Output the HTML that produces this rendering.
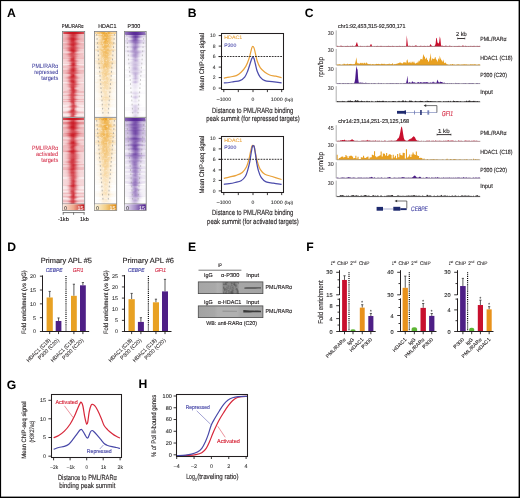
<!DOCTYPE html><html><head><meta charset="utf-8"><title>Figure</title><style>html,body{margin:0;padding:0;background:#fff;width:520px;height:498px;overflow:hidden;}svg{display:block;font-family:"Liberation Sans",sans-serif;will-change:transform;text-rendering:geometricPrecision;}</style></head><body><svg width="520" height="498" viewBox="0 0 520 498" font-family="&quot;Liberation Sans&quot;, sans-serif" fill="#231f20"><defs><style>.cr stop{stop-color:#c9141f}.co stop{stop-color:#eb9d1a}.cp stop{stop-color:#5a2a98}</style><linearGradient id="r00" class="cr"><stop offset="0" stop-opacity="0.00"/><stop offset="0.0833" stop-opacity="0.00"/><stop offset="0.167" stop-opacity="0.00"/><stop offset="0.25" stop-opacity="0.01"/><stop offset="0.333" stop-opacity="0.16"/><stop offset="0.417" stop-opacity="0.74"/><stop offset="0.5" stop-opacity="0.95"/><stop offset="0.583" stop-opacity="0.35"/><stop offset="0.667" stop-opacity="0.04"/><stop offset="0.75" stop-opacity="0.00"/><stop offset="0.833" stop-opacity="0.00"/><stop offset="0.917" stop-opacity="0.00"/><stop offset="1" stop-opacity="0.00"/></linearGradient><linearGradient id="r01" class="cr"><stop offset="0" stop-opacity="0.10"/><stop offset="0.0833" stop-opacity="0.10"/><stop offset="0.167" stop-opacity="0.10"/><stop offset="0.25" stop-opacity="0.11"/><stop offset="0.333" stop-opacity="0.25"/><stop offset="0.417" stop-opacity="0.76"/><stop offset="0.5" stop-opacity="0.95"/><stop offset="0.583" stop-opacity="0.41"/><stop offset="0.667" stop-opacity="0.13"/><stop offset="0.75" stop-opacity="0.10"/><stop offset="0.833" stop-opacity="0.10"/><stop offset="0.917" stop-opacity="0.10"/><stop offset="1" stop-opacity="0.10"/></linearGradient><linearGradient id="r02" class="cr"><stop offset="0" stop-opacity="0.20"/><stop offset="0.0833" stop-opacity="0.20"/><stop offset="0.167" stop-opacity="0.20"/><stop offset="0.25" stop-opacity="0.21"/><stop offset="0.333" stop-opacity="0.33"/><stop offset="0.417" stop-opacity="0.79"/><stop offset="0.5" stop-opacity="0.96"/><stop offset="0.583" stop-opacity="0.48"/><stop offset="0.667" stop-opacity="0.23"/><stop offset="0.75" stop-opacity="0.20"/><stop offset="0.833" stop-opacity="0.20"/><stop offset="0.917" stop-opacity="0.20"/><stop offset="1" stop-opacity="0.20"/></linearGradient><linearGradient id="r03" class="cr"><stop offset="0" stop-opacity="0.32"/><stop offset="0.0833" stop-opacity="0.32"/><stop offset="0.167" stop-opacity="0.32"/><stop offset="0.25" stop-opacity="0.33"/><stop offset="0.333" stop-opacity="0.43"/><stop offset="0.417" stop-opacity="0.82"/><stop offset="0.5" stop-opacity="0.96"/><stop offset="0.583" stop-opacity="0.56"/><stop offset="0.667" stop-opacity="0.34"/><stop offset="0.75" stop-opacity="0.32"/><stop offset="0.833" stop-opacity="0.32"/><stop offset="0.917" stop-opacity="0.32"/><stop offset="1" stop-opacity="0.32"/></linearGradient><linearGradient id="r04" class="cr"><stop offset="0" stop-opacity="0.46"/><stop offset="0.0833" stop-opacity="0.46"/><stop offset="0.167" stop-opacity="0.46"/><stop offset="0.25" stop-opacity="0.47"/><stop offset="0.333" stop-opacity="0.55"/><stop offset="0.417" stop-opacity="0.86"/><stop offset="0.5" stop-opacity="0.97"/><stop offset="0.583" stop-opacity="0.65"/><stop offset="0.667" stop-opacity="0.48"/><stop offset="0.75" stop-opacity="0.46"/><stop offset="0.833" stop-opacity="0.46"/><stop offset="0.917" stop-opacity="0.46"/><stop offset="1" stop-opacity="0.46"/></linearGradient><linearGradient id="r05" class="cr"><stop offset="0" stop-opacity="0.62"/><stop offset="0.0833" stop-opacity="0.62"/><stop offset="0.167" stop-opacity="0.62"/><stop offset="0.25" stop-opacity="0.62"/><stop offset="0.333" stop-opacity="0.68"/><stop offset="0.417" stop-opacity="0.90"/><stop offset="0.5" stop-opacity="0.98"/><stop offset="0.583" stop-opacity="0.75"/><stop offset="0.667" stop-opacity="0.63"/><stop offset="0.75" stop-opacity="0.62"/><stop offset="0.833" stop-opacity="0.62"/><stop offset="0.917" stop-opacity="0.62"/><stop offset="1" stop-opacity="0.62"/></linearGradient><linearGradient id="r10" class="cr"><stop offset="0" stop-opacity="0.00"/><stop offset="0.0833" stop-opacity="0.00"/><stop offset="0.167" stop-opacity="0.01"/><stop offset="0.25" stop-opacity="0.07"/><stop offset="0.333" stop-opacity="0.35"/><stop offset="0.417" stop-opacity="0.84"/><stop offset="0.5" stop-opacity="0.97"/><stop offset="0.583" stop-opacity="0.54"/><stop offset="0.667" stop-opacity="0.15"/><stop offset="0.75" stop-opacity="0.02"/><stop offset="0.833" stop-opacity="0.00"/><stop offset="0.917" stop-opacity="0.00"/><stop offset="1" stop-opacity="0.00"/></linearGradient><linearGradient id="r11" class="cr"><stop offset="0" stop-opacity="0.10"/><stop offset="0.0833" stop-opacity="0.10"/><stop offset="0.167" stop-opacity="0.11"/><stop offset="0.25" stop-opacity="0.16"/><stop offset="0.333" stop-opacity="0.41"/><stop offset="0.417" stop-opacity="0.85"/><stop offset="0.5" stop-opacity="0.97"/><stop offset="0.583" stop-opacity="0.59"/><stop offset="0.667" stop-opacity="0.23"/><stop offset="0.75" stop-opacity="0.12"/><stop offset="0.833" stop-opacity="0.10"/><stop offset="0.917" stop-opacity="0.10"/><stop offset="1" stop-opacity="0.10"/></linearGradient><linearGradient id="r12" class="cr"><stop offset="0" stop-opacity="0.20"/><stop offset="0.0833" stop-opacity="0.20"/><stop offset="0.167" stop-opacity="0.21"/><stop offset="0.25" stop-opacity="0.26"/><stop offset="0.333" stop-opacity="0.48"/><stop offset="0.417" stop-opacity="0.87"/><stop offset="0.5" stop-opacity="0.97"/><stop offset="0.583" stop-opacity="0.63"/><stop offset="0.667" stop-opacity="0.32"/><stop offset="0.75" stop-opacity="0.22"/><stop offset="0.833" stop-opacity="0.20"/><stop offset="0.917" stop-opacity="0.20"/><stop offset="1" stop-opacity="0.20"/></linearGradient><linearGradient id="r13" class="cr"><stop offset="0" stop-opacity="0.32"/><stop offset="0.0833" stop-opacity="0.32"/><stop offset="0.167" stop-opacity="0.32"/><stop offset="0.25" stop-opacity="0.37"/><stop offset="0.333" stop-opacity="0.56"/><stop offset="0.417" stop-opacity="0.89"/><stop offset="0.5" stop-opacity="0.98"/><stop offset="0.583" stop-opacity="0.69"/><stop offset="0.667" stop-opacity="0.42"/><stop offset="0.75" stop-opacity="0.33"/><stop offset="0.833" stop-opacity="0.32"/><stop offset="0.917" stop-opacity="0.32"/><stop offset="1" stop-opacity="0.32"/></linearGradient><linearGradient id="r14" class="cr"><stop offset="0" stop-opacity="0.46"/><stop offset="0.0833" stop-opacity="0.46"/><stop offset="0.167" stop-opacity="0.46"/><stop offset="0.25" stop-opacity="0.50"/><stop offset="0.333" stop-opacity="0.65"/><stop offset="0.417" stop-opacity="0.91"/><stop offset="0.5" stop-opacity="0.98"/><stop offset="0.583" stop-opacity="0.75"/><stop offset="0.667" stop-opacity="0.54"/><stop offset="0.75" stop-opacity="0.47"/><stop offset="0.833" stop-opacity="0.46"/><stop offset="0.917" stop-opacity="0.46"/><stop offset="1" stop-opacity="0.46"/></linearGradient><linearGradient id="r15" class="cr"><stop offset="0" stop-opacity="0.62"/><stop offset="0.0833" stop-opacity="0.62"/><stop offset="0.167" stop-opacity="0.62"/><stop offset="0.25" stop-opacity="0.65"/><stop offset="0.333" stop-opacity="0.75"/><stop offset="0.417" stop-opacity="0.94"/><stop offset="0.5" stop-opacity="0.99"/><stop offset="0.583" stop-opacity="0.83"/><stop offset="0.667" stop-opacity="0.68"/><stop offset="0.75" stop-opacity="0.63"/><stop offset="0.833" stop-opacity="0.62"/><stop offset="0.917" stop-opacity="0.62"/><stop offset="1" stop-opacity="0.62"/></linearGradient><linearGradient id="r20" class="cr"><stop offset="0" stop-opacity="0.00"/><stop offset="0.0833" stop-opacity="0.01"/><stop offset="0.167" stop-opacity="0.05"/><stop offset="0.25" stop-opacity="0.20"/><stop offset="0.333" stop-opacity="0.53"/><stop offset="0.417" stop-opacity="0.90"/><stop offset="0.5" stop-opacity="0.98"/><stop offset="0.583" stop-opacity="0.69"/><stop offset="0.667" stop-opacity="0.31"/><stop offset="0.75" stop-opacity="0.09"/><stop offset="0.833" stop-opacity="0.02"/><stop offset="0.917" stop-opacity="0.00"/><stop offset="1" stop-opacity="0.00"/></linearGradient><linearGradient id="r21" class="cr"><stop offset="0" stop-opacity="0.10"/><stop offset="0.0833" stop-opacity="0.11"/><stop offset="0.167" stop-opacity="0.14"/><stop offset="0.25" stop-opacity="0.28"/><stop offset="0.333" stop-opacity="0.58"/><stop offset="0.417" stop-opacity="0.91"/><stop offset="0.5" stop-opacity="0.98"/><stop offset="0.583" stop-opacity="0.72"/><stop offset="0.667" stop-opacity="0.38"/><stop offset="0.75" stop-opacity="0.18"/><stop offset="0.833" stop-opacity="0.12"/><stop offset="0.917" stop-opacity="0.10"/><stop offset="1" stop-opacity="0.10"/></linearGradient><linearGradient id="r22" class="cr"><stop offset="0" stop-opacity="0.20"/><stop offset="0.0833" stop-opacity="0.21"/><stop offset="0.167" stop-opacity="0.24"/><stop offset="0.25" stop-opacity="0.36"/><stop offset="0.333" stop-opacity="0.62"/><stop offset="0.417" stop-opacity="0.92"/><stop offset="0.5" stop-opacity="0.98"/><stop offset="0.583" stop-opacity="0.75"/><stop offset="0.667" stop-opacity="0.45"/><stop offset="0.75" stop-opacity="0.27"/><stop offset="0.833" stop-opacity="0.21"/><stop offset="0.917" stop-opacity="0.20"/><stop offset="1" stop-opacity="0.20"/></linearGradient><linearGradient id="r23" class="cr"><stop offset="0" stop-opacity="0.32"/><stop offset="0.0833" stop-opacity="0.33"/><stop offset="0.167" stop-opacity="0.35"/><stop offset="0.25" stop-opacity="0.46"/><stop offset="0.333" stop-opacity="0.68"/><stop offset="0.417" stop-opacity="0.93"/><stop offset="0.5" stop-opacity="0.99"/><stop offset="0.583" stop-opacity="0.79"/><stop offset="0.667" stop-opacity="0.53"/><stop offset="0.75" stop-opacity="0.38"/><stop offset="0.833" stop-opacity="0.33"/><stop offset="0.917" stop-opacity="0.32"/><stop offset="1" stop-opacity="0.32"/></linearGradient><linearGradient id="r24" class="cr"><stop offset="0" stop-opacity="0.46"/><stop offset="0.0833" stop-opacity="0.46"/><stop offset="0.167" stop-opacity="0.49"/><stop offset="0.25" stop-opacity="0.57"/><stop offset="0.333" stop-opacity="0.75"/><stop offset="0.417" stop-opacity="0.94"/><stop offset="0.5" stop-opacity="0.99"/><stop offset="0.583" stop-opacity="0.83"/><stop offset="0.667" stop-opacity="0.63"/><stop offset="0.75" stop-opacity="0.51"/><stop offset="0.833" stop-opacity="0.47"/><stop offset="0.917" stop-opacity="0.46"/><stop offset="1" stop-opacity="0.46"/></linearGradient><linearGradient id="r25" class="cr"><stop offset="0" stop-opacity="0.62"/><stop offset="0.0833" stop-opacity="0.62"/><stop offset="0.167" stop-opacity="0.64"/><stop offset="0.25" stop-opacity="0.70"/><stop offset="0.333" stop-opacity="0.82"/><stop offset="0.417" stop-opacity="0.96"/><stop offset="0.5" stop-opacity="0.99"/><stop offset="0.583" stop-opacity="0.88"/><stop offset="0.667" stop-opacity="0.74"/><stop offset="0.75" stop-opacity="0.65"/><stop offset="0.833" stop-opacity="0.63"/><stop offset="0.917" stop-opacity="0.62"/><stop offset="1" stop-opacity="0.62"/></linearGradient><linearGradient id="r30" class="cr"><stop offset="0" stop-opacity="0.01"/><stop offset="0.0833" stop-opacity="0.05"/><stop offset="0.167" stop-opacity="0.15"/><stop offset="0.25" stop-opacity="0.36"/><stop offset="0.333" stop-opacity="0.67"/><stop offset="0.417" stop-opacity="0.93"/><stop offset="0.5" stop-opacity="0.99"/><stop offset="0.583" stop-opacity="0.79"/><stop offset="0.667" stop-opacity="0.48"/><stop offset="0.75" stop-opacity="0.22"/><stop offset="0.833" stop-opacity="0.08"/><stop offset="0.917" stop-opacity="0.02"/><stop offset="1" stop-opacity="0.00"/></linearGradient><linearGradient id="r31" class="cr"><stop offset="0" stop-opacity="0.11"/><stop offset="0.0833" stop-opacity="0.14"/><stop offset="0.167" stop-opacity="0.23"/><stop offset="0.25" stop-opacity="0.43"/><stop offset="0.333" stop-opacity="0.70"/><stop offset="0.417" stop-opacity="0.94"/><stop offset="0.5" stop-opacity="0.99"/><stop offset="0.583" stop-opacity="0.81"/><stop offset="0.667" stop-opacity="0.53"/><stop offset="0.75" stop-opacity="0.30"/><stop offset="0.833" stop-opacity="0.17"/><stop offset="0.917" stop-opacity="0.12"/><stop offset="1" stop-opacity="0.10"/></linearGradient><linearGradient id="r32" class="cr"><stop offset="0" stop-opacity="0.21"/><stop offset="0.0833" stop-opacity="0.24"/><stop offset="0.167" stop-opacity="0.32"/><stop offset="0.25" stop-opacity="0.49"/><stop offset="0.333" stop-opacity="0.74"/><stop offset="0.417" stop-opacity="0.95"/><stop offset="0.5" stop-opacity="0.99"/><stop offset="0.583" stop-opacity="0.83"/><stop offset="0.667" stop-opacity="0.58"/><stop offset="0.75" stop-opacity="0.38"/><stop offset="0.833" stop-opacity="0.26"/><stop offset="0.917" stop-opacity="0.22"/><stop offset="1" stop-opacity="0.20"/></linearGradient><linearGradient id="r33" class="cr"><stop offset="0" stop-opacity="0.33"/><stop offset="0.0833" stop-opacity="0.35"/><stop offset="0.167" stop-opacity="0.42"/><stop offset="0.25" stop-opacity="0.57"/><stop offset="0.333" stop-opacity="0.78"/><stop offset="0.417" stop-opacity="0.96"/><stop offset="0.5" stop-opacity="0.99"/><stop offset="0.583" stop-opacity="0.86"/><stop offset="0.667" stop-opacity="0.65"/><stop offset="0.75" stop-opacity="0.47"/><stop offset="0.833" stop-opacity="0.37"/><stop offset="0.917" stop-opacity="0.33"/><stop offset="1" stop-opacity="0.32"/></linearGradient><linearGradient id="r34" class="cr"><stop offset="0" stop-opacity="0.47"/><stop offset="0.0833" stop-opacity="0.49"/><stop offset="0.167" stop-opacity="0.54"/><stop offset="0.25" stop-opacity="0.66"/><stop offset="0.333" stop-opacity="0.82"/><stop offset="0.417" stop-opacity="0.96"/><stop offset="0.5" stop-opacity="0.99"/><stop offset="0.583" stop-opacity="0.89"/><stop offset="0.667" stop-opacity="0.72"/><stop offset="0.75" stop-opacity="0.58"/><stop offset="0.833" stop-opacity="0.50"/><stop offset="0.917" stop-opacity="0.47"/><stop offset="1" stop-opacity="0.46"/></linearGradient><linearGradient id="r35" class="cr"><stop offset="0" stop-opacity="0.62"/><stop offset="0.0833" stop-opacity="0.64"/><stop offset="0.167" stop-opacity="0.68"/><stop offset="0.25" stop-opacity="0.76"/><stop offset="0.333" stop-opacity="0.87"/><stop offset="0.417" stop-opacity="0.98"/><stop offset="0.5" stop-opacity="1.00"/><stop offset="0.583" stop-opacity="0.92"/><stop offset="0.667" stop-opacity="0.80"/><stop offset="0.75" stop-opacity="0.70"/><stop offset="0.833" stop-opacity="0.65"/><stop offset="0.917" stop-opacity="0.63"/><stop offset="1" stop-opacity="0.62"/></linearGradient><linearGradient id="r40" class="cr"><stop offset="0" stop-opacity="0.06"/><stop offset="0.0833" stop-opacity="0.15"/><stop offset="0.167" stop-opacity="0.30"/><stop offset="0.25" stop-opacity="0.53"/><stop offset="0.333" stop-opacity="0.78"/><stop offset="0.417" stop-opacity="0.96"/><stop offset="0.5" stop-opacity="0.99"/><stop offset="0.583" stop-opacity="0.86"/><stop offset="0.667" stop-opacity="0.63"/><stop offset="0.75" stop-opacity="0.39"/><stop offset="0.833" stop-opacity="0.20"/><stop offset="0.917" stop-opacity="0.09"/><stop offset="1" stop-opacity="0.03"/></linearGradient><linearGradient id="r41" class="cr"><stop offset="0" stop-opacity="0.15"/><stop offset="0.0833" stop-opacity="0.23"/><stop offset="0.167" stop-opacity="0.37"/><stop offset="0.25" stop-opacity="0.58"/><stop offset="0.333" stop-opacity="0.80"/><stop offset="0.417" stop-opacity="0.96"/><stop offset="0.5" stop-opacity="0.99"/><stop offset="0.583" stop-opacity="0.88"/><stop offset="0.667" stop-opacity="0.67"/><stop offset="0.75" stop-opacity="0.45"/><stop offset="0.833" stop-opacity="0.28"/><stop offset="0.917" stop-opacity="0.18"/><stop offset="1" stop-opacity="0.13"/></linearGradient><linearGradient id="r42" class="cr"><stop offset="0" stop-opacity="0.25"/><stop offset="0.0833" stop-opacity="0.32"/><stop offset="0.167" stop-opacity="0.44"/><stop offset="0.25" stop-opacity="0.62"/><stop offset="0.333" stop-opacity="0.82"/><stop offset="0.417" stop-opacity="0.97"/><stop offset="0.5" stop-opacity="0.99"/><stop offset="0.583" stop-opacity="0.89"/><stop offset="0.667" stop-opacity="0.71"/><stop offset="0.75" stop-opacity="0.51"/><stop offset="0.833" stop-opacity="0.36"/><stop offset="0.917" stop-opacity="0.27"/><stop offset="1" stop-opacity="0.23"/></linearGradient><linearGradient id="r43" class="cr"><stop offset="0" stop-opacity="0.36"/><stop offset="0.0833" stop-opacity="0.42"/><stop offset="0.167" stop-opacity="0.53"/><stop offset="0.25" stop-opacity="0.68"/><stop offset="0.333" stop-opacity="0.85"/><stop offset="0.417" stop-opacity="0.97"/><stop offset="0.5" stop-opacity="0.99"/><stop offset="0.583" stop-opacity="0.91"/><stop offset="0.667" stop-opacity="0.75"/><stop offset="0.75" stop-opacity="0.58"/><stop offset="0.833" stop-opacity="0.46"/><stop offset="0.917" stop-opacity="0.38"/><stop offset="1" stop-opacity="0.34"/></linearGradient><linearGradient id="r44" class="cr"><stop offset="0" stop-opacity="0.49"/><stop offset="0.0833" stop-opacity="0.54"/><stop offset="0.167" stop-opacity="0.62"/><stop offset="0.25" stop-opacity="0.75"/><stop offset="0.333" stop-opacity="0.88"/><stop offset="0.417" stop-opacity="0.98"/><stop offset="0.5" stop-opacity="1.00"/><stop offset="0.583" stop-opacity="0.93"/><stop offset="0.667" stop-opacity="0.80"/><stop offset="0.75" stop-opacity="0.67"/><stop offset="0.833" stop-opacity="0.57"/><stop offset="0.917" stop-opacity="0.51"/><stop offset="1" stop-opacity="0.48"/></linearGradient><linearGradient id="r45" class="cr"><stop offset="0" stop-opacity="0.64"/><stop offset="0.0833" stop-opacity="0.68"/><stop offset="0.167" stop-opacity="0.74"/><stop offset="0.25" stop-opacity="0.82"/><stop offset="0.333" stop-opacity="0.92"/><stop offset="0.417" stop-opacity="0.98"/><stop offset="0.5" stop-opacity="1.00"/><stop offset="0.583" stop-opacity="0.95"/><stop offset="0.667" stop-opacity="0.86"/><stop offset="0.75" stop-opacity="0.77"/><stop offset="0.833" stop-opacity="0.70"/><stop offset="0.917" stop-opacity="0.65"/><stop offset="1" stop-opacity="0.63"/></linearGradient><linearGradient id="r50" class="cr"><stop offset="0" stop-opacity="0.18"/><stop offset="0.0833" stop-opacity="0.31"/><stop offset="0.167" stop-opacity="0.48"/><stop offset="0.25" stop-opacity="0.68"/><stop offset="0.333" stop-opacity="0.86"/><stop offset="0.417" stop-opacity="0.97"/><stop offset="0.5" stop-opacity="1.00"/><stop offset="0.583" stop-opacity="0.91"/><stop offset="0.667" stop-opacity="0.76"/><stop offset="0.75" stop-opacity="0.56"/><stop offset="0.833" stop-opacity="0.37"/><stop offset="0.917" stop-opacity="0.23"/><stop offset="1" stop-opacity="0.12"/></linearGradient><linearGradient id="r51" class="cr"><stop offset="0" stop-opacity="0.26"/><stop offset="0.0833" stop-opacity="0.38"/><stop offset="0.167" stop-opacity="0.54"/><stop offset="0.25" stop-opacity="0.71"/><stop offset="0.333" stop-opacity="0.87"/><stop offset="0.417" stop-opacity="0.98"/><stop offset="0.5" stop-opacity="1.00"/><stop offset="0.583" stop-opacity="0.92"/><stop offset="0.667" stop-opacity="0.78"/><stop offset="0.75" stop-opacity="0.61"/><stop offset="0.833" stop-opacity="0.44"/><stop offset="0.917" stop-opacity="0.30"/><stop offset="1" stop-opacity="0.21"/></linearGradient><linearGradient id="r52" class="cr"><stop offset="0" stop-opacity="0.34"/><stop offset="0.0833" stop-opacity="0.45"/><stop offset="0.167" stop-opacity="0.59"/><stop offset="0.25" stop-opacity="0.74"/><stop offset="0.333" stop-opacity="0.89"/><stop offset="0.417" stop-opacity="0.98"/><stop offset="0.5" stop-opacity="1.00"/><stop offset="0.583" stop-opacity="0.93"/><stop offset="0.667" stop-opacity="0.80"/><stop offset="0.75" stop-opacity="0.65"/><stop offset="0.833" stop-opacity="0.50"/><stop offset="0.917" stop-opacity="0.38"/><stop offset="1" stop-opacity="0.30"/></linearGradient><linearGradient id="r53" class="cr"><stop offset="0" stop-opacity="0.44"/><stop offset="0.0833" stop-opacity="0.53"/><stop offset="0.167" stop-opacity="0.65"/><stop offset="0.25" stop-opacity="0.78"/><stop offset="0.333" stop-opacity="0.90"/><stop offset="0.417" stop-opacity="0.98"/><stop offset="0.5" stop-opacity="1.00"/><stop offset="0.583" stop-opacity="0.94"/><stop offset="0.667" stop-opacity="0.83"/><stop offset="0.75" stop-opacity="0.70"/><stop offset="0.833" stop-opacity="0.57"/><stop offset="0.917" stop-opacity="0.47"/><stop offset="1" stop-opacity="0.40"/></linearGradient><linearGradient id="r54" class="cr"><stop offset="0" stop-opacity="0.56"/><stop offset="0.0833" stop-opacity="0.63"/><stop offset="0.167" stop-opacity="0.72"/><stop offset="0.25" stop-opacity="0.83"/><stop offset="0.333" stop-opacity="0.92"/><stop offset="0.417" stop-opacity="0.99"/><stop offset="0.5" stop-opacity="1.00"/><stop offset="0.583" stop-opacity="0.95"/><stop offset="0.667" stop-opacity="0.87"/><stop offset="0.75" stop-opacity="0.76"/><stop offset="0.833" stop-opacity="0.66"/><stop offset="0.917" stop-opacity="0.58"/><stop offset="1" stop-opacity="0.53"/></linearGradient><linearGradient id="r55" class="cr"><stop offset="0" stop-opacity="0.69"/><stop offset="0.0833" stop-opacity="0.74"/><stop offset="0.167" stop-opacity="0.80"/><stop offset="0.25" stop-opacity="0.88"/><stop offset="0.333" stop-opacity="0.95"/><stop offset="0.417" stop-opacity="0.99"/><stop offset="0.5" stop-opacity="1.00"/><stop offset="0.583" stop-opacity="0.97"/><stop offset="0.667" stop-opacity="0.91"/><stop offset="0.75" stop-opacity="0.83"/><stop offset="0.833" stop-opacity="0.76"/><stop offset="0.917" stop-opacity="0.71"/><stop offset="1" stop-opacity="0.67"/></linearGradient><linearGradient id="r60" class="cr"><stop offset="0" stop-opacity="0.34"/><stop offset="0.0833" stop-opacity="0.49"/><stop offset="0.167" stop-opacity="0.64"/><stop offset="0.25" stop-opacity="0.79"/><stop offset="0.333" stop-opacity="0.91"/><stop offset="0.417" stop-opacity="0.98"/><stop offset="0.5" stop-opacity="1.00"/><stop offset="0.583" stop-opacity="0.95"/><stop offset="0.667" stop-opacity="0.84"/><stop offset="0.75" stop-opacity="0.70"/><stop offset="0.833" stop-opacity="0.55"/><stop offset="0.917" stop-opacity="0.40"/><stop offset="1" stop-opacity="0.27"/></linearGradient><linearGradient id="r61" class="cr"><stop offset="0" stop-opacity="0.41"/><stop offset="0.0833" stop-opacity="0.54"/><stop offset="0.167" stop-opacity="0.67"/><stop offset="0.25" stop-opacity="0.81"/><stop offset="0.333" stop-opacity="0.92"/><stop offset="0.417" stop-opacity="0.99"/><stop offset="0.5" stop-opacity="1.00"/><stop offset="0.583" stop-opacity="0.95"/><stop offset="0.667" stop-opacity="0.86"/><stop offset="0.75" stop-opacity="0.73"/><stop offset="0.833" stop-opacity="0.59"/><stop offset="0.917" stop-opacity="0.46"/><stop offset="1" stop-opacity="0.35"/></linearGradient><linearGradient id="r62" class="cr"><stop offset="0" stop-opacity="0.48"/><stop offset="0.0833" stop-opacity="0.59"/><stop offset="0.167" stop-opacity="0.71"/><stop offset="0.25" stop-opacity="0.83"/><stop offset="0.333" stop-opacity="0.93"/><stop offset="0.417" stop-opacity="0.99"/><stop offset="0.5" stop-opacity="1.00"/><stop offset="0.583" stop-opacity="0.96"/><stop offset="0.667" stop-opacity="0.87"/><stop offset="0.75" stop-opacity="0.76"/><stop offset="0.833" stop-opacity="0.64"/><stop offset="0.917" stop-opacity="0.52"/><stop offset="1" stop-opacity="0.42"/></linearGradient><linearGradient id="r63" class="cr"><stop offset="0" stop-opacity="0.55"/><stop offset="0.0833" stop-opacity="0.65"/><stop offset="0.167" stop-opacity="0.75"/><stop offset="0.25" stop-opacity="0.86"/><stop offset="0.333" stop-opacity="0.94"/><stop offset="0.417" stop-opacity="0.99"/><stop offset="0.5" stop-opacity="1.00"/><stop offset="0.583" stop-opacity="0.96"/><stop offset="0.667" stop-opacity="0.89"/><stop offset="0.75" stop-opacity="0.80"/><stop offset="0.833" stop-opacity="0.69"/><stop offset="0.917" stop-opacity="0.59"/><stop offset="1" stop-opacity="0.51"/></linearGradient><linearGradient id="r64" class="cr"><stop offset="0" stop-opacity="0.65"/><stop offset="0.0833" stop-opacity="0.72"/><stop offset="0.167" stop-opacity="0.80"/><stop offset="0.25" stop-opacity="0.89"/><stop offset="0.333" stop-opacity="0.95"/><stop offset="0.417" stop-opacity="0.99"/><stop offset="0.5" stop-opacity="1.00"/><stop offset="0.583" stop-opacity="0.97"/><stop offset="0.667" stop-opacity="0.91"/><stop offset="0.75" stop-opacity="0.84"/><stop offset="0.833" stop-opacity="0.75"/><stop offset="0.917" stop-opacity="0.68"/><stop offset="1" stop-opacity="0.61"/></linearGradient><linearGradient id="r65" class="cr"><stop offset="0" stop-opacity="0.75"/><stop offset="0.0833" stop-opacity="0.80"/><stop offset="0.167" stop-opacity="0.86"/><stop offset="0.25" stop-opacity="0.92"/><stop offset="0.333" stop-opacity="0.97"/><stop offset="0.417" stop-opacity="0.99"/><stop offset="0.5" stop-opacity="1.00"/><stop offset="0.583" stop-opacity="0.98"/><stop offset="0.667" stop-opacity="0.94"/><stop offset="0.75" stop-opacity="0.89"/><stop offset="0.833" stop-opacity="0.83"/><stop offset="0.917" stop-opacity="0.77"/><stop offset="1" stop-opacity="0.72"/></linearGradient><linearGradient id="o00" class="co"><stop offset="0" stop-opacity="0.00"/><stop offset="0.0833" stop-opacity="0.00"/><stop offset="0.167" stop-opacity="0.00"/><stop offset="0.25" stop-opacity="0.00"/><stop offset="0.333" stop-opacity="0.08"/><stop offset="0.417" stop-opacity="0.53"/><stop offset="0.5" stop-opacity="1.00"/><stop offset="0.583" stop-opacity="0.53"/><stop offset="0.667" stop-opacity="0.08"/><stop offset="0.75" stop-opacity="0.00"/><stop offset="0.833" stop-opacity="0.00"/><stop offset="0.917" stop-opacity="0.00"/><stop offset="1" stop-opacity="0.00"/></linearGradient><linearGradient id="o01" class="co"><stop offset="0" stop-opacity="0.10"/><stop offset="0.0833" stop-opacity="0.10"/><stop offset="0.167" stop-opacity="0.10"/><stop offset="0.25" stop-opacity="0.10"/><stop offset="0.333" stop-opacity="0.17"/><stop offset="0.417" stop-opacity="0.58"/><stop offset="0.5" stop-opacity="1.00"/><stop offset="0.583" stop-opacity="0.58"/><stop offset="0.667" stop-opacity="0.17"/><stop offset="0.75" stop-opacity="0.10"/><stop offset="0.833" stop-opacity="0.10"/><stop offset="0.917" stop-opacity="0.10"/><stop offset="1" stop-opacity="0.10"/></linearGradient><linearGradient id="o02" class="co"><stop offset="0" stop-opacity="0.20"/><stop offset="0.0833" stop-opacity="0.20"/><stop offset="0.167" stop-opacity="0.20"/><stop offset="0.25" stop-opacity="0.20"/><stop offset="0.333" stop-opacity="0.27"/><stop offset="0.417" stop-opacity="0.63"/><stop offset="0.5" stop-opacity="1.00"/><stop offset="0.583" stop-opacity="0.63"/><stop offset="0.667" stop-opacity="0.27"/><stop offset="0.75" stop-opacity="0.20"/><stop offset="0.833" stop-opacity="0.20"/><stop offset="0.917" stop-opacity="0.20"/><stop offset="1" stop-opacity="0.20"/></linearGradient><linearGradient id="o03" class="co"><stop offset="0" stop-opacity="0.32"/><stop offset="0.0833" stop-opacity="0.32"/><stop offset="0.167" stop-opacity="0.32"/><stop offset="0.25" stop-opacity="0.32"/><stop offset="0.333" stop-opacity="0.38"/><stop offset="0.417" stop-opacity="0.68"/><stop offset="0.5" stop-opacity="1.00"/><stop offset="0.583" stop-opacity="0.68"/><stop offset="0.667" stop-opacity="0.38"/><stop offset="0.75" stop-opacity="0.32"/><stop offset="0.833" stop-opacity="0.32"/><stop offset="0.917" stop-opacity="0.32"/><stop offset="1" stop-opacity="0.32"/></linearGradient><linearGradient id="o04" class="co"><stop offset="0" stop-opacity="0.46"/><stop offset="0.0833" stop-opacity="0.46"/><stop offset="0.167" stop-opacity="0.46"/><stop offset="0.25" stop-opacity="0.46"/><stop offset="0.333" stop-opacity="0.50"/><stop offset="0.417" stop-opacity="0.75"/><stop offset="0.5" stop-opacity="1.00"/><stop offset="0.583" stop-opacity="0.75"/><stop offset="0.667" stop-opacity="0.50"/><stop offset="0.75" stop-opacity="0.46"/><stop offset="0.833" stop-opacity="0.46"/><stop offset="0.917" stop-opacity="0.46"/><stop offset="1" stop-opacity="0.46"/></linearGradient><linearGradient id="o05" class="co"><stop offset="0" stop-opacity="0.62"/><stop offset="0.0833" stop-opacity="0.62"/><stop offset="0.167" stop-opacity="0.62"/><stop offset="0.25" stop-opacity="0.62"/><stop offset="0.333" stop-opacity="0.65"/><stop offset="0.417" stop-opacity="0.82"/><stop offset="0.5" stop-opacity="1.00"/><stop offset="0.583" stop-opacity="0.82"/><stop offset="0.667" stop-opacity="0.65"/><stop offset="0.75" stop-opacity="0.62"/><stop offset="0.833" stop-opacity="0.62"/><stop offset="0.917" stop-opacity="0.62"/><stop offset="1" stop-opacity="0.62"/></linearGradient><linearGradient id="o10" class="co"><stop offset="0" stop-opacity="0.00"/><stop offset="0.0833" stop-opacity="0.00"/><stop offset="0.167" stop-opacity="0.00"/><stop offset="0.25" stop-opacity="0.04"/><stop offset="0.333" stop-opacity="0.23"/><stop offset="0.417" stop-opacity="0.69"/><stop offset="0.5" stop-opacity="1.00"/><stop offset="0.583" stop-opacity="0.69"/><stop offset="0.667" stop-opacity="0.23"/><stop offset="0.75" stop-opacity="0.04"/><stop offset="0.833" stop-opacity="0.00"/><stop offset="0.917" stop-opacity="0.00"/><stop offset="1" stop-opacity="0.00"/></linearGradient><linearGradient id="o11" class="co"><stop offset="0" stop-opacity="0.10"/><stop offset="0.0833" stop-opacity="0.10"/><stop offset="0.167" stop-opacity="0.10"/><stop offset="0.25" stop-opacity="0.13"/><stop offset="0.333" stop-opacity="0.31"/><stop offset="0.417" stop-opacity="0.73"/><stop offset="0.5" stop-opacity="1.00"/><stop offset="0.583" stop-opacity="0.73"/><stop offset="0.667" stop-opacity="0.31"/><stop offset="0.75" stop-opacity="0.13"/><stop offset="0.833" stop-opacity="0.10"/><stop offset="0.917" stop-opacity="0.10"/><stop offset="1" stop-opacity="0.10"/></linearGradient><linearGradient id="o12" class="co"><stop offset="0" stop-opacity="0.20"/><stop offset="0.0833" stop-opacity="0.20"/><stop offset="0.167" stop-opacity="0.20"/><stop offset="0.25" stop-opacity="0.23"/><stop offset="0.333" stop-opacity="0.39"/><stop offset="0.417" stop-opacity="0.76"/><stop offset="0.5" stop-opacity="1.00"/><stop offset="0.583" stop-opacity="0.76"/><stop offset="0.667" stop-opacity="0.39"/><stop offset="0.75" stop-opacity="0.23"/><stop offset="0.833" stop-opacity="0.20"/><stop offset="0.917" stop-opacity="0.20"/><stop offset="1" stop-opacity="0.20"/></linearGradient><linearGradient id="o13" class="co"><stop offset="0" stop-opacity="0.32"/><stop offset="0.0833" stop-opacity="0.32"/><stop offset="0.167" stop-opacity="0.32"/><stop offset="0.25" stop-opacity="0.35"/><stop offset="0.333" stop-opacity="0.48"/><stop offset="0.417" stop-opacity="0.79"/><stop offset="0.5" stop-opacity="1.00"/><stop offset="0.583" stop-opacity="0.79"/><stop offset="0.667" stop-opacity="0.48"/><stop offset="0.75" stop-opacity="0.35"/><stop offset="0.833" stop-opacity="0.32"/><stop offset="0.917" stop-opacity="0.32"/><stop offset="1" stop-opacity="0.32"/></linearGradient><linearGradient id="o14" class="co"><stop offset="0" stop-opacity="0.46"/><stop offset="0.0833" stop-opacity="0.46"/><stop offset="0.167" stop-opacity="0.46"/><stop offset="0.25" stop-opacity="0.48"/><stop offset="0.333" stop-opacity="0.59"/><stop offset="0.417" stop-opacity="0.84"/><stop offset="0.5" stop-opacity="1.00"/><stop offset="0.583" stop-opacity="0.84"/><stop offset="0.667" stop-opacity="0.59"/><stop offset="0.75" stop-opacity="0.48"/><stop offset="0.833" stop-opacity="0.46"/><stop offset="0.917" stop-opacity="0.46"/><stop offset="1" stop-opacity="0.46"/></linearGradient><linearGradient id="o15" class="co"><stop offset="0" stop-opacity="0.62"/><stop offset="0.0833" stop-opacity="0.62"/><stop offset="0.167" stop-opacity="0.62"/><stop offset="0.25" stop-opacity="0.63"/><stop offset="0.333" stop-opacity="0.71"/><stop offset="0.417" stop-opacity="0.88"/><stop offset="0.5" stop-opacity="1.00"/><stop offset="0.583" stop-opacity="0.88"/><stop offset="0.667" stop-opacity="0.71"/><stop offset="0.75" stop-opacity="0.63"/><stop offset="0.833" stop-opacity="0.62"/><stop offset="0.917" stop-opacity="0.62"/><stop offset="1" stop-opacity="0.62"/></linearGradient><linearGradient id="o20" class="co"><stop offset="0" stop-opacity="0.00"/><stop offset="0.0833" stop-opacity="0.00"/><stop offset="0.167" stop-opacity="0.03"/><stop offset="0.25" stop-opacity="0.14"/><stop offset="0.333" stop-opacity="0.41"/><stop offset="0.417" stop-opacity="0.80"/><stop offset="0.5" stop-opacity="1.00"/><stop offset="0.583" stop-opacity="0.80"/><stop offset="0.667" stop-opacity="0.41"/><stop offset="0.75" stop-opacity="0.14"/><stop offset="0.833" stop-opacity="0.03"/><stop offset="0.917" stop-opacity="0.00"/><stop offset="1" stop-opacity="0.00"/></linearGradient><linearGradient id="o21" class="co"><stop offset="0" stop-opacity="0.10"/><stop offset="0.0833" stop-opacity="0.10"/><stop offset="0.167" stop-opacity="0.13"/><stop offset="0.25" stop-opacity="0.22"/><stop offset="0.333" stop-opacity="0.47"/><stop offset="0.417" stop-opacity="0.82"/><stop offset="0.5" stop-opacity="1.00"/><stop offset="0.583" stop-opacity="0.82"/><stop offset="0.667" stop-opacity="0.47"/><stop offset="0.75" stop-opacity="0.22"/><stop offset="0.833" stop-opacity="0.13"/><stop offset="0.917" stop-opacity="0.10"/><stop offset="1" stop-opacity="0.10"/></linearGradient><linearGradient id="o22" class="co"><stop offset="0" stop-opacity="0.20"/><stop offset="0.0833" stop-opacity="0.20"/><stop offset="0.167" stop-opacity="0.22"/><stop offset="0.25" stop-opacity="0.31"/><stop offset="0.333" stop-opacity="0.53"/><stop offset="0.417" stop-opacity="0.84"/><stop offset="0.5" stop-opacity="1.00"/><stop offset="0.583" stop-opacity="0.84"/><stop offset="0.667" stop-opacity="0.53"/><stop offset="0.75" stop-opacity="0.31"/><stop offset="0.833" stop-opacity="0.22"/><stop offset="0.917" stop-opacity="0.20"/><stop offset="1" stop-opacity="0.20"/></linearGradient><linearGradient id="o23" class="co"><stop offset="0" stop-opacity="0.32"/><stop offset="0.0833" stop-opacity="0.32"/><stop offset="0.167" stop-opacity="0.34"/><stop offset="0.25" stop-opacity="0.41"/><stop offset="0.333" stop-opacity="0.60"/><stop offset="0.417" stop-opacity="0.87"/><stop offset="0.5" stop-opacity="1.00"/><stop offset="0.583" stop-opacity="0.87"/><stop offset="0.667" stop-opacity="0.60"/><stop offset="0.75" stop-opacity="0.41"/><stop offset="0.833" stop-opacity="0.34"/><stop offset="0.917" stop-opacity="0.32"/><stop offset="1" stop-opacity="0.32"/></linearGradient><linearGradient id="o24" class="co"><stop offset="0" stop-opacity="0.46"/><stop offset="0.0833" stop-opacity="0.46"/><stop offset="0.167" stop-opacity="0.48"/><stop offset="0.25" stop-opacity="0.53"/><stop offset="0.333" stop-opacity="0.68"/><stop offset="0.417" stop-opacity="0.89"/><stop offset="0.5" stop-opacity="1.00"/><stop offset="0.583" stop-opacity="0.89"/><stop offset="0.667" stop-opacity="0.68"/><stop offset="0.75" stop-opacity="0.53"/><stop offset="0.833" stop-opacity="0.48"/><stop offset="0.917" stop-opacity="0.46"/><stop offset="1" stop-opacity="0.46"/></linearGradient><linearGradient id="o25" class="co"><stop offset="0" stop-opacity="0.62"/><stop offset="0.0833" stop-opacity="0.62"/><stop offset="0.167" stop-opacity="0.63"/><stop offset="0.25" stop-opacity="0.67"/><stop offset="0.333" stop-opacity="0.78"/><stop offset="0.417" stop-opacity="0.92"/><stop offset="0.5" stop-opacity="1.00"/><stop offset="0.583" stop-opacity="0.92"/><stop offset="0.667" stop-opacity="0.78"/><stop offset="0.75" stop-opacity="0.67"/><stop offset="0.833" stop-opacity="0.63"/><stop offset="0.917" stop-opacity="0.62"/><stop offset="1" stop-opacity="0.62"/></linearGradient><linearGradient id="o30" class="co"><stop offset="0" stop-opacity="0.01"/><stop offset="0.0833" stop-opacity="0.03"/><stop offset="0.167" stop-opacity="0.11"/><stop offset="0.25" stop-opacity="0.29"/><stop offset="0.333" stop-opacity="0.57"/><stop offset="0.417" stop-opacity="0.87"/><stop offset="0.5" stop-opacity="1.00"/><stop offset="0.583" stop-opacity="0.87"/><stop offset="0.667" stop-opacity="0.57"/><stop offset="0.75" stop-opacity="0.29"/><stop offset="0.833" stop-opacity="0.11"/><stop offset="0.917" stop-opacity="0.03"/><stop offset="1" stop-opacity="0.01"/></linearGradient><linearGradient id="o31" class="co"><stop offset="0" stop-opacity="0.11"/><stop offset="0.0833" stop-opacity="0.13"/><stop offset="0.167" stop-opacity="0.20"/><stop offset="0.25" stop-opacity="0.36"/><stop offset="0.333" stop-opacity="0.62"/><stop offset="0.417" stop-opacity="0.88"/><stop offset="0.5" stop-opacity="1.00"/><stop offset="0.583" stop-opacity="0.88"/><stop offset="0.667" stop-opacity="0.62"/><stop offset="0.75" stop-opacity="0.36"/><stop offset="0.833" stop-opacity="0.20"/><stop offset="0.917" stop-opacity="0.13"/><stop offset="1" stop-opacity="0.11"/></linearGradient><linearGradient id="o32" class="co"><stop offset="0" stop-opacity="0.21"/><stop offset="0.0833" stop-opacity="0.22"/><stop offset="0.167" stop-opacity="0.29"/><stop offset="0.25" stop-opacity="0.43"/><stop offset="0.333" stop-opacity="0.66"/><stop offset="0.417" stop-opacity="0.90"/><stop offset="0.5" stop-opacity="1.00"/><stop offset="0.583" stop-opacity="0.90"/><stop offset="0.667" stop-opacity="0.66"/><stop offset="0.75" stop-opacity="0.43"/><stop offset="0.833" stop-opacity="0.29"/><stop offset="0.917" stop-opacity="0.22"/><stop offset="1" stop-opacity="0.21"/></linearGradient><linearGradient id="o33" class="co"><stop offset="0" stop-opacity="0.32"/><stop offset="0.0833" stop-opacity="0.34"/><stop offset="0.167" stop-opacity="0.39"/><stop offset="0.25" stop-opacity="0.51"/><stop offset="0.333" stop-opacity="0.71"/><stop offset="0.417" stop-opacity="0.91"/><stop offset="0.5" stop-opacity="1.00"/><stop offset="0.583" stop-opacity="0.91"/><stop offset="0.667" stop-opacity="0.71"/><stop offset="0.75" stop-opacity="0.51"/><stop offset="0.833" stop-opacity="0.39"/><stop offset="0.917" stop-opacity="0.34"/><stop offset="1" stop-opacity="0.32"/></linearGradient><linearGradient id="o34" class="co"><stop offset="0" stop-opacity="0.46"/><stop offset="0.0833" stop-opacity="0.48"/><stop offset="0.167" stop-opacity="0.52"/><stop offset="0.25" stop-opacity="0.61"/><stop offset="0.333" stop-opacity="0.77"/><stop offset="0.417" stop-opacity="0.93"/><stop offset="0.5" stop-opacity="1.00"/><stop offset="0.583" stop-opacity="0.93"/><stop offset="0.667" stop-opacity="0.77"/><stop offset="0.75" stop-opacity="0.61"/><stop offset="0.833" stop-opacity="0.52"/><stop offset="0.917" stop-opacity="0.48"/><stop offset="1" stop-opacity="0.46"/></linearGradient><linearGradient id="o35" class="co"><stop offset="0" stop-opacity="0.62"/><stop offset="0.0833" stop-opacity="0.63"/><stop offset="0.167" stop-opacity="0.66"/><stop offset="0.25" stop-opacity="0.73"/><stop offset="0.333" stop-opacity="0.84"/><stop offset="0.417" stop-opacity="0.95"/><stop offset="0.5" stop-opacity="1.00"/><stop offset="0.583" stop-opacity="0.95"/><stop offset="0.667" stop-opacity="0.84"/><stop offset="0.75" stop-opacity="0.73"/><stop offset="0.833" stop-opacity="0.66"/><stop offset="0.917" stop-opacity="0.63"/><stop offset="1" stop-opacity="0.62"/></linearGradient><linearGradient id="o40" class="co"><stop offset="0" stop-opacity="0.04"/><stop offset="0.0833" stop-opacity="0.11"/><stop offset="0.167" stop-opacity="0.25"/><stop offset="0.25" stop-opacity="0.46"/><stop offset="0.333" stop-opacity="0.71"/><stop offset="0.417" stop-opacity="0.92"/><stop offset="0.5" stop-opacity="1.00"/><stop offset="0.583" stop-opacity="0.92"/><stop offset="0.667" stop-opacity="0.71"/><stop offset="0.75" stop-opacity="0.46"/><stop offset="0.833" stop-opacity="0.25"/><stop offset="0.917" stop-opacity="0.11"/><stop offset="1" stop-opacity="0.04"/></linearGradient><linearGradient id="o41" class="co"><stop offset="0" stop-opacity="0.14"/><stop offset="0.0833" stop-opacity="0.20"/><stop offset="0.167" stop-opacity="0.32"/><stop offset="0.25" stop-opacity="0.51"/><stop offset="0.333" stop-opacity="0.74"/><stop offset="0.417" stop-opacity="0.93"/><stop offset="0.5" stop-opacity="1.00"/><stop offset="0.583" stop-opacity="0.93"/><stop offset="0.667" stop-opacity="0.74"/><stop offset="0.75" stop-opacity="0.51"/><stop offset="0.833" stop-opacity="0.32"/><stop offset="0.917" stop-opacity="0.20"/><stop offset="1" stop-opacity="0.14"/></linearGradient><linearGradient id="o42" class="co"><stop offset="0" stop-opacity="0.24"/><stop offset="0.0833" stop-opacity="0.29"/><stop offset="0.167" stop-opacity="0.40"/><stop offset="0.25" stop-opacity="0.57"/><stop offset="0.333" stop-opacity="0.77"/><stop offset="0.417" stop-opacity="0.93"/><stop offset="0.5" stop-opacity="1.00"/><stop offset="0.583" stop-opacity="0.93"/><stop offset="0.667" stop-opacity="0.77"/><stop offset="0.75" stop-opacity="0.57"/><stop offset="0.833" stop-opacity="0.40"/><stop offset="0.917" stop-opacity="0.29"/><stop offset="1" stop-opacity="0.24"/></linearGradient><linearGradient id="o43" class="co"><stop offset="0" stop-opacity="0.35"/><stop offset="0.0833" stop-opacity="0.40"/><stop offset="0.167" stop-opacity="0.49"/><stop offset="0.25" stop-opacity="0.63"/><stop offset="0.333" stop-opacity="0.80"/><stop offset="0.417" stop-opacity="0.94"/><stop offset="0.5" stop-opacity="1.00"/><stop offset="0.583" stop-opacity="0.94"/><stop offset="0.667" stop-opacity="0.80"/><stop offset="0.75" stop-opacity="0.63"/><stop offset="0.833" stop-opacity="0.49"/><stop offset="0.917" stop-opacity="0.40"/><stop offset="1" stop-opacity="0.35"/></linearGradient><linearGradient id="o44" class="co"><stop offset="0" stop-opacity="0.48"/><stop offset="0.0833" stop-opacity="0.52"/><stop offset="0.167" stop-opacity="0.59"/><stop offset="0.25" stop-opacity="0.71"/><stop offset="0.333" stop-opacity="0.84"/><stop offset="0.417" stop-opacity="0.96"/><stop offset="0.5" stop-opacity="1.00"/><stop offset="0.583" stop-opacity="0.96"/><stop offset="0.667" stop-opacity="0.84"/><stop offset="0.75" stop-opacity="0.71"/><stop offset="0.833" stop-opacity="0.59"/><stop offset="0.917" stop-opacity="0.52"/><stop offset="1" stop-opacity="0.48"/></linearGradient><linearGradient id="o45" class="co"><stop offset="0" stop-opacity="0.64"/><stop offset="0.0833" stop-opacity="0.66"/><stop offset="0.167" stop-opacity="0.71"/><stop offset="0.25" stop-opacity="0.79"/><stop offset="0.333" stop-opacity="0.89"/><stop offset="0.417" stop-opacity="0.97"/><stop offset="0.5" stop-opacity="1.00"/><stop offset="0.583" stop-opacity="0.97"/><stop offset="0.667" stop-opacity="0.89"/><stop offset="0.75" stop-opacity="0.79"/><stop offset="0.833" stop-opacity="0.71"/><stop offset="0.917" stop-opacity="0.66"/><stop offset="1" stop-opacity="0.64"/></linearGradient><linearGradient id="o50" class="co"><stop offset="0" stop-opacity="0.15"/><stop offset="0.0833" stop-opacity="0.27"/><stop offset="0.167" stop-opacity="0.43"/><stop offset="0.25" stop-opacity="0.62"/><stop offset="0.333" stop-opacity="0.81"/><stop offset="0.417" stop-opacity="0.95"/><stop offset="0.5" stop-opacity="1.00"/><stop offset="0.583" stop-opacity="0.95"/><stop offset="0.667" stop-opacity="0.81"/><stop offset="0.75" stop-opacity="0.62"/><stop offset="0.833" stop-opacity="0.43"/><stop offset="0.917" stop-opacity="0.27"/><stop offset="1" stop-opacity="0.15"/></linearGradient><linearGradient id="o51" class="co"><stop offset="0" stop-opacity="0.23"/><stop offset="0.0833" stop-opacity="0.34"/><stop offset="0.167" stop-opacity="0.49"/><stop offset="0.25" stop-opacity="0.66"/><stop offset="0.333" stop-opacity="0.83"/><stop offset="0.417" stop-opacity="0.95"/><stop offset="0.5" stop-opacity="1.00"/><stop offset="0.583" stop-opacity="0.95"/><stop offset="0.667" stop-opacity="0.83"/><stop offset="0.75" stop-opacity="0.66"/><stop offset="0.833" stop-opacity="0.49"/><stop offset="0.917" stop-opacity="0.34"/><stop offset="1" stop-opacity="0.23"/></linearGradient><linearGradient id="o52" class="co"><stop offset="0" stop-opacity="0.32"/><stop offset="0.0833" stop-opacity="0.41"/><stop offset="0.167" stop-opacity="0.54"/><stop offset="0.25" stop-opacity="0.70"/><stop offset="0.333" stop-opacity="0.85"/><stop offset="0.417" stop-opacity="0.96"/><stop offset="0.5" stop-opacity="1.00"/><stop offset="0.583" stop-opacity="0.96"/><stop offset="0.667" stop-opacity="0.85"/><stop offset="0.75" stop-opacity="0.70"/><stop offset="0.833" stop-opacity="0.54"/><stop offset="0.917" stop-opacity="0.41"/><stop offset="1" stop-opacity="0.32"/></linearGradient><linearGradient id="o53" class="co"><stop offset="0" stop-opacity="0.42"/><stop offset="0.0833" stop-opacity="0.50"/><stop offset="0.167" stop-opacity="0.61"/><stop offset="0.25" stop-opacity="0.74"/><stop offset="0.333" stop-opacity="0.87"/><stop offset="0.417" stop-opacity="0.96"/><stop offset="0.5" stop-opacity="1.00"/><stop offset="0.583" stop-opacity="0.96"/><stop offset="0.667" stop-opacity="0.87"/><stop offset="0.75" stop-opacity="0.74"/><stop offset="0.833" stop-opacity="0.61"/><stop offset="0.917" stop-opacity="0.50"/><stop offset="1" stop-opacity="0.42"/></linearGradient><linearGradient id="o54" class="co"><stop offset="0" stop-opacity="0.54"/><stop offset="0.0833" stop-opacity="0.60"/><stop offset="0.167" stop-opacity="0.69"/><stop offset="0.25" stop-opacity="0.79"/><stop offset="0.333" stop-opacity="0.90"/><stop offset="0.417" stop-opacity="0.97"/><stop offset="0.5" stop-opacity="1.00"/><stop offset="0.583" stop-opacity="0.97"/><stop offset="0.667" stop-opacity="0.90"/><stop offset="0.75" stop-opacity="0.79"/><stop offset="0.833" stop-opacity="0.69"/><stop offset="0.917" stop-opacity="0.60"/><stop offset="1" stop-opacity="0.54"/></linearGradient><linearGradient id="o55" class="co"><stop offset="0" stop-opacity="0.68"/><stop offset="0.0833" stop-opacity="0.72"/><stop offset="0.167" stop-opacity="0.78"/><stop offset="0.25" stop-opacity="0.86"/><stop offset="0.333" stop-opacity="0.93"/><stop offset="0.417" stop-opacity="0.98"/><stop offset="0.5" stop-opacity="1.00"/><stop offset="0.583" stop-opacity="0.98"/><stop offset="0.667" stop-opacity="0.93"/><stop offset="0.75" stop-opacity="0.86"/><stop offset="0.833" stop-opacity="0.78"/><stop offset="0.917" stop-opacity="0.72"/><stop offset="1" stop-opacity="0.68"/></linearGradient><linearGradient id="o60" class="co"><stop offset="0" stop-opacity="0.31"/><stop offset="0.0833" stop-opacity="0.44"/><stop offset="0.167" stop-opacity="0.59"/><stop offset="0.25" stop-opacity="0.74"/><stop offset="0.333" stop-opacity="0.88"/><stop offset="0.417" stop-opacity="0.97"/><stop offset="0.5" stop-opacity="1.00"/><stop offset="0.583" stop-opacity="0.97"/><stop offset="0.667" stop-opacity="0.88"/><stop offset="0.75" stop-opacity="0.74"/><stop offset="0.833" stop-opacity="0.59"/><stop offset="0.917" stop-opacity="0.44"/><stop offset="1" stop-opacity="0.31"/></linearGradient><linearGradient id="o61" class="co"><stop offset="0" stop-opacity="0.38"/><stop offset="0.0833" stop-opacity="0.50"/><stop offset="0.167" stop-opacity="0.63"/><stop offset="0.25" stop-opacity="0.77"/><stop offset="0.333" stop-opacity="0.89"/><stop offset="0.417" stop-opacity="0.97"/><stop offset="0.5" stop-opacity="1.00"/><stop offset="0.583" stop-opacity="0.97"/><stop offset="0.667" stop-opacity="0.89"/><stop offset="0.75" stop-opacity="0.77"/><stop offset="0.833" stop-opacity="0.63"/><stop offset="0.917" stop-opacity="0.50"/><stop offset="1" stop-opacity="0.38"/></linearGradient><linearGradient id="o62" class="co"><stop offset="0" stop-opacity="0.45"/><stop offset="0.0833" stop-opacity="0.55"/><stop offset="0.167" stop-opacity="0.67"/><stop offset="0.25" stop-opacity="0.80"/><stop offset="0.333" stop-opacity="0.90"/><stop offset="0.417" stop-opacity="0.97"/><stop offset="0.5" stop-opacity="1.00"/><stop offset="0.583" stop-opacity="0.97"/><stop offset="0.667" stop-opacity="0.90"/><stop offset="0.75" stop-opacity="0.80"/><stop offset="0.833" stop-opacity="0.67"/><stop offset="0.917" stop-opacity="0.55"/><stop offset="1" stop-opacity="0.45"/></linearGradient><linearGradient id="o63" class="co"><stop offset="0" stop-opacity="0.53"/><stop offset="0.0833" stop-opacity="0.62"/><stop offset="0.167" stop-opacity="0.72"/><stop offset="0.25" stop-opacity="0.83"/><stop offset="0.333" stop-opacity="0.92"/><stop offset="0.417" stop-opacity="0.98"/><stop offset="0.5" stop-opacity="1.00"/><stop offset="0.583" stop-opacity="0.98"/><stop offset="0.667" stop-opacity="0.92"/><stop offset="0.75" stop-opacity="0.83"/><stop offset="0.833" stop-opacity="0.72"/><stop offset="0.917" stop-opacity="0.62"/><stop offset="1" stop-opacity="0.53"/></linearGradient><linearGradient id="o64" class="co"><stop offset="0" stop-opacity="0.63"/><stop offset="0.0833" stop-opacity="0.70"/><stop offset="0.167" stop-opacity="0.78"/><stop offset="0.25" stop-opacity="0.86"/><stop offset="0.333" stop-opacity="0.93"/><stop offset="0.417" stop-opacity="0.98"/><stop offset="0.5" stop-opacity="1.00"/><stop offset="0.583" stop-opacity="0.98"/><stop offset="0.667" stop-opacity="0.93"/><stop offset="0.75" stop-opacity="0.86"/><stop offset="0.833" stop-opacity="0.78"/><stop offset="0.917" stop-opacity="0.70"/><stop offset="1" stop-opacity="0.63"/></linearGradient><linearGradient id="o65" class="co"><stop offset="0" stop-opacity="0.74"/><stop offset="0.0833" stop-opacity="0.79"/><stop offset="0.167" stop-opacity="0.84"/><stop offset="0.25" stop-opacity="0.90"/><stop offset="0.333" stop-opacity="0.95"/><stop offset="0.417" stop-opacity="0.99"/><stop offset="0.5" stop-opacity="1.00"/><stop offset="0.583" stop-opacity="0.99"/><stop offset="0.667" stop-opacity="0.95"/><stop offset="0.75" stop-opacity="0.90"/><stop offset="0.833" stop-opacity="0.84"/><stop offset="0.917" stop-opacity="0.79"/><stop offset="1" stop-opacity="0.74"/></linearGradient><linearGradient id="p00" class="cp"><stop offset="0" stop-opacity="0.00"/><stop offset="0.0833" stop-opacity="0.00"/><stop offset="0.167" stop-opacity="0.00"/><stop offset="0.25" stop-opacity="0.00"/><stop offset="0.333" stop-opacity="0.08"/><stop offset="0.417" stop-opacity="0.53"/><stop offset="0.5" stop-opacity="1.00"/><stop offset="0.583" stop-opacity="0.53"/><stop offset="0.667" stop-opacity="0.08"/><stop offset="0.75" stop-opacity="0.00"/><stop offset="0.833" stop-opacity="0.00"/><stop offset="0.917" stop-opacity="0.00"/><stop offset="1" stop-opacity="0.00"/></linearGradient><linearGradient id="p01" class="cp"><stop offset="0" stop-opacity="0.10"/><stop offset="0.0833" stop-opacity="0.10"/><stop offset="0.167" stop-opacity="0.10"/><stop offset="0.25" stop-opacity="0.10"/><stop offset="0.333" stop-opacity="0.17"/><stop offset="0.417" stop-opacity="0.58"/><stop offset="0.5" stop-opacity="1.00"/><stop offset="0.583" stop-opacity="0.58"/><stop offset="0.667" stop-opacity="0.17"/><stop offset="0.75" stop-opacity="0.10"/><stop offset="0.833" stop-opacity="0.10"/><stop offset="0.917" stop-opacity="0.10"/><stop offset="1" stop-opacity="0.10"/></linearGradient><linearGradient id="p02" class="cp"><stop offset="0" stop-opacity="0.20"/><stop offset="0.0833" stop-opacity="0.20"/><stop offset="0.167" stop-opacity="0.20"/><stop offset="0.25" stop-opacity="0.20"/><stop offset="0.333" stop-opacity="0.27"/><stop offset="0.417" stop-opacity="0.63"/><stop offset="0.5" stop-opacity="1.00"/><stop offset="0.583" stop-opacity="0.63"/><stop offset="0.667" stop-opacity="0.27"/><stop offset="0.75" stop-opacity="0.20"/><stop offset="0.833" stop-opacity="0.20"/><stop offset="0.917" stop-opacity="0.20"/><stop offset="1" stop-opacity="0.20"/></linearGradient><linearGradient id="p03" class="cp"><stop offset="0" stop-opacity="0.32"/><stop offset="0.0833" stop-opacity="0.32"/><stop offset="0.167" stop-opacity="0.32"/><stop offset="0.25" stop-opacity="0.32"/><stop offset="0.333" stop-opacity="0.38"/><stop offset="0.417" stop-opacity="0.68"/><stop offset="0.5" stop-opacity="1.00"/><stop offset="0.583" stop-opacity="0.68"/><stop offset="0.667" stop-opacity="0.38"/><stop offset="0.75" stop-opacity="0.32"/><stop offset="0.833" stop-opacity="0.32"/><stop offset="0.917" stop-opacity="0.32"/><stop offset="1" stop-opacity="0.32"/></linearGradient><linearGradient id="p04" class="cp"><stop offset="0" stop-opacity="0.46"/><stop offset="0.0833" stop-opacity="0.46"/><stop offset="0.167" stop-opacity="0.46"/><stop offset="0.25" stop-opacity="0.46"/><stop offset="0.333" stop-opacity="0.50"/><stop offset="0.417" stop-opacity="0.75"/><stop offset="0.5" stop-opacity="1.00"/><stop offset="0.583" stop-opacity="0.75"/><stop offset="0.667" stop-opacity="0.50"/><stop offset="0.75" stop-opacity="0.46"/><stop offset="0.833" stop-opacity="0.46"/><stop offset="0.917" stop-opacity="0.46"/><stop offset="1" stop-opacity="0.46"/></linearGradient><linearGradient id="p05" class="cp"><stop offset="0" stop-opacity="0.62"/><stop offset="0.0833" stop-opacity="0.62"/><stop offset="0.167" stop-opacity="0.62"/><stop offset="0.25" stop-opacity="0.62"/><stop offset="0.333" stop-opacity="0.65"/><stop offset="0.417" stop-opacity="0.82"/><stop offset="0.5" stop-opacity="1.00"/><stop offset="0.583" stop-opacity="0.82"/><stop offset="0.667" stop-opacity="0.65"/><stop offset="0.75" stop-opacity="0.62"/><stop offset="0.833" stop-opacity="0.62"/><stop offset="0.917" stop-opacity="0.62"/><stop offset="1" stop-opacity="0.62"/></linearGradient><linearGradient id="p10" class="cp"><stop offset="0" stop-opacity="0.00"/><stop offset="0.0833" stop-opacity="0.00"/><stop offset="0.167" stop-opacity="0.00"/><stop offset="0.25" stop-opacity="0.04"/><stop offset="0.333" stop-opacity="0.23"/><stop offset="0.417" stop-opacity="0.69"/><stop offset="0.5" stop-opacity="1.00"/><stop offset="0.583" stop-opacity="0.69"/><stop offset="0.667" stop-opacity="0.23"/><stop offset="0.75" stop-opacity="0.04"/><stop offset="0.833" stop-opacity="0.00"/><stop offset="0.917" stop-opacity="0.00"/><stop offset="1" stop-opacity="0.00"/></linearGradient><linearGradient id="p11" class="cp"><stop offset="0" stop-opacity="0.10"/><stop offset="0.0833" stop-opacity="0.10"/><stop offset="0.167" stop-opacity="0.10"/><stop offset="0.25" stop-opacity="0.13"/><stop offset="0.333" stop-opacity="0.31"/><stop offset="0.417" stop-opacity="0.73"/><stop offset="0.5" stop-opacity="1.00"/><stop offset="0.583" stop-opacity="0.73"/><stop offset="0.667" stop-opacity="0.31"/><stop offset="0.75" stop-opacity="0.13"/><stop offset="0.833" stop-opacity="0.10"/><stop offset="0.917" stop-opacity="0.10"/><stop offset="1" stop-opacity="0.10"/></linearGradient><linearGradient id="p12" class="cp"><stop offset="0" stop-opacity="0.20"/><stop offset="0.0833" stop-opacity="0.20"/><stop offset="0.167" stop-opacity="0.20"/><stop offset="0.25" stop-opacity="0.23"/><stop offset="0.333" stop-opacity="0.39"/><stop offset="0.417" stop-opacity="0.76"/><stop offset="0.5" stop-opacity="1.00"/><stop offset="0.583" stop-opacity="0.76"/><stop offset="0.667" stop-opacity="0.39"/><stop offset="0.75" stop-opacity="0.23"/><stop offset="0.833" stop-opacity="0.20"/><stop offset="0.917" stop-opacity="0.20"/><stop offset="1" stop-opacity="0.20"/></linearGradient><linearGradient id="p13" class="cp"><stop offset="0" stop-opacity="0.32"/><stop offset="0.0833" stop-opacity="0.32"/><stop offset="0.167" stop-opacity="0.32"/><stop offset="0.25" stop-opacity="0.35"/><stop offset="0.333" stop-opacity="0.48"/><stop offset="0.417" stop-opacity="0.79"/><stop offset="0.5" stop-opacity="1.00"/><stop offset="0.583" stop-opacity="0.79"/><stop offset="0.667" stop-opacity="0.48"/><stop offset="0.75" stop-opacity="0.35"/><stop offset="0.833" stop-opacity="0.32"/><stop offset="0.917" stop-opacity="0.32"/><stop offset="1" stop-opacity="0.32"/></linearGradient><linearGradient id="p14" class="cp"><stop offset="0" stop-opacity="0.46"/><stop offset="0.0833" stop-opacity="0.46"/><stop offset="0.167" stop-opacity="0.46"/><stop offset="0.25" stop-opacity="0.48"/><stop offset="0.333" stop-opacity="0.59"/><stop offset="0.417" stop-opacity="0.84"/><stop offset="0.5" stop-opacity="1.00"/><stop offset="0.583" stop-opacity="0.84"/><stop offset="0.667" stop-opacity="0.59"/><stop offset="0.75" stop-opacity="0.48"/><stop offset="0.833" stop-opacity="0.46"/><stop offset="0.917" stop-opacity="0.46"/><stop offset="1" stop-opacity="0.46"/></linearGradient><linearGradient id="p15" class="cp"><stop offset="0" stop-opacity="0.62"/><stop offset="0.0833" stop-opacity="0.62"/><stop offset="0.167" stop-opacity="0.62"/><stop offset="0.25" stop-opacity="0.63"/><stop offset="0.333" stop-opacity="0.71"/><stop offset="0.417" stop-opacity="0.88"/><stop offset="0.5" stop-opacity="1.00"/><stop offset="0.583" stop-opacity="0.88"/><stop offset="0.667" stop-opacity="0.71"/><stop offset="0.75" stop-opacity="0.63"/><stop offset="0.833" stop-opacity="0.62"/><stop offset="0.917" stop-opacity="0.62"/><stop offset="1" stop-opacity="0.62"/></linearGradient><linearGradient id="p20" class="cp"><stop offset="0" stop-opacity="0.00"/><stop offset="0.0833" stop-opacity="0.00"/><stop offset="0.167" stop-opacity="0.03"/><stop offset="0.25" stop-opacity="0.14"/><stop offset="0.333" stop-opacity="0.41"/><stop offset="0.417" stop-opacity="0.80"/><stop offset="0.5" stop-opacity="1.00"/><stop offset="0.583" stop-opacity="0.80"/><stop offset="0.667" stop-opacity="0.41"/><stop offset="0.75" stop-opacity="0.14"/><stop offset="0.833" stop-opacity="0.03"/><stop offset="0.917" stop-opacity="0.00"/><stop offset="1" stop-opacity="0.00"/></linearGradient><linearGradient id="p21" class="cp"><stop offset="0" stop-opacity="0.10"/><stop offset="0.0833" stop-opacity="0.10"/><stop offset="0.167" stop-opacity="0.13"/><stop offset="0.25" stop-opacity="0.22"/><stop offset="0.333" stop-opacity="0.47"/><stop offset="0.417" stop-opacity="0.82"/><stop offset="0.5" stop-opacity="1.00"/><stop offset="0.583" stop-opacity="0.82"/><stop offset="0.667" stop-opacity="0.47"/><stop offset="0.75" stop-opacity="0.22"/><stop offset="0.833" stop-opacity="0.13"/><stop offset="0.917" stop-opacity="0.10"/><stop offset="1" stop-opacity="0.10"/></linearGradient><linearGradient id="p22" class="cp"><stop offset="0" stop-opacity="0.20"/><stop offset="0.0833" stop-opacity="0.20"/><stop offset="0.167" stop-opacity="0.22"/><stop offset="0.25" stop-opacity="0.31"/><stop offset="0.333" stop-opacity="0.53"/><stop offset="0.417" stop-opacity="0.84"/><stop offset="0.5" stop-opacity="1.00"/><stop offset="0.583" stop-opacity="0.84"/><stop offset="0.667" stop-opacity="0.53"/><stop offset="0.75" stop-opacity="0.31"/><stop offset="0.833" stop-opacity="0.22"/><stop offset="0.917" stop-opacity="0.20"/><stop offset="1" stop-opacity="0.20"/></linearGradient><linearGradient id="p23" class="cp"><stop offset="0" stop-opacity="0.32"/><stop offset="0.0833" stop-opacity="0.32"/><stop offset="0.167" stop-opacity="0.34"/><stop offset="0.25" stop-opacity="0.41"/><stop offset="0.333" stop-opacity="0.60"/><stop offset="0.417" stop-opacity="0.87"/><stop offset="0.5" stop-opacity="1.00"/><stop offset="0.583" stop-opacity="0.87"/><stop offset="0.667" stop-opacity="0.60"/><stop offset="0.75" stop-opacity="0.41"/><stop offset="0.833" stop-opacity="0.34"/><stop offset="0.917" stop-opacity="0.32"/><stop offset="1" stop-opacity="0.32"/></linearGradient><linearGradient id="p24" class="cp"><stop offset="0" stop-opacity="0.46"/><stop offset="0.0833" stop-opacity="0.46"/><stop offset="0.167" stop-opacity="0.48"/><stop offset="0.25" stop-opacity="0.53"/><stop offset="0.333" stop-opacity="0.68"/><stop offset="0.417" stop-opacity="0.89"/><stop offset="0.5" stop-opacity="1.00"/><stop offset="0.583" stop-opacity="0.89"/><stop offset="0.667" stop-opacity="0.68"/><stop offset="0.75" stop-opacity="0.53"/><stop offset="0.833" stop-opacity="0.48"/><stop offset="0.917" stop-opacity="0.46"/><stop offset="1" stop-opacity="0.46"/></linearGradient><linearGradient id="p25" class="cp"><stop offset="0" stop-opacity="0.62"/><stop offset="0.0833" stop-opacity="0.62"/><stop offset="0.167" stop-opacity="0.63"/><stop offset="0.25" stop-opacity="0.67"/><stop offset="0.333" stop-opacity="0.78"/><stop offset="0.417" stop-opacity="0.92"/><stop offset="0.5" stop-opacity="1.00"/><stop offset="0.583" stop-opacity="0.92"/><stop offset="0.667" stop-opacity="0.78"/><stop offset="0.75" stop-opacity="0.67"/><stop offset="0.833" stop-opacity="0.63"/><stop offset="0.917" stop-opacity="0.62"/><stop offset="1" stop-opacity="0.62"/></linearGradient><linearGradient id="p30" class="cp"><stop offset="0" stop-opacity="0.01"/><stop offset="0.0833" stop-opacity="0.03"/><stop offset="0.167" stop-opacity="0.11"/><stop offset="0.25" stop-opacity="0.29"/><stop offset="0.333" stop-opacity="0.57"/><stop offset="0.417" stop-opacity="0.87"/><stop offset="0.5" stop-opacity="1.00"/><stop offset="0.583" stop-opacity="0.87"/><stop offset="0.667" stop-opacity="0.57"/><stop offset="0.75" stop-opacity="0.29"/><stop offset="0.833" stop-opacity="0.11"/><stop offset="0.917" stop-opacity="0.03"/><stop offset="1" stop-opacity="0.01"/></linearGradient><linearGradient id="p31" class="cp"><stop offset="0" stop-opacity="0.11"/><stop offset="0.0833" stop-opacity="0.13"/><stop offset="0.167" stop-opacity="0.20"/><stop offset="0.25" stop-opacity="0.36"/><stop offset="0.333" stop-opacity="0.62"/><stop offset="0.417" stop-opacity="0.88"/><stop offset="0.5" stop-opacity="1.00"/><stop offset="0.583" stop-opacity="0.88"/><stop offset="0.667" stop-opacity="0.62"/><stop offset="0.75" stop-opacity="0.36"/><stop offset="0.833" stop-opacity="0.20"/><stop offset="0.917" stop-opacity="0.13"/><stop offset="1" stop-opacity="0.11"/></linearGradient><linearGradient id="p32" class="cp"><stop offset="0" stop-opacity="0.21"/><stop offset="0.0833" stop-opacity="0.22"/><stop offset="0.167" stop-opacity="0.29"/><stop offset="0.25" stop-opacity="0.43"/><stop offset="0.333" stop-opacity="0.66"/><stop offset="0.417" stop-opacity="0.90"/><stop offset="0.5" stop-opacity="1.00"/><stop offset="0.583" stop-opacity="0.90"/><stop offset="0.667" stop-opacity="0.66"/><stop offset="0.75" stop-opacity="0.43"/><stop offset="0.833" stop-opacity="0.29"/><stop offset="0.917" stop-opacity="0.22"/><stop offset="1" stop-opacity="0.21"/></linearGradient><linearGradient id="p33" class="cp"><stop offset="0" stop-opacity="0.32"/><stop offset="0.0833" stop-opacity="0.34"/><stop offset="0.167" stop-opacity="0.39"/><stop offset="0.25" stop-opacity="0.51"/><stop offset="0.333" stop-opacity="0.71"/><stop offset="0.417" stop-opacity="0.91"/><stop offset="0.5" stop-opacity="1.00"/><stop offset="0.583" stop-opacity="0.91"/><stop offset="0.667" stop-opacity="0.71"/><stop offset="0.75" stop-opacity="0.51"/><stop offset="0.833" stop-opacity="0.39"/><stop offset="0.917" stop-opacity="0.34"/><stop offset="1" stop-opacity="0.32"/></linearGradient><linearGradient id="p34" class="cp"><stop offset="0" stop-opacity="0.46"/><stop offset="0.0833" stop-opacity="0.48"/><stop offset="0.167" stop-opacity="0.52"/><stop offset="0.25" stop-opacity="0.61"/><stop offset="0.333" stop-opacity="0.77"/><stop offset="0.417" stop-opacity="0.93"/><stop offset="0.5" stop-opacity="1.00"/><stop offset="0.583" stop-opacity="0.93"/><stop offset="0.667" stop-opacity="0.77"/><stop offset="0.75" stop-opacity="0.61"/><stop offset="0.833" stop-opacity="0.52"/><stop offset="0.917" stop-opacity="0.48"/><stop offset="1" stop-opacity="0.46"/></linearGradient><linearGradient id="p35" class="cp"><stop offset="0" stop-opacity="0.62"/><stop offset="0.0833" stop-opacity="0.63"/><stop offset="0.167" stop-opacity="0.66"/><stop offset="0.25" stop-opacity="0.73"/><stop offset="0.333" stop-opacity="0.84"/><stop offset="0.417" stop-opacity="0.95"/><stop offset="0.5" stop-opacity="1.00"/><stop offset="0.583" stop-opacity="0.95"/><stop offset="0.667" stop-opacity="0.84"/><stop offset="0.75" stop-opacity="0.73"/><stop offset="0.833" stop-opacity="0.66"/><stop offset="0.917" stop-opacity="0.63"/><stop offset="1" stop-opacity="0.62"/></linearGradient><linearGradient id="p40" class="cp"><stop offset="0" stop-opacity="0.04"/><stop offset="0.0833" stop-opacity="0.11"/><stop offset="0.167" stop-opacity="0.25"/><stop offset="0.25" stop-opacity="0.46"/><stop offset="0.333" stop-opacity="0.71"/><stop offset="0.417" stop-opacity="0.92"/><stop offset="0.5" stop-opacity="1.00"/><stop offset="0.583" stop-opacity="0.92"/><stop offset="0.667" stop-opacity="0.71"/><stop offset="0.75" stop-opacity="0.46"/><stop offset="0.833" stop-opacity="0.25"/><stop offset="0.917" stop-opacity="0.11"/><stop offset="1" stop-opacity="0.04"/></linearGradient><linearGradient id="p41" class="cp"><stop offset="0" stop-opacity="0.14"/><stop offset="0.0833" stop-opacity="0.20"/><stop offset="0.167" stop-opacity="0.32"/><stop offset="0.25" stop-opacity="0.51"/><stop offset="0.333" stop-opacity="0.74"/><stop offset="0.417" stop-opacity="0.93"/><stop offset="0.5" stop-opacity="1.00"/><stop offset="0.583" stop-opacity="0.93"/><stop offset="0.667" stop-opacity="0.74"/><stop offset="0.75" stop-opacity="0.51"/><stop offset="0.833" stop-opacity="0.32"/><stop offset="0.917" stop-opacity="0.20"/><stop offset="1" stop-opacity="0.14"/></linearGradient><linearGradient id="p42" class="cp"><stop offset="0" stop-opacity="0.24"/><stop offset="0.0833" stop-opacity="0.29"/><stop offset="0.167" stop-opacity="0.40"/><stop offset="0.25" stop-opacity="0.57"/><stop offset="0.333" stop-opacity="0.77"/><stop offset="0.417" stop-opacity="0.93"/><stop offset="0.5" stop-opacity="1.00"/><stop offset="0.583" stop-opacity="0.93"/><stop offset="0.667" stop-opacity="0.77"/><stop offset="0.75" stop-opacity="0.57"/><stop offset="0.833" stop-opacity="0.40"/><stop offset="0.917" stop-opacity="0.29"/><stop offset="1" stop-opacity="0.24"/></linearGradient><linearGradient id="p43" class="cp"><stop offset="0" stop-opacity="0.35"/><stop offset="0.0833" stop-opacity="0.40"/><stop offset="0.167" stop-opacity="0.49"/><stop offset="0.25" stop-opacity="0.63"/><stop offset="0.333" stop-opacity="0.80"/><stop offset="0.417" stop-opacity="0.94"/><stop offset="0.5" stop-opacity="1.00"/><stop offset="0.583" stop-opacity="0.94"/><stop offset="0.667" stop-opacity="0.80"/><stop offset="0.75" stop-opacity="0.63"/><stop offset="0.833" stop-opacity="0.49"/><stop offset="0.917" stop-opacity="0.40"/><stop offset="1" stop-opacity="0.35"/></linearGradient><linearGradient id="p44" class="cp"><stop offset="0" stop-opacity="0.48"/><stop offset="0.0833" stop-opacity="0.52"/><stop offset="0.167" stop-opacity="0.59"/><stop offset="0.25" stop-opacity="0.71"/><stop offset="0.333" stop-opacity="0.84"/><stop offset="0.417" stop-opacity="0.96"/><stop offset="0.5" stop-opacity="1.00"/><stop offset="0.583" stop-opacity="0.96"/><stop offset="0.667" stop-opacity="0.84"/><stop offset="0.75" stop-opacity="0.71"/><stop offset="0.833" stop-opacity="0.59"/><stop offset="0.917" stop-opacity="0.52"/><stop offset="1" stop-opacity="0.48"/></linearGradient><linearGradient id="p45" class="cp"><stop offset="0" stop-opacity="0.64"/><stop offset="0.0833" stop-opacity="0.66"/><stop offset="0.167" stop-opacity="0.71"/><stop offset="0.25" stop-opacity="0.79"/><stop offset="0.333" stop-opacity="0.89"/><stop offset="0.417" stop-opacity="0.97"/><stop offset="0.5" stop-opacity="1.00"/><stop offset="0.583" stop-opacity="0.97"/><stop offset="0.667" stop-opacity="0.89"/><stop offset="0.75" stop-opacity="0.79"/><stop offset="0.833" stop-opacity="0.71"/><stop offset="0.917" stop-opacity="0.66"/><stop offset="1" stop-opacity="0.64"/></linearGradient><linearGradient id="p50" class="cp"><stop offset="0" stop-opacity="0.15"/><stop offset="0.0833" stop-opacity="0.27"/><stop offset="0.167" stop-opacity="0.43"/><stop offset="0.25" stop-opacity="0.62"/><stop offset="0.333" stop-opacity="0.81"/><stop offset="0.417" stop-opacity="0.95"/><stop offset="0.5" stop-opacity="1.00"/><stop offset="0.583" stop-opacity="0.95"/><stop offset="0.667" stop-opacity="0.81"/><stop offset="0.75" stop-opacity="0.62"/><stop offset="0.833" stop-opacity="0.43"/><stop offset="0.917" stop-opacity="0.27"/><stop offset="1" stop-opacity="0.15"/></linearGradient><linearGradient id="p51" class="cp"><stop offset="0" stop-opacity="0.23"/><stop offset="0.0833" stop-opacity="0.34"/><stop offset="0.167" stop-opacity="0.49"/><stop offset="0.25" stop-opacity="0.66"/><stop offset="0.333" stop-opacity="0.83"/><stop offset="0.417" stop-opacity="0.95"/><stop offset="0.5" stop-opacity="1.00"/><stop offset="0.583" stop-opacity="0.95"/><stop offset="0.667" stop-opacity="0.83"/><stop offset="0.75" stop-opacity="0.66"/><stop offset="0.833" stop-opacity="0.49"/><stop offset="0.917" stop-opacity="0.34"/><stop offset="1" stop-opacity="0.23"/></linearGradient><linearGradient id="p52" class="cp"><stop offset="0" stop-opacity="0.32"/><stop offset="0.0833" stop-opacity="0.41"/><stop offset="0.167" stop-opacity="0.54"/><stop offset="0.25" stop-opacity="0.70"/><stop offset="0.333" stop-opacity="0.85"/><stop offset="0.417" stop-opacity="0.96"/><stop offset="0.5" stop-opacity="1.00"/><stop offset="0.583" stop-opacity="0.96"/><stop offset="0.667" stop-opacity="0.85"/><stop offset="0.75" stop-opacity="0.70"/><stop offset="0.833" stop-opacity="0.54"/><stop offset="0.917" stop-opacity="0.41"/><stop offset="1" stop-opacity="0.32"/></linearGradient><linearGradient id="p53" class="cp"><stop offset="0" stop-opacity="0.42"/><stop offset="0.0833" stop-opacity="0.50"/><stop offset="0.167" stop-opacity="0.61"/><stop offset="0.25" stop-opacity="0.74"/><stop offset="0.333" stop-opacity="0.87"/><stop offset="0.417" stop-opacity="0.96"/><stop offset="0.5" stop-opacity="1.00"/><stop offset="0.583" stop-opacity="0.96"/><stop offset="0.667" stop-opacity="0.87"/><stop offset="0.75" stop-opacity="0.74"/><stop offset="0.833" stop-opacity="0.61"/><stop offset="0.917" stop-opacity="0.50"/><stop offset="1" stop-opacity="0.42"/></linearGradient><linearGradient id="p54" class="cp"><stop offset="0" stop-opacity="0.54"/><stop offset="0.0833" stop-opacity="0.60"/><stop offset="0.167" stop-opacity="0.69"/><stop offset="0.25" stop-opacity="0.79"/><stop offset="0.333" stop-opacity="0.90"/><stop offset="0.417" stop-opacity="0.97"/><stop offset="0.5" stop-opacity="1.00"/><stop offset="0.583" stop-opacity="0.97"/><stop offset="0.667" stop-opacity="0.90"/><stop offset="0.75" stop-opacity="0.79"/><stop offset="0.833" stop-opacity="0.69"/><stop offset="0.917" stop-opacity="0.60"/><stop offset="1" stop-opacity="0.54"/></linearGradient><linearGradient id="p55" class="cp"><stop offset="0" stop-opacity="0.68"/><stop offset="0.0833" stop-opacity="0.72"/><stop offset="0.167" stop-opacity="0.78"/><stop offset="0.25" stop-opacity="0.86"/><stop offset="0.333" stop-opacity="0.93"/><stop offset="0.417" stop-opacity="0.98"/><stop offset="0.5" stop-opacity="1.00"/><stop offset="0.583" stop-opacity="0.98"/><stop offset="0.667" stop-opacity="0.93"/><stop offset="0.75" stop-opacity="0.86"/><stop offset="0.833" stop-opacity="0.78"/><stop offset="0.917" stop-opacity="0.72"/><stop offset="1" stop-opacity="0.68"/></linearGradient><linearGradient id="p60" class="cp"><stop offset="0" stop-opacity="0.31"/><stop offset="0.0833" stop-opacity="0.44"/><stop offset="0.167" stop-opacity="0.59"/><stop offset="0.25" stop-opacity="0.74"/><stop offset="0.333" stop-opacity="0.88"/><stop offset="0.417" stop-opacity="0.97"/><stop offset="0.5" stop-opacity="1.00"/><stop offset="0.583" stop-opacity="0.97"/><stop offset="0.667" stop-opacity="0.88"/><stop offset="0.75" stop-opacity="0.74"/><stop offset="0.833" stop-opacity="0.59"/><stop offset="0.917" stop-opacity="0.44"/><stop offset="1" stop-opacity="0.31"/></linearGradient><linearGradient id="p61" class="cp"><stop offset="0" stop-opacity="0.38"/><stop offset="0.0833" stop-opacity="0.50"/><stop offset="0.167" stop-opacity="0.63"/><stop offset="0.25" stop-opacity="0.77"/><stop offset="0.333" stop-opacity="0.89"/><stop offset="0.417" stop-opacity="0.97"/><stop offset="0.5" stop-opacity="1.00"/><stop offset="0.583" stop-opacity="0.97"/><stop offset="0.667" stop-opacity="0.89"/><stop offset="0.75" stop-opacity="0.77"/><stop offset="0.833" stop-opacity="0.63"/><stop offset="0.917" stop-opacity="0.50"/><stop offset="1" stop-opacity="0.38"/></linearGradient><linearGradient id="p62" class="cp"><stop offset="0" stop-opacity="0.45"/><stop offset="0.0833" stop-opacity="0.55"/><stop offset="0.167" stop-opacity="0.67"/><stop offset="0.25" stop-opacity="0.80"/><stop offset="0.333" stop-opacity="0.90"/><stop offset="0.417" stop-opacity="0.97"/><stop offset="0.5" stop-opacity="1.00"/><stop offset="0.583" stop-opacity="0.97"/><stop offset="0.667" stop-opacity="0.90"/><stop offset="0.75" stop-opacity="0.80"/><stop offset="0.833" stop-opacity="0.67"/><stop offset="0.917" stop-opacity="0.55"/><stop offset="1" stop-opacity="0.45"/></linearGradient><linearGradient id="p63" class="cp"><stop offset="0" stop-opacity="0.53"/><stop offset="0.0833" stop-opacity="0.62"/><stop offset="0.167" stop-opacity="0.72"/><stop offset="0.25" stop-opacity="0.83"/><stop offset="0.333" stop-opacity="0.92"/><stop offset="0.417" stop-opacity="0.98"/><stop offset="0.5" stop-opacity="1.00"/><stop offset="0.583" stop-opacity="0.98"/><stop offset="0.667" stop-opacity="0.92"/><stop offset="0.75" stop-opacity="0.83"/><stop offset="0.833" stop-opacity="0.72"/><stop offset="0.917" stop-opacity="0.62"/><stop offset="1" stop-opacity="0.53"/></linearGradient><linearGradient id="p64" class="cp"><stop offset="0" stop-opacity="0.63"/><stop offset="0.0833" stop-opacity="0.70"/><stop offset="0.167" stop-opacity="0.78"/><stop offset="0.25" stop-opacity="0.86"/><stop offset="0.333" stop-opacity="0.93"/><stop offset="0.417" stop-opacity="0.98"/><stop offset="0.5" stop-opacity="1.00"/><stop offset="0.583" stop-opacity="0.98"/><stop offset="0.667" stop-opacity="0.93"/><stop offset="0.75" stop-opacity="0.86"/><stop offset="0.833" stop-opacity="0.78"/><stop offset="0.917" stop-opacity="0.70"/><stop offset="1" stop-opacity="0.63"/></linearGradient><linearGradient id="p65" class="cp"><stop offset="0" stop-opacity="0.74"/><stop offset="0.0833" stop-opacity="0.79"/><stop offset="0.167" stop-opacity="0.84"/><stop offset="0.25" stop-opacity="0.90"/><stop offset="0.333" stop-opacity="0.95"/><stop offset="0.417" stop-opacity="0.99"/><stop offset="0.5" stop-opacity="1.00"/><stop offset="0.583" stop-opacity="0.99"/><stop offset="0.667" stop-opacity="0.95"/><stop offset="0.75" stop-opacity="0.90"/><stop offset="0.833" stop-opacity="0.84"/><stop offset="0.917" stop-opacity="0.79"/><stop offset="1" stop-opacity="0.74"/></linearGradient><clipPath id="hc0"><rect x="62.8" y="31" width="21.5" height="174"/></clipPath><clipPath id="hc1"><rect x="94.8" y="31" width="21.5" height="174"/></clipPath><clipPath id="hc2"><rect x="124.8" y="31" width="21.0" height="174"/></clipPath><filter id="spk" x="0" y="0" width="1" height="1"><feTurbulence type="fractalNoise" baseFrequency="0.42 0.5" numOctaves="2" seed="4"/><feColorMatrix type="matrix" values="0 0 0 0 1 0 0 0 0 1 0 0 0 0 1 0 0 0 1.6 -0.75"/></filter><filter id="stk" x="0" y="0" width="1" height="1"><feTurbulence type="fractalNoise" baseFrequency="0.12 0.9" numOctaves="2" seed="7"/><feColorMatrix type="matrix" values="0 0 0 0 1 0 0 0 0 1 0 0 0 0 1 0 0 0 2.0 -0.85"/></filter><linearGradient id="cbr"><stop offset="0" stop-color="#fbe8de"/><stop offset="0.5" stop-color="#eea88c"/><stop offset="1" stop-color="#c4121a"/></linearGradient><linearGradient id="cbo"><stop offset="0" stop-color="#fdf6e2"/><stop offset="0.5" stop-color="#f3cf86"/><stop offset="1" stop-color="#e08a10"/></linearGradient><linearGradient id="cbp"><stop offset="0" stop-color="#f0ecf6"/><stop offset="0.5" stop-color="#a58cc8"/><stop offset="1" stop-color="#4a1a88"/></linearGradient><linearGradient id="bl1" x1="0" x2="1"><stop offset="0" stop-color="#a6a6a6"/><stop offset="0.26" stop-color="#a9a9a9"/><stop offset="0.3" stop-color="#b0b0b0"/><stop offset="0.36" stop-color="#aaaaaa"/><stop offset="0.39" stop-color="#8a8a8a"/><stop offset="0.6" stop-color="#888888"/><stop offset="0.63" stop-color="#a6a6a6"/><stop offset="1" stop-color="#a4a4a4"/></linearGradient><linearGradient id="bl2" x1="0" x2="1"><stop offset="0" stop-color="#a2a2a2"/><stop offset="0.25" stop-color="#a8a8a8"/><stop offset="0.3" stop-color="#b0b0b0"/><stop offset="0.6" stop-color="#b0b0b0"/><stop offset="0.65" stop-color="#a8a8a8"/><stop offset="1" stop-color="#a6a6a6"/></linearGradient><filter id="bn" x="0" y="0" width="1" height="1"><feTurbulence type="fractalNoise" baseFrequency="0.35" numOctaves="2" seed="9"/><feColorMatrix type="matrix" values="0 0 0 0 0 0 0 0 0 0 0 0 0 0 0 0 0 0 1.2 -0.45"/></filter></defs><rect x="62.80" y="31.80" width="21.50" height="171.80" fill="#ffffff" />
<g clip-path="url(#hc0)">
<rect x="63.2" y="32.0" width="21.5" height="1.00" fill="url(#r65)" opacity="1.00"/>
<rect x="63.2" y="33.0" width="21.5" height="1.00" fill="url(#r65)" opacity="1.00"/>
<rect x="63.1" y="34.0" width="21.5" height="1.00" fill="url(#r33)" opacity="0.89"/>
<rect x="63.0" y="35.0" width="21.5" height="1.00" fill="url(#r33)" opacity="0.88"/>
<rect x="62.9" y="36.0" width="21.5" height="1.00" fill="url(#r33)" opacity="0.84"/>
<rect x="62.6" y="37.0" width="21.5" height="1.00" fill="url(#r33)" opacity="0.88"/>
<rect x="62.7" y="38.0" width="21.5" height="1.00" fill="url(#r33)" opacity="0.96"/>
<rect x="62.8" y="39.0" width="21.5" height="1.00" fill="url(#r33)" opacity="0.97"/>
<rect x="62.6" y="40.0" width="21.5" height="1.00" fill="url(#r23)" opacity="0.94"/>
<rect x="62.5" y="41.0" width="21.5" height="1.00" fill="url(#r23)" opacity="0.90"/>
<rect x="62.9" y="42.0" width="21.5" height="1.00" fill="url(#r32)" opacity="0.88"/>
<rect x="63.0" y="43.0" width="21.5" height="1.00" fill="url(#r33)" opacity="0.91"/>
<rect x="62.7" y="44.0" width="21.5" height="1.00" fill="url(#r33)" opacity="0.94"/>
<rect x="62.7" y="45.0" width="21.5" height="1.00" fill="url(#r23)" opacity="0.92"/>
<rect x="62.9" y="46.0" width="21.5" height="1.00" fill="url(#r23)" opacity="0.86"/>
<rect x="62.8" y="47.0" width="21.5" height="1.00" fill="url(#r33)" opacity="0.86"/>
<rect x="62.6" y="48.0" width="21.5" height="1.00" fill="url(#r33)" opacity="0.89"/>
<rect x="62.5" y="49.0" width="21.5" height="1.00" fill="url(#r32)" opacity="0.93"/>
<rect x="62.6" y="50.0" width="21.5" height="1.00" fill="url(#r32)" opacity="0.97"/>
<rect x="63.0" y="51.0" width="21.5" height="1.00" fill="url(#r22)" opacity="0.93"/>
<rect x="62.9" y="52.0" width="21.5" height="1.00" fill="url(#r12)" opacity="0.85"/>
<rect x="62.4" y="53.0" width="21.5" height="1.00" fill="url(#r23)" opacity="0.81"/>
<rect x="62.3" y="54.0" width="21.5" height="1.00" fill="url(#r33)" opacity="0.78"/>
<rect x="62.4" y="55.0" width="21.5" height="1.00" fill="url(#r23)" opacity="0.78"/>
<rect x="62.7" y="56.0" width="21.5" height="1.00" fill="url(#r23)" opacity="0.78"/>
<rect x="62.9" y="57.0" width="21.5" height="1.00" fill="url(#r13)" opacity="0.82"/>
<rect x="62.6" y="58.0" width="21.5" height="1.00" fill="url(#r13)" opacity="0.90"/>
<rect x="62.5" y="59.0" width="21.5" height="1.00" fill="url(#r12)" opacity="0.94"/>
<rect x="62.6" y="60.0" width="21.5" height="1.00" fill="url(#r22)" opacity="0.91"/>
<rect x="62.9" y="61.0" width="21.5" height="1.00" fill="url(#r22)" opacity="0.84"/>
<rect x="63.1" y="62.0" width="21.5" height="1.00" fill="url(#r12)" opacity="0.84"/>
<rect x="63.1" y="63.0" width="21.5" height="1.00" fill="url(#r12)" opacity="0.94"/>
<rect x="63.1" y="64.0" width="21.5" height="1.00" fill="url(#r11)" opacity="0.97"/>
<rect x="62.9" y="65.0" width="21.5" height="1.00" fill="url(#r22)" opacity="0.92"/>
<rect x="62.9" y="66.0" width="21.5" height="1.00" fill="url(#r13)" opacity="0.82"/>
<rect x="63.0" y="67.0" width="21.5" height="1.00" fill="url(#r13)" opacity="0.83"/>
<rect x="63.0" y="68.0" width="21.5" height="1.00" fill="url(#r22)" opacity="0.89"/>
<rect x="62.8" y="69.0" width="21.5" height="1.00" fill="url(#r22)" opacity="0.94"/>
<rect x="62.8" y="70.0" width="21.5" height="1.00" fill="url(#r23)" opacity="0.94"/>
<rect x="62.7" y="71.0" width="21.5" height="1.00" fill="url(#r23)" opacity="0.89"/>
<rect x="62.6" y="72.0" width="21.5" height="1.00" fill="url(#r33)" opacity="0.82"/>
<rect x="62.4" y="73.0" width="21.5" height="1.00" fill="url(#r33)" opacity="0.81"/>
<rect x="62.6" y="74.0" width="21.5" height="1.00" fill="url(#r12)" opacity="0.90"/>
<rect x="62.8" y="75.0" width="21.5" height="1.00" fill="url(#r12)" opacity="0.96"/>
<rect x="62.6" y="76.0" width="21.5" height="1.00" fill="url(#r22)" opacity="0.96"/>
<rect x="62.4" y="77.0" width="21.5" height="1.00" fill="url(#r32)" opacity="0.90"/>
<rect x="62.5" y="78.0" width="21.5" height="1.00" fill="url(#r32)" opacity="0.83"/>
<rect x="62.5" y="79.0" width="21.5" height="1.00" fill="url(#r22)" opacity="0.83"/>
<rect x="62.4" y="80.0" width="21.5" height="1.00" fill="url(#r22)" opacity="0.91"/>
<rect x="62.6" y="81.0" width="21.5" height="1.00" fill="url(#r22)" opacity="0.95"/>
<rect x="62.9" y="82.0" width="21.5" height="1.00" fill="url(#r21)" opacity="0.92"/>
<rect x="63.1" y="83.0" width="21.5" height="1.00" fill="url(#r22)" opacity="0.84"/>
<rect x="63.0" y="84.0" width="21.5" height="1.00" fill="url(#r32)" opacity="0.84"/>
<rect x="62.7" y="85.0" width="21.5" height="1.00" fill="url(#r22)" opacity="0.85"/>
<rect x="62.7" y="86.0" width="21.5" height="1.00" fill="url(#r22)" opacity="0.86"/>
<rect x="62.6" y="87.0" width="21.5" height="1.00" fill="url(#r12)" opacity="0.91"/>
<rect x="62.6" y="88.0" width="21.5" height="1.00" fill="url(#r02)" opacity="0.94"/>
<rect x="62.9" y="89.0" width="21.5" height="1.00" fill="url(#r12)" opacity="0.92"/>
<rect x="63.1" y="90.0" width="21.5" height="1.00" fill="url(#r22)" opacity="0.90"/>
<rect x="63.2" y="91.0" width="21.5" height="1.00" fill="url(#r13)" opacity="0.90"/>
<rect x="63.0" y="92.0" width="21.5" height="1.00" fill="url(#r13)" opacity="0.88"/>
<rect x="62.6" y="93.0" width="21.5" height="1.00" fill="url(#r12)" opacity="0.84"/>
<rect x="62.5" y="94.0" width="21.5" height="1.00" fill="url(#r22)" opacity="0.83"/>
<rect x="62.6" y="95.0" width="21.5" height="1.00" fill="url(#r23)" opacity="0.84"/>
<rect x="62.4" y="96.0" width="21.5" height="1.00" fill="url(#r12)" opacity="0.82"/>
<rect x="62.3" y="97.0" width="21.5" height="1.00" fill="url(#r12)" opacity="0.82"/>
<rect x="62.6" y="98.0" width="21.5" height="1.00" fill="url(#r12)" opacity="0.84"/>
<rect x="62.7" y="99.0" width="21.5" height="1.00" fill="url(#r23)" opacity="0.85"/>
<rect x="62.5" y="100.0" width="21.5" height="1.00" fill="url(#r12)" opacity="0.86"/>
<rect x="62.4" y="101.0" width="21.5" height="1.00" fill="url(#r13)" opacity="0.88"/>
<rect x="62.6" y="102.0" width="21.5" height="1.00" fill="url(#r02)" opacity="0.88"/>
<rect x="62.9" y="103.0" width="21.5" height="1.00" fill="url(#r02)" opacity="0.80"/>
<rect x="63.1" y="104.0" width="21.5" height="1.00" fill="url(#r02)" opacity="0.78"/>
<rect x="63.2" y="105.0" width="21.5" height="1.00" fill="url(#r11)" opacity="0.85"/>
<rect x="63.1" y="106.0" width="21.5" height="1.00" fill="url(#r21)" opacity="0.82"/>
<rect x="63.1" y="107.0" width="21.5" height="1.00" fill="url(#r12)" opacity="0.78"/>
<rect x="63.0" y="108.0" width="21.5" height="1.00" fill="url(#r01)" opacity="0.81"/>
<rect x="62.8" y="109.0" width="21.5" height="1.00" fill="url(#r01)" opacity="0.87"/>
<rect x="62.6" y="110.0" width="21.5" height="1.00" fill="url(#r11)" opacity="0.92"/>
<rect x="62.4" y="111.0" width="21.5" height="1.00" fill="url(#r22)" opacity="0.88"/>
<rect x="62.4" y="112.0" width="21.5" height="1.00" fill="url(#r23)" opacity="0.82"/>
<rect x="62.9" y="113.0" width="21.5" height="1.00" fill="url(#r12)" opacity="0.81"/>
<rect x="62.9" y="114.0" width="21.5" height="1.00" fill="url(#r11)" opacity="0.82"/>
<rect x="62.5" y="115.0" width="21.5" height="1.00" fill="url(#r01)" opacity="0.81"/>
<rect x="62.4" y="116.0" width="21.5" height="1.00" fill="url(#r12)" opacity="0.79"/>
<rect x="62.6" y="118.0" width="21.5" height="1.00" fill="url(#r65)" opacity="1.00"/>
<rect x="62.6" y="119.0" width="21.5" height="1.00" fill="url(#r65)" opacity="1.00"/>
<rect x="62.8" y="120.0" width="21.5" height="1.00" fill="url(#r23)" opacity="0.83"/>
<rect x="62.7" y="121.0" width="21.5" height="1.00" fill="url(#r23)" opacity="0.88"/>
<rect x="62.6" y="122.0" width="21.5" height="1.00" fill="url(#r34)" opacity="0.96"/>
<rect x="62.8" y="123.0" width="21.5" height="1.00" fill="url(#r34)" opacity="0.97"/>
<rect x="62.9" y="124.0" width="21.5" height="1.00" fill="url(#r33)" opacity="0.94"/>
<rect x="62.9" y="125.0" width="21.5" height="1.00" fill="url(#r32)" opacity="0.94"/>
<rect x="62.6" y="126.0" width="21.5" height="1.00" fill="url(#r32)" opacity="0.98"/>
<rect x="62.6" y="127.0" width="21.5" height="1.00" fill="url(#r33)" opacity="0.99"/>
<rect x="62.8" y="128.0" width="21.5" height="1.00" fill="url(#r33)" opacity="0.94"/>
<rect x="62.7" y="129.0" width="21.5" height="1.00" fill="url(#r23)" opacity="0.88"/>
<rect x="62.7" y="130.0" width="21.5" height="1.00" fill="url(#r23)" opacity="0.80"/>
<rect x="63.1" y="131.0" width="21.5" height="1.00" fill="url(#r33)" opacity="0.79"/>
<rect x="63.2" y="132.0" width="21.5" height="1.00" fill="url(#r33)" opacity="0.83"/>
<rect x="63.1" y="133.0" width="21.5" height="1.00" fill="url(#r43)" opacity="0.92"/>
<rect x="62.8" y="134.0" width="21.5" height="1.00" fill="url(#r33)" opacity="0.97"/>
<rect x="62.6" y="135.0" width="21.5" height="1.00" fill="url(#r33)" opacity="0.97"/>
<rect x="62.8" y="136.0" width="21.5" height="1.00" fill="url(#r23)" opacity="0.92"/>
<rect x="62.9" y="137.0" width="21.5" height="1.00" fill="url(#r22)" opacity="0.81"/>
<rect x="62.8" y="138.0" width="21.5" height="1.00" fill="url(#r12)" opacity="0.78"/>
<rect x="62.7" y="139.0" width="21.5" height="1.00" fill="url(#r13)" opacity="0.78"/>
<rect x="62.7" y="140.0" width="21.5" height="1.00" fill="url(#r23)" opacity="0.80"/>
<rect x="62.7" y="141.0" width="21.5" height="1.00" fill="url(#r22)" opacity="0.89"/>
<rect x="62.7" y="142.0" width="21.5" height="1.00" fill="url(#r22)" opacity="0.97"/>
<rect x="62.8" y="143.0" width="21.5" height="1.00" fill="url(#r32)" opacity="0.94"/>
<rect x="63.1" y="144.0" width="21.5" height="1.00" fill="url(#r32)" opacity="0.86"/>
<rect x="63.1" y="145.0" width="21.5" height="1.00" fill="url(#r23)" opacity="0.88"/>
<rect x="62.6" y="146.0" width="21.5" height="1.00" fill="url(#r13)" opacity="0.92"/>
<rect x="62.3" y="147.0" width="21.5" height="1.00" fill="url(#r13)" opacity="0.90"/>
<rect x="62.5" y="148.0" width="21.5" height="1.00" fill="url(#r13)" opacity="0.85"/>
<rect x="62.8" y="149.0" width="21.5" height="1.00" fill="url(#r13)" opacity="0.86"/>
<rect x="62.7" y="150.0" width="21.5" height="1.00" fill="url(#r23)" opacity="0.93"/>
<rect x="62.4" y="151.0" width="21.5" height="1.00" fill="url(#r33)" opacity="0.97"/>
<rect x="62.5" y="152.0" width="21.5" height="1.00" fill="url(#r22)" opacity="0.93"/>
<rect x="62.7" y="153.0" width="21.5" height="1.00" fill="url(#r22)" opacity="0.86"/>
<rect x="62.8" y="154.0" width="21.5" height="1.00" fill="url(#r32)" opacity="0.79"/>
<rect x="62.9" y="155.0" width="21.5" height="1.00" fill="url(#r32)" opacity="0.78"/>
<rect x="62.9" y="156.0" width="21.5" height="1.00" fill="url(#r32)" opacity="0.79"/>
<rect x="62.8" y="157.0" width="21.5" height="1.00" fill="url(#r32)" opacity="0.79"/>
<rect x="62.8" y="158.0" width="21.5" height="1.00" fill="url(#r32)" opacity="0.82"/>
<rect x="62.7" y="159.0" width="21.5" height="1.00" fill="url(#r22)" opacity="0.88"/>
<rect x="62.5" y="160.0" width="21.5" height="1.00" fill="url(#r22)" opacity="0.88"/>
<rect x="62.4" y="161.0" width="21.5" height="1.00" fill="url(#r32)" opacity="0.86"/>
<rect x="62.3" y="162.0" width="21.5" height="1.00" fill="url(#r32)" opacity="0.86"/>
<rect x="62.4" y="163.0" width="21.5" height="1.00" fill="url(#r22)" opacity="0.85"/>
<rect x="62.9" y="164.0" width="21.5" height="1.00" fill="url(#r23)" opacity="0.89"/>
<rect x="63.0" y="165.0" width="21.5" height="1.00" fill="url(#r22)" opacity="0.91"/>
<rect x="62.8" y="166.0" width="21.5" height="1.00" fill="url(#r22)" opacity="0.87"/>
<rect x="62.8" y="167.0" width="21.5" height="1.00" fill="url(#r23)" opacity="0.85"/>
<rect x="62.7" y="168.0" width="21.5" height="1.00" fill="url(#r23)" opacity="0.89"/>
<rect x="62.4" y="169.0" width="21.5" height="1.00" fill="url(#r23)" opacity="0.90"/>
<rect x="62.3" y="170.0" width="21.5" height="1.00" fill="url(#r22)" opacity="0.81"/>
<rect x="62.4" y="171.0" width="21.5" height="1.00" fill="url(#r22)" opacity="0.80"/>
<rect x="62.5" y="172.0" width="21.5" height="1.00" fill="url(#r22)" opacity="0.85"/>
<rect x="62.6" y="173.0" width="21.5" height="1.00" fill="url(#r22)" opacity="0.81"/>
<rect x="62.7" y="174.0" width="21.5" height="1.00" fill="url(#r22)" opacity="0.77"/>
<rect x="62.7" y="175.0" width="21.5" height="1.00" fill="url(#r22)" opacity="0.80"/>
<rect x="63.0" y="176.0" width="21.5" height="1.00" fill="url(#r22)" opacity="0.78"/>
<rect x="63.1" y="177.0" width="21.5" height="1.00" fill="url(#r21)" opacity="0.77"/>
<rect x="62.9" y="178.0" width="21.5" height="1.00" fill="url(#r21)" opacity="0.76"/>
<rect x="62.8" y="179.0" width="21.5" height="1.00" fill="url(#r12)" opacity="0.79"/>
<rect x="62.9" y="180.0" width="21.5" height="1.00" fill="url(#r12)" opacity="0.86"/>
<rect x="63.1" y="181.0" width="21.5" height="1.00" fill="url(#r12)" opacity="0.88"/>
<rect x="62.9" y="182.0" width="21.5" height="1.00" fill="url(#r12)" opacity="0.85"/>
<rect x="62.8" y="183.0" width="21.5" height="1.00" fill="url(#r12)" opacity="0.84"/>
<rect x="63.0" y="184.0" width="21.5" height="1.00" fill="url(#r12)" opacity="0.89"/>
<rect x="62.8" y="185.0" width="21.5" height="1.00" fill="url(#r22)" opacity="0.94"/>
<rect x="62.7" y="186.0" width="21.5" height="1.00" fill="url(#r21)" opacity="0.91"/>
<rect x="62.9" y="187.0" width="21.5" height="1.00" fill="url(#r21)" opacity="0.79"/>
<rect x="62.9" y="188.0" width="21.5" height="1.00" fill="url(#r21)" opacity="0.75"/>
<rect x="62.9" y="189.0" width="21.5" height="1.00" fill="url(#r22)" opacity="0.76"/>
<rect x="62.6" y="190.0" width="21.5" height="1.00" fill="url(#r12)" opacity="0.81"/>
<rect x="62.4" y="191.0" width="21.5" height="1.00" fill="url(#r11)" opacity="0.86"/>
<rect x="62.7" y="192.0" width="21.5" height="1.00" fill="url(#r12)" opacity="0.85"/>
<rect x="62.9" y="193.0" width="21.5" height="1.00" fill="url(#r13)" opacity="0.85"/>
<rect x="63.0" y="194.0" width="21.5" height="1.00" fill="url(#r02)" opacity="0.89"/>
<rect x="62.9" y="195.0" width="21.5" height="1.00" fill="url(#r02)" opacity="0.91"/>
<rect x="62.8" y="196.0" width="21.5" height="1.00" fill="url(#r13)" opacity="0.90"/>
<rect x="62.9" y="197.0" width="21.5" height="1.00" fill="url(#r22)" opacity="0.86"/>
<rect x="62.8" y="198.0" width="21.5" height="1.00" fill="url(#r11)" opacity="0.81"/>
<rect x="62.6" y="199.0" width="21.5" height="1.00" fill="url(#r02)" opacity="0.78"/>
<rect x="62.7" y="200.0" width="21.5" height="1.00" fill="url(#r13)" opacity="0.81"/>
<rect x="62.7" y="201.0" width="21.5" height="1.00" fill="url(#r23)" opacity="0.83"/>
<rect x="62.7" y="202.0" width="21.5" height="1.00" fill="url(#r12)" opacity="0.80"/>
<rect x="62.5" y="203.0" width="21.5" height="1.00" fill="url(#r12)" opacity="0.79"/>
</g>
<rect x="94.80" y="31.80" width="21.50" height="171.80" fill="#ffffff" />
<g clip-path="url(#hc1)">
<rect x="94.9" y="32.0" width="21.5" height="1.00" fill="url(#o44)" opacity="0.95"/>
<rect x="94.7" y="33.0" width="21.5" height="1.00" fill="url(#o44)" opacity="0.95"/>
<rect x="94.6" y="34.0" width="21.5" height="1.00" fill="url(#o41)" opacity="0.80"/>
<rect x="94.8" y="35.0" width="21.5" height="1.00" fill="url(#o51)" opacity="0.82"/>
<rect x="95.0" y="36.0" width="21.5" height="1.00" fill="url(#o41)" opacity="0.81"/>
<rect x="95.2" y="37.0" width="21.5" height="1.00" fill="url(#o41)" opacity="0.79"/>
<rect x="95.2" y="38.0" width="21.5" height="1.00" fill="url(#o41)" opacity="0.81"/>
<rect x="95.2" y="39.0" width="21.5" height="1.00" fill="url(#o41)" opacity="0.82"/>
<rect x="95.2" y="40.0" width="21.5" height="1.00" fill="url(#o41)" opacity="0.79"/>
<rect x="95.1" y="41.0" width="21.5" height="1.00" fill="url(#o41)" opacity="0.79"/>
<rect x="94.9" y="42.0" width="21.5" height="1.00" fill="url(#o51)" opacity="0.75"/>
<rect x="95.2" y="43.0" width="21.5" height="1.00" fill="url(#o51)" opacity="0.72"/>
<rect x="95.2" y="44.0" width="21.5" height="1.00" fill="url(#o51)" opacity="0.72"/>
<rect x="95.2" y="45.0" width="21.5" height="1.00" fill="url(#o41)" opacity="0.71"/>
<rect x="95.1" y="46.0" width="21.5" height="1.00" fill="url(#o41)" opacity="0.72"/>
<rect x="94.8" y="47.0" width="21.5" height="1.00" fill="url(#o41)" opacity="0.70"/>
<rect x="94.6" y="48.0" width="21.5" height="1.00" fill="url(#o41)" opacity="0.67"/>
<rect x="94.7" y="49.0" width="21.5" height="1.00" fill="url(#o51)" opacity="0.69"/>
<rect x="94.7" y="50.0" width="21.5" height="1.00" fill="url(#o51)" opacity="0.70"/>
<rect x="95.0" y="51.0" width="21.5" height="1.00" fill="url(#o41)" opacity="0.69"/>
<rect x="95.0" y="52.0" width="21.5" height="1.00" fill="url(#o41)" opacity="0.69"/>
<rect x="95.0" y="53.0" width="21.5" height="1.00" fill="url(#o41)" opacity="0.69"/>
<rect x="94.8" y="54.0" width="21.5" height="1.00" fill="url(#o41)" opacity="0.66"/>
<rect x="94.8" y="55.0" width="21.5" height="1.00" fill="url(#o41)" opacity="0.65"/>
<rect x="95.0" y="56.0" width="21.5" height="1.00" fill="url(#o41)" opacity="0.64"/>
<rect x="95.0" y="57.0" width="21.5" height="1.00" fill="url(#o41)" opacity="0.63"/>
<rect x="94.9" y="58.0" width="21.5" height="1.00" fill="url(#o42)" opacity="0.59"/>
<rect x="94.8" y="59.0" width="21.5" height="1.00" fill="url(#o41)" opacity="0.57"/>
<rect x="94.8" y="60.0" width="21.5" height="1.00" fill="url(#o42)" opacity="0.59"/>
<rect x="94.9" y="61.0" width="21.5" height="1.00" fill="url(#o51)" opacity="0.60"/>
<rect x="94.9" y="62.0" width="21.5" height="1.00" fill="url(#o51)" opacity="0.60"/>
<rect x="94.9" y="63.0" width="21.5" height="1.00" fill="url(#o51)" opacity="0.62"/>
<rect x="95.2" y="64.0" width="21.5" height="1.00" fill="url(#o41)" opacity="0.63"/>
<rect x="95.2" y="65.0" width="21.5" height="1.00" fill="url(#o41)" opacity="0.62"/>
<rect x="95.1" y="66.0" width="21.5" height="1.00" fill="url(#o41)" opacity="0.63"/>
<rect x="94.7" y="67.0" width="21.5" height="1.00" fill="url(#o41)" opacity="0.61"/>
<rect x="94.7" y="68.0" width="21.5" height="1.00" fill="url(#o41)" opacity="0.57"/>
<rect x="95.0" y="69.0" width="21.5" height="1.00" fill="url(#o31)" opacity="0.51"/>
<rect x="95.1" y="70.0" width="21.5" height="1.00" fill="url(#o31)" opacity="0.48"/>
<rect x="95.0" y="71.0" width="21.5" height="1.00" fill="url(#o31)" opacity="0.51"/>
<rect x="94.8" y="72.0" width="21.5" height="1.00" fill="url(#o41)" opacity="0.52"/>
<rect x="94.9" y="73.0" width="21.5" height="1.00" fill="url(#o41)" opacity="0.50"/>
<rect x="94.8" y="74.0" width="21.5" height="1.00" fill="url(#o41)" opacity="0.48"/>
<rect x="94.8" y="75.0" width="21.5" height="1.00" fill="url(#o30)" opacity="0.48"/>
<rect x="94.8" y="76.0" width="21.5" height="1.00" fill="url(#o31)" opacity="0.46"/>
<rect x="94.9" y="77.0" width="21.5" height="1.00" fill="url(#o31)" opacity="0.47"/>
<rect x="95.1" y="78.0" width="21.5" height="1.00" fill="url(#o31)" opacity="0.45"/>
<rect x="95.1" y="79.0" width="21.5" height="1.00" fill="url(#o41)" opacity="0.43"/>
<rect x="95.1" y="80.0" width="21.5" height="1.00" fill="url(#o41)" opacity="0.40"/>
<rect x="94.8" y="81.0" width="21.5" height="1.00" fill="url(#o41)" opacity="0.42"/>
<rect x="95.0" y="82.0" width="21.5" height="1.00" fill="url(#o42)" opacity="0.41"/>
<rect x="95.1" y="83.0" width="21.5" height="1.00" fill="url(#o41)" opacity="0.41"/>
<rect x="95.2" y="84.0" width="21.5" height="1.00" fill="url(#o41)" opacity="0.37"/>
<rect x="95.0" y="85.0" width="21.5" height="1.00" fill="url(#o41)" opacity="0.37"/>
<rect x="95.0" y="86.0" width="21.5" height="1.00" fill="url(#o41)" opacity="0.35"/>
<rect x="94.7" y="87.0" width="21.5" height="1.00" fill="url(#o41)" opacity="0.36"/>
<rect x="95.0" y="88.0" width="21.5" height="1.00" fill="url(#o41)" opacity="0.35"/>
<rect x="94.9" y="89.0" width="21.5" height="1.00" fill="url(#o41)" opacity="0.31"/>
<rect x="94.9" y="90.0" width="21.5" height="1.00" fill="url(#o41)" opacity="0.30"/>
<rect x="94.7" y="91.0" width="21.5" height="1.00" fill="url(#o41)" opacity="0.31"/>
<rect x="94.7" y="92.0" width="21.5" height="1.00" fill="url(#o41)" opacity="0.30"/>
<rect x="94.5" y="93.0" width="21.5" height="1.00" fill="url(#o31)" opacity="0.30"/>
<rect x="94.7" y="94.0" width="21.5" height="1.00" fill="url(#o31)" opacity="0.28"/>
<rect x="94.8" y="95.0" width="21.5" height="1.00" fill="url(#o31)" opacity="0.28"/>
<rect x="95.1" y="96.0" width="21.5" height="1.00" fill="url(#o31)" opacity="0.32"/>
<rect x="95.1" y="97.0" width="21.5" height="1.00" fill="url(#o31)" opacity="0.36"/>
<rect x="95.0" y="98.0" width="21.5" height="1.00" fill="url(#o31)" opacity="0.36"/>
<rect x="95.0" y="99.0" width="21.5" height="1.00" fill="url(#o41)" opacity="0.31"/>
<rect x="94.8" y="100.0" width="21.5" height="1.00" fill="url(#o31)" opacity="0.26"/>
<rect x="94.8" y="101.0" width="21.5" height="1.00" fill="url(#o31)" opacity="0.22"/>
<rect x="94.7" y="102.0" width="21.5" height="1.00" fill="url(#o31)" opacity="0.23"/>
<rect x="95.1" y="103.0" width="21.5" height="1.00" fill="url(#o21)" opacity="0.24"/>
<rect x="95.1" y="104.0" width="21.5" height="1.00" fill="url(#o31)" opacity="0.28"/>
<rect x="95.0" y="105.0" width="21.5" height="1.00" fill="url(#o31)" opacity="0.25"/>
<rect x="94.7" y="106.0" width="21.5" height="1.00" fill="url(#o31)" opacity="0.27"/>
<rect x="94.8" y="107.0" width="21.5" height="1.00" fill="url(#o21)" opacity="0.23"/>
<rect x="94.5" y="108.0" width="21.5" height="1.00" fill="url(#o20)" opacity="0.23"/>
<rect x="94.7" y="109.0" width="21.5" height="1.00" fill="url(#o20)" opacity="0.21"/>
<rect x="94.6" y="110.0" width="21.5" height="1.00" fill="url(#o31)" opacity="0.23"/>
<rect x="94.5" y="111.0" width="21.5" height="1.00" fill="url(#o31)" opacity="0.19"/>
<rect x="94.7" y="112.0" width="21.5" height="1.00" fill="url(#o31)" opacity="0.19"/>
<rect x="95.0" y="113.0" width="21.5" height="1.00" fill="url(#o41)" opacity="0.16"/>
<rect x="95.0" y="114.0" width="21.5" height="1.00" fill="url(#o30)" opacity="0.15"/>
<rect x="94.9" y="115.0" width="21.5" height="1.00" fill="url(#o30)" opacity="0.16"/>
<rect x="95.0" y="116.0" width="21.5" height="1.00" fill="url(#o20)" opacity="0.21"/>
<rect x="94.7" y="118.0" width="21.5" height="1.00" fill="url(#o44)" opacity="0.95"/>
<rect x="94.7" y="119.0" width="21.5" height="1.00" fill="url(#o44)" opacity="0.95"/>
<rect x="94.5" y="120.0" width="21.5" height="1.00" fill="url(#o41)" opacity="0.81"/>
<rect x="94.5" y="121.0" width="21.5" height="1.00" fill="url(#o41)" opacity="0.78"/>
<rect x="94.6" y="122.0" width="21.5" height="1.00" fill="url(#o41)" opacity="0.78"/>
<rect x="94.8" y="123.0" width="21.5" height="1.00" fill="url(#o41)" opacity="0.77"/>
<rect x="95.0" y="124.0" width="21.5" height="1.00" fill="url(#o51)" opacity="0.76"/>
<rect x="94.9" y="125.0" width="21.5" height="1.00" fill="url(#o51)" opacity="0.80"/>
<rect x="94.9" y="126.0" width="21.5" height="1.00" fill="url(#o51)" opacity="0.79"/>
<rect x="94.9" y="127.0" width="21.5" height="1.00" fill="url(#o41)" opacity="0.82"/>
<rect x="95.0" y="128.0" width="21.5" height="1.00" fill="url(#o41)" opacity="0.80"/>
<rect x="94.8" y="129.0" width="21.5" height="1.00" fill="url(#o42)" opacity="0.79"/>
<rect x="94.8" y="130.0" width="21.5" height="1.00" fill="url(#o42)" opacity="0.73"/>
<rect x="94.5" y="131.0" width="21.5" height="1.00" fill="url(#o42)" opacity="0.68"/>
<rect x="94.3" y="132.0" width="21.5" height="1.00" fill="url(#o42)" opacity="0.67"/>
<rect x="94.3" y="133.0" width="21.5" height="1.00" fill="url(#o52)" opacity="0.73"/>
<rect x="94.3" y="134.0" width="21.5" height="1.00" fill="url(#o51)" opacity="0.75"/>
<rect x="94.5" y="135.0" width="21.5" height="1.00" fill="url(#o51)" opacity="0.75"/>
<rect x="94.6" y="136.0" width="21.5" height="1.00" fill="url(#o51)" opacity="0.73"/>
<rect x="94.8" y="137.0" width="21.5" height="1.00" fill="url(#o41)" opacity="0.69"/>
<rect x="94.9" y="138.0" width="21.5" height="1.00" fill="url(#o42)" opacity="0.68"/>
<rect x="94.9" y="139.0" width="21.5" height="1.00" fill="url(#o41)" opacity="0.65"/>
<rect x="94.9" y="140.0" width="21.5" height="1.00" fill="url(#o51)" opacity="0.63"/>
<rect x="94.7" y="141.0" width="21.5" height="1.00" fill="url(#o51)" opacity="0.65"/>
<rect x="94.7" y="142.0" width="21.5" height="1.00" fill="url(#o52)" opacity="0.68"/>
<rect x="94.8" y="143.0" width="21.5" height="1.00" fill="url(#o42)" opacity="0.66"/>
<rect x="94.8" y="144.0" width="21.5" height="1.00" fill="url(#o42)" opacity="0.63"/>
<rect x="94.7" y="145.0" width="21.5" height="1.00" fill="url(#o41)" opacity="0.58"/>
<rect x="94.7" y="146.0" width="21.5" height="1.00" fill="url(#o41)" opacity="0.58"/>
<rect x="94.9" y="147.0" width="21.5" height="1.00" fill="url(#o41)" opacity="0.59"/>
<rect x="94.7" y="148.0" width="21.5" height="1.00" fill="url(#o41)" opacity="0.61"/>
<rect x="94.9" y="149.0" width="21.5" height="1.00" fill="url(#o41)" opacity="0.62"/>
<rect x="94.7" y="150.0" width="21.5" height="1.00" fill="url(#o42)" opacity="0.59"/>
<rect x="94.9" y="151.0" width="21.5" height="1.00" fill="url(#o41)" opacity="0.58"/>
<rect x="94.7" y="152.0" width="21.5" height="1.00" fill="url(#o42)" opacity="0.57"/>
<rect x="94.6" y="153.0" width="21.5" height="1.00" fill="url(#o42)" opacity="0.57"/>
<rect x="94.5" y="154.0" width="21.5" height="1.00" fill="url(#o41)" opacity="0.55"/>
<rect x="94.7" y="155.0" width="21.5" height="1.00" fill="url(#o41)" opacity="0.53"/>
<rect x="94.9" y="156.0" width="21.5" height="1.00" fill="url(#o41)" opacity="0.51"/>
<rect x="95.1" y="157.0" width="21.5" height="1.00" fill="url(#o41)" opacity="0.54"/>
<rect x="95.0" y="158.0" width="21.5" height="1.00" fill="url(#o41)" opacity="0.51"/>
<rect x="94.8" y="159.0" width="21.5" height="1.00" fill="url(#o41)" opacity="0.52"/>
<rect x="94.9" y="160.0" width="21.5" height="1.00" fill="url(#o41)" opacity="0.49"/>
<rect x="94.9" y="161.0" width="21.5" height="1.00" fill="url(#o31)" opacity="0.51"/>
<rect x="94.8" y="162.0" width="21.5" height="1.00" fill="url(#o31)" opacity="0.46"/>
<rect x="94.9" y="163.0" width="21.5" height="1.00" fill="url(#o31)" opacity="0.46"/>
<rect x="94.7" y="164.0" width="21.5" height="1.00" fill="url(#o32)" opacity="0.46"/>
<rect x="94.8" y="165.0" width="21.5" height="1.00" fill="url(#o31)" opacity="0.49"/>
<rect x="94.9" y="166.0" width="21.5" height="1.00" fill="url(#o31)" opacity="0.47"/>
<rect x="94.9" y="167.0" width="21.5" height="1.00" fill="url(#o31)" opacity="0.43"/>
<rect x="94.9" y="168.0" width="21.5" height="1.00" fill="url(#o31)" opacity="0.41"/>
<rect x="94.7" y="169.0" width="21.5" height="1.00" fill="url(#o31)" opacity="0.42"/>
<rect x="94.8" y="170.0" width="21.5" height="1.00" fill="url(#o31)" opacity="0.39"/>
<rect x="95.1" y="171.0" width="21.5" height="1.00" fill="url(#o31)" opacity="0.37"/>
<rect x="95.1" y="172.0" width="21.5" height="1.00" fill="url(#o41)" opacity="0.36"/>
<rect x="95.0" y="173.0" width="21.5" height="1.00" fill="url(#o31)" opacity="0.40"/>
<rect x="94.7" y="174.0" width="21.5" height="1.00" fill="url(#o31)" opacity="0.41"/>
<rect x="94.7" y="175.0" width="21.5" height="1.00" fill="url(#o31)" opacity="0.40"/>
<rect x="94.8" y="176.0" width="21.5" height="1.00" fill="url(#o31)" opacity="0.34"/>
<rect x="94.9" y="177.0" width="21.5" height="1.00" fill="url(#o31)" opacity="0.33"/>
<rect x="94.8" y="178.0" width="21.5" height="1.00" fill="url(#o31)" opacity="0.30"/>
<rect x="94.6" y="179.0" width="21.5" height="1.00" fill="url(#o31)" opacity="0.31"/>
<rect x="94.8" y="180.0" width="21.5" height="1.00" fill="url(#o31)" opacity="0.29"/>
<rect x="94.9" y="181.0" width="21.5" height="1.00" fill="url(#o31)" opacity="0.29"/>
<rect x="95.0" y="182.0" width="21.5" height="1.00" fill="url(#o31)" opacity="0.30"/>
<rect x="94.7" y="183.0" width="21.5" height="1.00" fill="url(#o21)" opacity="0.28"/>
<rect x="94.8" y="184.0" width="21.5" height="1.00" fill="url(#o21)" opacity="0.30"/>
<rect x="95.0" y="185.0" width="21.5" height="1.00" fill="url(#o20)" opacity="0.27"/>
<rect x="95.0" y="186.0" width="21.5" height="1.00" fill="url(#o30)" opacity="0.27"/>
<rect x="94.9" y="187.0" width="21.5" height="1.00" fill="url(#o30)" opacity="0.27"/>
<rect x="94.7" y="188.0" width="21.5" height="1.00" fill="url(#o20)" opacity="0.26"/>
<rect x="94.7" y="189.0" width="21.5" height="1.00" fill="url(#o20)" opacity="0.26"/>
<rect x="94.7" y="190.0" width="21.5" height="1.00" fill="url(#o20)" opacity="0.29"/>
<rect x="94.7" y="191.0" width="21.5" height="1.00" fill="url(#o21)" opacity="0.30"/>
<rect x="94.7" y="192.0" width="21.5" height="1.00" fill="url(#o21)" opacity="0.32"/>
<rect x="94.6" y="193.0" width="21.5" height="1.00" fill="url(#o31)" opacity="0.31"/>
<rect x="94.8" y="194.0" width="21.5" height="1.00" fill="url(#o41)" opacity="0.28"/>
<rect x="94.7" y="195.0" width="21.5" height="1.00" fill="url(#o41)" opacity="0.21"/>
<rect x="94.6" y="196.0" width="21.5" height="1.00" fill="url(#o41)" opacity="0.19"/>
<rect x="94.7" y="197.0" width="21.5" height="1.00" fill="url(#o30)" opacity="0.19"/>
<rect x="94.6" y="198.0" width="21.5" height="1.00" fill="url(#o20)" opacity="0.19"/>
<rect x="94.5" y="199.0" width="21.5" height="1.00" fill="url(#o30)" opacity="0.22"/>
<rect x="94.6" y="200.0" width="21.5" height="1.00" fill="url(#o30)" opacity="0.20"/>
<rect x="94.6" y="201.0" width="21.5" height="1.00" fill="url(#o30)" opacity="0.20"/>
<rect x="94.9" y="202.0" width="21.5" height="1.00" fill="url(#o30)" opacity="0.15"/>
<rect x="94.9" y="203.0" width="21.5" height="1.00" fill="url(#o30)" opacity="0.16"/>
</g>
<rect x="124.80" y="31.80" width="21.00" height="171.80" fill="#ffffff" />
<g clip-path="url(#hc2)">
<rect x="124.6" y="32.0" width="21.0" height="1.00" fill="url(#p64)" opacity="1.00"/>
<rect x="124.8" y="33.0" width="21.0" height="1.00" fill="url(#p64)" opacity="1.00"/>
<rect x="125.1" y="34.0" width="21.0" height="1.00" fill="url(#p64)" opacity="1.00"/>
<rect x="125.1" y="35.0" width="21.0" height="1.00" fill="url(#p32)" opacity="0.82"/>
<rect x="125.1" y="36.0" width="21.0" height="1.00" fill="url(#p32)" opacity="0.92"/>
<rect x="125.0" y="37.0" width="21.0" height="1.00" fill="url(#p31)" opacity="0.89"/>
<rect x="124.8" y="38.0" width="21.0" height="1.00" fill="url(#p21)" opacity="0.80"/>
<rect x="124.8" y="39.0" width="21.0" height="1.00" fill="url(#p21)" opacity="0.81"/>
<rect x="124.6" y="40.0" width="21.0" height="1.00" fill="url(#p32)" opacity="0.78"/>
<rect x="124.6" y="41.0" width="21.0" height="1.00" fill="url(#p32)" opacity="0.72"/>
<rect x="124.9" y="42.0" width="21.0" height="1.00" fill="url(#p32)" opacity="0.69"/>
<rect x="125.1" y="43.0" width="21.0" height="1.00" fill="url(#p22)" opacity="0.63"/>
<rect x="124.9" y="44.0" width="21.0" height="1.00" fill="url(#p21)" opacity="0.56"/>
<rect x="124.9" y="45.0" width="21.0" height="1.00" fill="url(#p21)" opacity="0.55"/>
<rect x="124.9" y="46.0" width="21.0" height="1.00" fill="url(#p22)" opacity="0.61"/>
<rect x="124.7" y="47.0" width="21.0" height="1.00" fill="url(#p21)" opacity="0.65"/>
<rect x="124.5" y="48.0" width="21.0" height="1.00" fill="url(#p11)" opacity="0.63"/>
<rect x="124.4" y="49.0" width="21.0" height="1.00" fill="url(#p11)" opacity="0.58"/>
<rect x="124.3" y="50.0" width="21.0" height="1.00" fill="url(#p22)" opacity="0.52"/>
<rect x="124.5" y="51.0" width="21.0" height="1.00" fill="url(#p32)" opacity="0.52"/>
<rect x="125.1" y="52.0" width="21.0" height="1.00" fill="url(#p31)" opacity="0.53"/>
<rect x="125.2" y="53.0" width="21.0" height="1.00" fill="url(#p21)" opacity="0.51"/>
<rect x="124.8" y="54.0" width="21.0" height="1.00" fill="url(#p21)" opacity="0.52"/>
<rect x="124.6" y="55.0" width="21.0" height="1.00" fill="url(#p21)" opacity="0.52"/>
<rect x="124.7" y="56.0" width="21.0" height="1.00" fill="url(#p21)" opacity="0.49"/>
<rect x="124.9" y="57.0" width="21.0" height="1.00" fill="url(#p11)" opacity="0.44"/>
<rect x="124.8" y="58.0" width="21.0" height="1.00" fill="url(#p11)" opacity="0.36"/>
<rect x="124.7" y="59.0" width="21.0" height="1.00" fill="url(#p21)" opacity="0.38"/>
<rect x="125.1" y="60.0" width="21.0" height="1.00" fill="url(#p11)" opacity="0.42"/>
<rect x="125.0" y="61.0" width="21.0" height="1.00" fill="url(#p21)" opacity="0.34"/>
<rect x="124.6" y="62.0" width="21.0" height="1.00" fill="url(#p31)" opacity="0.28"/>
<rect x="124.6" y="63.0" width="21.0" height="1.00" fill="url(#p31)" opacity="0.29"/>
<rect x="124.7" y="64.0" width="21.0" height="1.00" fill="url(#p21)" opacity="0.34"/>
<rect x="124.8" y="65.0" width="21.0" height="1.00" fill="url(#p30)" opacity="0.31"/>
<rect x="124.7" y="66.0" width="21.0" height="1.00" fill="url(#p20)" opacity="0.31"/>
<rect x="124.6" y="67.0" width="21.0" height="1.00" fill="url(#p20)" opacity="0.35"/>
<rect x="124.7" y="68.0" width="21.0" height="1.00" fill="url(#p20)" opacity="0.38"/>
<rect x="124.8" y="69.0" width="21.0" height="1.00" fill="url(#p21)" opacity="0.35"/>
<rect x="124.8" y="70.0" width="21.0" height="1.00" fill="url(#p31)" opacity="0.28"/>
<rect x="124.8" y="71.0" width="21.0" height="1.00" fill="url(#p30)" opacity="0.26"/>
<rect x="124.9" y="72.0" width="21.0" height="1.00" fill="url(#p30)" opacity="0.33"/>
<rect x="125.0" y="73.0" width="21.0" height="1.00" fill="url(#p20)" opacity="0.37"/>
<rect x="125.0" y="74.0" width="21.0" height="1.00" fill="url(#p11)" opacity="0.36"/>
<rect x="125.0" y="75.0" width="21.0" height="1.00" fill="url(#p01)" opacity="0.35"/>
<rect x="125.1" y="76.0" width="21.0" height="1.00" fill="url(#p01)" opacity="0.34"/>
<rect x="125.2" y="77.0" width="21.0" height="1.00" fill="url(#p01)" opacity="0.34"/>
<rect x="125.0" y="78.0" width="21.0" height="1.00" fill="url(#p10)" opacity="0.35"/>
<rect x="125.0" y="79.0" width="21.0" height="1.00" fill="url(#p10)" opacity="0.26"/>
<rect x="125.1" y="80.0" width="21.0" height="1.00" fill="url(#p11)" opacity="0.21"/>
<rect x="124.9" y="81.0" width="21.0" height="1.00" fill="url(#p10)" opacity="0.31"/>
<rect x="124.7" y="82.0" width="21.0" height="1.00" fill="url(#p10)" opacity="0.32"/>
<rect x="124.6" y="83.0" width="21.0" height="1.00" fill="url(#p10)" opacity="0.18"/>
<rect x="124.4" y="84.0" width="21.0" height="1.00" fill="url(#p20)" opacity="0.11"/>
<rect x="124.5" y="85.0" width="21.0" height="1.00" fill="url(#p21)" opacity="0.12"/>
<rect x="124.7" y="86.0" width="21.0" height="1.00" fill="url(#p11)" opacity="0.12"/>
<rect x="124.7" y="87.0" width="21.0" height="1.00" fill="url(#p10)" opacity="0.12"/>
<rect x="124.5" y="88.0" width="21.0" height="1.00" fill="url(#p10)" opacity="0.10"/>
<rect x="124.3" y="89.0" width="21.0" height="1.00" fill="url(#p10)" opacity="0.08"/>
<rect x="124.4" y="90.0" width="21.0" height="1.00" fill="url(#p11)" opacity="0.08"/>
<rect x="124.7" y="91.0" width="21.0" height="1.00" fill="url(#p11)" opacity="0.12"/>
<rect x="124.7" y="92.0" width="21.0" height="1.00" fill="url(#p21)" opacity="0.17"/>
<rect x="124.8" y="93.0" width="21.0" height="1.00" fill="url(#p21)" opacity="0.20"/>
<rect x="125.0" y="94.0" width="21.0" height="1.00" fill="url(#p10)" opacity="0.15"/>
<rect x="125.2" y="95.0" width="21.0" height="1.00" fill="url(#p10)" opacity="0.15"/>
<rect x="125.0" y="96.0" width="21.0" height="1.00" fill="url(#p10)" opacity="0.25"/>
<rect x="124.8" y="97.0" width="21.0" height="1.00" fill="url(#p10)" opacity="0.28"/>
<rect x="124.9" y="98.0" width="21.0" height="1.00" fill="url(#p00)" opacity="0.21"/>
<rect x="124.8" y="99.0" width="21.0" height="1.00" fill="url(#p00)" opacity="0.12"/>
<rect x="124.8" y="100.0" width="21.0" height="1.00" fill="url(#p00)" opacity="0.11"/>
<rect x="124.8" y="101.0" width="21.0" height="1.00" fill="url(#p10)" opacity="0.13"/>
<rect x="124.8" y="102.0" width="21.0" height="1.00" fill="url(#p10)" opacity="0.09"/>
<rect x="125.0" y="103.0" width="21.0" height="1.00" fill="url(#p20)" opacity="0.06"/>
<rect x="125.0" y="104.0" width="21.0" height="1.00" fill="url(#p20)" opacity="0.12"/>
<rect x="124.9" y="105.0" width="21.0" height="1.00" fill="url(#p20)" opacity="0.20"/>
<rect x="124.7" y="106.0" width="21.0" height="1.00" fill="url(#p10)" opacity="0.23"/>
<rect x="124.8" y="107.0" width="21.0" height="1.00" fill="url(#p11)" opacity="0.23"/>
<rect x="124.8" y="108.0" width="21.0" height="1.00" fill="url(#p11)" opacity="0.22"/>
<rect x="124.9" y="109.0" width="21.0" height="1.00" fill="url(#p11)" opacity="0.23"/>
<rect x="124.9" y="110.0" width="21.0" height="1.00" fill="url(#p11)" opacity="0.25"/>
<rect x="124.7" y="111.0" width="21.0" height="1.00" fill="url(#p10)" opacity="0.25"/>
<rect x="124.6" y="112.0" width="21.0" height="1.00" fill="url(#p20)" opacity="0.21"/>
<rect x="124.8" y="113.0" width="21.0" height="1.00" fill="url(#p10)" opacity="0.15"/>
<rect x="125.1" y="114.0" width="21.0" height="1.00" fill="url(#p10)" opacity="0.16"/>
<rect x="125.0" y="115.0" width="21.0" height="1.00" fill="url(#p10)" opacity="0.19"/>
<rect x="124.8" y="116.0" width="21.0" height="1.00" fill="url(#p00)" opacity="0.22"/>
<rect x="124.5" y="118.0" width="21.0" height="1.00" fill="url(#p65)" opacity="1.00"/>
<rect x="124.7" y="119.0" width="21.0" height="1.00" fill="url(#p65)" opacity="1.00"/>
<rect x="124.8" y="120.0" width="21.0" height="1.00" fill="url(#p65)" opacity="1.00"/>
<rect x="124.9" y="121.0" width="21.0" height="1.00" fill="url(#p34)" opacity="0.83"/>
<rect x="124.9" y="122.0" width="21.0" height="1.00" fill="url(#p33)" opacity="0.82"/>
<rect x="124.5" y="123.0" width="21.0" height="1.00" fill="url(#p33)" opacity="0.82"/>
<rect x="124.3" y="124.0" width="21.0" height="1.00" fill="url(#p43)" opacity="0.84"/>
<rect x="124.5" y="125.0" width="21.0" height="1.00" fill="url(#p43)" opacity="0.81"/>
<rect x="124.8" y="126.0" width="21.0" height="1.00" fill="url(#p43)" opacity="0.78"/>
<rect x="124.6" y="127.0" width="21.0" height="1.00" fill="url(#p42)" opacity="0.84"/>
<rect x="124.6" y="128.0" width="21.0" height="1.00" fill="url(#p33)" opacity="0.85"/>
<rect x="124.8" y="129.0" width="21.0" height="1.00" fill="url(#p42)" opacity="0.82"/>
<rect x="124.8" y="130.0" width="21.0" height="1.00" fill="url(#p43)" opacity="0.86"/>
<rect x="124.8" y="131.0" width="21.0" height="1.00" fill="url(#p33)" opacity="0.86"/>
<rect x="124.9" y="132.0" width="21.0" height="1.00" fill="url(#p33)" opacity="0.85"/>
<rect x="124.9" y="133.0" width="21.0" height="1.00" fill="url(#p33)" opacity="0.85"/>
<rect x="125.0" y="134.0" width="21.0" height="1.00" fill="url(#p33)" opacity="0.80"/>
<rect x="125.0" y="135.0" width="21.0" height="1.00" fill="url(#p33)" opacity="0.72"/>
<rect x="124.8" y="136.0" width="21.0" height="1.00" fill="url(#p33)" opacity="0.70"/>
<rect x="124.5" y="137.0" width="21.0" height="1.00" fill="url(#p33)" opacity="0.78"/>
<rect x="124.6" y="138.0" width="21.0" height="1.00" fill="url(#p43)" opacity="0.88"/>
<rect x="124.7" y="139.0" width="21.0" height="1.00" fill="url(#p43)" opacity="0.83"/>
<rect x="125.0" y="140.0" width="21.0" height="1.00" fill="url(#p43)" opacity="0.75"/>
<rect x="125.0" y="141.0" width="21.0" height="1.00" fill="url(#p33)" opacity="0.77"/>
<rect x="124.5" y="142.0" width="21.0" height="1.00" fill="url(#p23)" opacity="0.77"/>
<rect x="124.4" y="143.0" width="21.0" height="1.00" fill="url(#p32)" opacity="0.75"/>
<rect x="124.6" y="144.0" width="21.0" height="1.00" fill="url(#p42)" opacity="0.82"/>
<rect x="124.6" y="145.0" width="21.0" height="1.00" fill="url(#p33)" opacity="0.89"/>
<rect x="124.5" y="146.0" width="21.0" height="1.00" fill="url(#p22)" opacity="0.88"/>
<rect x="124.5" y="147.0" width="21.0" height="1.00" fill="url(#p22)" opacity="0.84"/>
<rect x="124.6" y="148.0" width="21.0" height="1.00" fill="url(#p32)" opacity="0.85"/>
<rect x="125.0" y="149.0" width="21.0" height="1.00" fill="url(#p32)" opacity="0.83"/>
<rect x="125.2" y="150.0" width="21.0" height="1.00" fill="url(#p31)" opacity="0.74"/>
<rect x="125.2" y="151.0" width="21.0" height="1.00" fill="url(#p31)" opacity="0.69"/>
<rect x="125.2" y="152.0" width="21.0" height="1.00" fill="url(#p22)" opacity="0.70"/>
<rect x="124.9" y="153.0" width="21.0" height="1.00" fill="url(#p32)" opacity="0.78"/>
<rect x="124.7" y="154.0" width="21.0" height="1.00" fill="url(#p32)" opacity="0.83"/>
<rect x="124.7" y="155.0" width="21.0" height="1.00" fill="url(#p43)" opacity="0.77"/>
<rect x="124.7" y="156.0" width="21.0" height="1.00" fill="url(#p42)" opacity="0.72"/>
<rect x="124.8" y="157.0" width="21.0" height="1.00" fill="url(#p32)" opacity="0.72"/>
<rect x="124.9" y="158.0" width="21.0" height="1.00" fill="url(#p32)" opacity="0.67"/>
<rect x="124.8" y="159.0" width="21.0" height="1.00" fill="url(#p31)" opacity="0.62"/>
<rect x="124.8" y="160.0" width="21.0" height="1.00" fill="url(#p41)" opacity="0.62"/>
<rect x="124.5" y="161.0" width="21.0" height="1.00" fill="url(#p32)" opacity="0.66"/>
<rect x="124.3" y="162.0" width="21.0" height="1.00" fill="url(#p22)" opacity="0.68"/>
<rect x="124.3" y="163.0" width="21.0" height="1.00" fill="url(#p22)" opacity="0.65"/>
<rect x="124.4" y="164.0" width="21.0" height="1.00" fill="url(#p21)" opacity="0.67"/>
<rect x="124.5" y="165.0" width="21.0" height="1.00" fill="url(#p21)" opacity="0.63"/>
<rect x="124.6" y="166.0" width="21.0" height="1.00" fill="url(#p22)" opacity="0.59"/>
<rect x="124.7" y="167.0" width="21.0" height="1.00" fill="url(#p22)" opacity="0.65"/>
<rect x="124.9" y="168.0" width="21.0" height="1.00" fill="url(#p32)" opacity="0.61"/>
<rect x="124.8" y="169.0" width="21.0" height="1.00" fill="url(#p21)" opacity="0.57"/>
<rect x="124.6" y="170.0" width="21.0" height="1.00" fill="url(#p21)" opacity="0.62"/>
<rect x="124.6" y="171.0" width="21.0" height="1.00" fill="url(#p22)" opacity="0.62"/>
<rect x="124.8" y="172.0" width="21.0" height="1.00" fill="url(#p22)" opacity="0.59"/>
<rect x="125.0" y="173.0" width="21.0" height="1.00" fill="url(#p11)" opacity="0.55"/>
<rect x="124.8" y="174.0" width="21.0" height="1.00" fill="url(#p21)" opacity="0.56"/>
<rect x="124.6" y="175.0" width="21.0" height="1.00" fill="url(#p12)" opacity="0.60"/>
<rect x="124.9" y="176.0" width="21.0" height="1.00" fill="url(#p22)" opacity="0.52"/>
<rect x="124.8" y="177.0" width="21.0" height="1.00" fill="url(#p32)" opacity="0.47"/>
<rect x="124.7" y="178.0" width="21.0" height="1.00" fill="url(#p22)" opacity="0.55"/>
<rect x="124.8" y="179.0" width="21.0" height="1.00" fill="url(#p21)" opacity="0.59"/>
<rect x="124.8" y="180.0" width="21.0" height="1.00" fill="url(#p21)" opacity="0.59"/>
<rect x="124.7" y="181.0" width="21.0" height="1.00" fill="url(#p12)" opacity="0.65"/>
<rect x="124.6" y="182.0" width="21.0" height="1.00" fill="url(#p22)" opacity="0.66"/>
<rect x="124.5" y="183.0" width="21.0" height="1.00" fill="url(#p31)" opacity="0.62"/>
<rect x="124.5" y="184.0" width="21.0" height="1.00" fill="url(#p20)" opacity="0.65"/>
<rect x="124.5" y="185.0" width="21.0" height="1.00" fill="url(#p21)" opacity="0.62"/>
<rect x="124.4" y="186.0" width="21.0" height="1.00" fill="url(#p11)" opacity="0.49"/>
<rect x="124.4" y="187.0" width="21.0" height="1.00" fill="url(#p11)" opacity="0.49"/>
<rect x="124.8" y="188.0" width="21.0" height="1.00" fill="url(#p11)" opacity="0.56"/>
<rect x="125.2" y="189.0" width="21.0" height="1.00" fill="url(#p21)" opacity="0.56"/>
<rect x="125.2" y="190.0" width="21.0" height="1.00" fill="url(#p11)" opacity="0.59"/>
<rect x="124.7" y="191.0" width="21.0" height="1.00" fill="url(#p11)" opacity="0.60"/>
<rect x="124.5" y="192.0" width="21.0" height="1.00" fill="url(#p21)" opacity="0.56"/>
<rect x="124.8" y="193.0" width="21.0" height="1.00" fill="url(#p21)" opacity="0.55"/>
<rect x="125.2" y="194.0" width="21.0" height="1.00" fill="url(#p21)" opacity="0.56"/>
<rect x="125.2" y="195.0" width="21.0" height="1.00" fill="url(#p21)" opacity="0.56"/>
<rect x="125.2" y="196.0" width="21.0" height="1.00" fill="url(#p31)" opacity="0.49"/>
<rect x="124.9" y="197.0" width="21.0" height="1.00" fill="url(#p30)" opacity="0.37"/>
<rect x="124.5" y="198.0" width="21.0" height="1.00" fill="url(#p30)" opacity="0.33"/>
<rect x="124.6" y="199.0" width="21.0" height="1.00" fill="url(#p20)" opacity="0.38"/>
<rect x="124.7" y="200.0" width="21.0" height="1.00" fill="url(#p20)" opacity="0.43"/>
<rect x="124.5" y="201.0" width="21.0" height="1.00" fill="url(#p20)" opacity="0.36"/>
<rect x="124.3" y="202.0" width="21.0" height="1.00" fill="url(#p20)" opacity="0.31"/>
<rect x="124.6" y="203.0" width="21.0" height="1.00" fill="url(#p20)" opacity="0.34"/>
</g>
<rect x="94.8" y="31.8" width="21.5" height="171.8" fill="#fff" filter="url(#spk)" opacity="0.85"/>
<rect x="96.2" y="34.0" width="1.0" height="1.7" fill="#8c8c8c" opacity="0.6"/>
<rect x="96.6" y="38.1" width="1.0" height="1.7" fill="#8c8c8c" opacity="0.6"/>
<rect x="96.9" y="42.2" width="1.0" height="1.7" fill="#8c8c8c" opacity="0.6"/>
<rect x="97.2" y="46.3" width="1.0" height="1.7" fill="#8c8c8c" opacity="0.6"/>
<rect x="97.6" y="50.4" width="1.0" height="1.7" fill="#8c8c8c" opacity="0.6"/>
<rect x="97.9" y="54.5" width="1.0" height="1.7" fill="#8c8c8c" opacity="0.6"/>
<rect x="98.2" y="58.6" width="1.0" height="1.7" fill="#8c8c8c" opacity="0.6"/>
<rect x="98.5" y="62.7" width="1.0" height="1.7" fill="#8c8c8c" opacity="0.6"/>
<rect x="98.9" y="66.8" width="1.0" height="1.7" fill="#8c8c8c" opacity="0.6"/>
<rect x="99.2" y="70.9" width="1.0" height="1.7" fill="#8c8c8c" opacity="0.6"/>
<rect x="99.5" y="75.0" width="1.0" height="1.7" fill="#8c8c8c" opacity="0.6"/>
<rect x="99.8" y="79.1" width="1.0" height="1.7" fill="#8c8c8c" opacity="0.6"/>
<rect x="100.2" y="83.2" width="1.0" height="1.7" fill="#8c8c8c" opacity="0.6"/>
<rect x="100.5" y="87.3" width="1.0" height="1.7" fill="#8c8c8c" opacity="0.6"/>
<rect x="100.8" y="91.4" width="1.0" height="1.7" fill="#8c8c8c" opacity="0.6"/>
<rect x="101.1" y="95.5" width="1.0" height="1.7" fill="#8c8c8c" opacity="0.6"/>
<rect x="101.5" y="99.6" width="1.0" height="1.7" fill="#8c8c8c" opacity="0.6"/>
<rect x="101.8" y="103.7" width="1.0" height="1.7" fill="#8c8c8c" opacity="0.6"/>
<rect x="102.1" y="107.8" width="1.0" height="1.7" fill="#8c8c8c" opacity="0.6"/>
<rect x="102.4" y="111.9" width="1.0" height="1.7" fill="#8c8c8c" opacity="0.6"/>
<rect x="113.9" y="34.0" width="1.0" height="1.7" fill="#8c8c8c" opacity="0.6"/>
<rect x="113.6" y="38.1" width="1.0" height="1.7" fill="#8c8c8c" opacity="0.6"/>
<rect x="113.3" y="42.2" width="1.0" height="1.7" fill="#8c8c8c" opacity="0.6"/>
<rect x="113.0" y="46.3" width="1.0" height="1.7" fill="#8c8c8c" opacity="0.6"/>
<rect x="112.6" y="50.4" width="1.0" height="1.7" fill="#8c8c8c" opacity="0.6"/>
<rect x="112.3" y="54.5" width="1.0" height="1.7" fill="#8c8c8c" opacity="0.6"/>
<rect x="112.0" y="58.6" width="1.0" height="1.7" fill="#8c8c8c" opacity="0.6"/>
<rect x="111.7" y="62.7" width="1.0" height="1.7" fill="#8c8c8c" opacity="0.6"/>
<rect x="111.3" y="66.8" width="1.0" height="1.7" fill="#8c8c8c" opacity="0.6"/>
<rect x="111.0" y="70.9" width="1.0" height="1.7" fill="#8c8c8c" opacity="0.6"/>
<rect x="110.7" y="75.0" width="1.0" height="1.7" fill="#8c8c8c" opacity="0.6"/>
<rect x="110.4" y="79.1" width="1.0" height="1.7" fill="#8c8c8c" opacity="0.6"/>
<rect x="110.0" y="83.2" width="1.0" height="1.7" fill="#8c8c8c" opacity="0.6"/>
<rect x="109.7" y="87.3" width="1.0" height="1.7" fill="#8c8c8c" opacity="0.6"/>
<rect x="109.4" y="91.4" width="1.0" height="1.7" fill="#8c8c8c" opacity="0.6"/>
<rect x="109.1" y="95.5" width="1.0" height="1.7" fill="#8c8c8c" opacity="0.6"/>
<rect x="108.7" y="99.6" width="1.0" height="1.7" fill="#8c8c8c" opacity="0.6"/>
<rect x="108.4" y="103.7" width="1.0" height="1.7" fill="#8c8c8c" opacity="0.6"/>
<rect x="108.1" y="107.8" width="1.0" height="1.7" fill="#8c8c8c" opacity="0.6"/>
<rect x="107.8" y="111.9" width="1.0" height="1.7" fill="#8c8c8c" opacity="0.6"/>
<rect x="96.2" y="120.0" width="1.0" height="1.7" fill="#8c8c8c" opacity="0.6"/>
<rect x="96.6" y="124.1" width="1.0" height="1.7" fill="#8c8c8c" opacity="0.6"/>
<rect x="96.9" y="128.2" width="1.0" height="1.7" fill="#8c8c8c" opacity="0.6"/>
<rect x="97.2" y="132.3" width="1.0" height="1.7" fill="#8c8c8c" opacity="0.6"/>
<rect x="97.5" y="136.4" width="1.0" height="1.7" fill="#8c8c8c" opacity="0.6"/>
<rect x="97.9" y="140.5" width="1.0" height="1.7" fill="#8c8c8c" opacity="0.6"/>
<rect x="98.2" y="144.6" width="1.0" height="1.7" fill="#8c8c8c" opacity="0.6"/>
<rect x="98.5" y="148.7" width="1.0" height="1.7" fill="#8c8c8c" opacity="0.6"/>
<rect x="98.8" y="152.8" width="1.0" height="1.7" fill="#8c8c8c" opacity="0.6"/>
<rect x="99.1" y="156.9" width="1.0" height="1.7" fill="#8c8c8c" opacity="0.6"/>
<rect x="99.5" y="161.0" width="1.0" height="1.7" fill="#8c8c8c" opacity="0.6"/>
<rect x="99.8" y="165.1" width="1.0" height="1.7" fill="#8c8c8c" opacity="0.6"/>
<rect x="100.1" y="169.2" width="1.0" height="1.7" fill="#8c8c8c" opacity="0.6"/>
<rect x="100.4" y="173.3" width="1.0" height="1.7" fill="#8c8c8c" opacity="0.6"/>
<rect x="100.7" y="177.4" width="1.0" height="1.7" fill="#8c8c8c" opacity="0.6"/>
<rect x="101.1" y="181.5" width="1.0" height="1.7" fill="#8c8c8c" opacity="0.6"/>
<rect x="101.4" y="185.6" width="1.0" height="1.7" fill="#8c8c8c" opacity="0.6"/>
<rect x="101.7" y="189.7" width="1.0" height="1.7" fill="#8c8c8c" opacity="0.6"/>
<rect x="102.0" y="193.8" width="1.0" height="1.7" fill="#8c8c8c" opacity="0.6"/>
<rect x="102.4" y="197.9" width="1.0" height="1.7" fill="#8c8c8c" opacity="0.6"/>
<rect x="113.9" y="120.0" width="1.0" height="1.7" fill="#8c8c8c" opacity="0.6"/>
<rect x="113.6" y="124.1" width="1.0" height="1.7" fill="#8c8c8c" opacity="0.6"/>
<rect x="113.3" y="128.2" width="1.0" height="1.7" fill="#8c8c8c" opacity="0.6"/>
<rect x="113.0" y="132.3" width="1.0" height="1.7" fill="#8c8c8c" opacity="0.6"/>
<rect x="112.7" y="136.4" width="1.0" height="1.7" fill="#8c8c8c" opacity="0.6"/>
<rect x="112.3" y="140.5" width="1.0" height="1.7" fill="#8c8c8c" opacity="0.6"/>
<rect x="112.0" y="144.6" width="1.0" height="1.7" fill="#8c8c8c" opacity="0.6"/>
<rect x="111.7" y="148.7" width="1.0" height="1.7" fill="#8c8c8c" opacity="0.6"/>
<rect x="111.4" y="152.8" width="1.0" height="1.7" fill="#8c8c8c" opacity="0.6"/>
<rect x="111.1" y="156.9" width="1.0" height="1.7" fill="#8c8c8c" opacity="0.6"/>
<rect x="110.7" y="161.0" width="1.0" height="1.7" fill="#8c8c8c" opacity="0.6"/>
<rect x="110.4" y="165.1" width="1.0" height="1.7" fill="#8c8c8c" opacity="0.6"/>
<rect x="110.1" y="169.2" width="1.0" height="1.7" fill="#8c8c8c" opacity="0.6"/>
<rect x="109.8" y="173.3" width="1.0" height="1.7" fill="#8c8c8c" opacity="0.6"/>
<rect x="109.5" y="177.4" width="1.0" height="1.7" fill="#8c8c8c" opacity="0.6"/>
<rect x="109.1" y="181.5" width="1.0" height="1.7" fill="#8c8c8c" opacity="0.6"/>
<rect x="108.8" y="185.6" width="1.0" height="1.7" fill="#8c8c8c" opacity="0.6"/>
<rect x="108.5" y="189.7" width="1.0" height="1.7" fill="#8c8c8c" opacity="0.6"/>
<rect x="108.2" y="193.8" width="1.0" height="1.7" fill="#8c8c8c" opacity="0.6"/>
<rect x="107.8" y="197.9" width="1.0" height="1.7" fill="#8c8c8c" opacity="0.6"/>
<rect x="126.2" y="34.0" width="1.0" height="1.7" fill="#8c8c8c" opacity="0.45"/>
<rect x="126.6" y="38.1" width="1.0" height="1.7" fill="#8c8c8c" opacity="0.45"/>
<rect x="126.9" y="42.2" width="1.0" height="1.7" fill="#8c8c8c" opacity="0.45"/>
<rect x="127.2" y="46.3" width="1.0" height="1.7" fill="#8c8c8c" opacity="0.45"/>
<rect x="127.5" y="50.4" width="1.0" height="1.7" fill="#8c8c8c" opacity="0.45"/>
<rect x="127.8" y="54.5" width="1.0" height="1.7" fill="#8c8c8c" opacity="0.45"/>
<rect x="128.1" y="58.6" width="1.0" height="1.7" fill="#8c8c8c" opacity="0.45"/>
<rect x="128.4" y="62.7" width="1.0" height="1.7" fill="#8c8c8c" opacity="0.45"/>
<rect x="128.8" y="66.8" width="1.0" height="1.7" fill="#8c8c8c" opacity="0.45"/>
<rect x="129.1" y="70.9" width="1.0" height="1.7" fill="#8c8c8c" opacity="0.45"/>
<rect x="129.4" y="75.0" width="1.0" height="1.7" fill="#8c8c8c" opacity="0.45"/>
<rect x="129.7" y="79.1" width="1.0" height="1.7" fill="#8c8c8c" opacity="0.45"/>
<rect x="130.0" y="83.2" width="1.0" height="1.7" fill="#8c8c8c" opacity="0.45"/>
<rect x="130.3" y="87.3" width="1.0" height="1.7" fill="#8c8c8c" opacity="0.45"/>
<rect x="130.6" y="91.4" width="1.0" height="1.7" fill="#8c8c8c" opacity="0.45"/>
<rect x="130.9" y="95.5" width="1.0" height="1.7" fill="#8c8c8c" opacity="0.45"/>
<rect x="131.3" y="99.6" width="1.0" height="1.7" fill="#8c8c8c" opacity="0.45"/>
<rect x="131.6" y="103.7" width="1.0" height="1.7" fill="#8c8c8c" opacity="0.45"/>
<rect x="131.9" y="107.8" width="1.0" height="1.7" fill="#8c8c8c" opacity="0.45"/>
<rect x="132.2" y="111.9" width="1.0" height="1.7" fill="#8c8c8c" opacity="0.45"/>
<rect x="143.5" y="34.0" width="1.0" height="1.7" fill="#8c8c8c" opacity="0.45"/>
<rect x="143.1" y="38.1" width="1.0" height="1.7" fill="#8c8c8c" opacity="0.45"/>
<rect x="142.8" y="42.2" width="1.0" height="1.7" fill="#8c8c8c" opacity="0.45"/>
<rect x="142.5" y="46.3" width="1.0" height="1.7" fill="#8c8c8c" opacity="0.45"/>
<rect x="142.2" y="50.4" width="1.0" height="1.7" fill="#8c8c8c" opacity="0.45"/>
<rect x="141.9" y="54.5" width="1.0" height="1.7" fill="#8c8c8c" opacity="0.45"/>
<rect x="141.6" y="58.6" width="1.0" height="1.7" fill="#8c8c8c" opacity="0.45"/>
<rect x="141.3" y="62.7" width="1.0" height="1.7" fill="#8c8c8c" opacity="0.45"/>
<rect x="140.9" y="66.8" width="1.0" height="1.7" fill="#8c8c8c" opacity="0.45"/>
<rect x="140.6" y="70.9" width="1.0" height="1.7" fill="#8c8c8c" opacity="0.45"/>
<rect x="140.3" y="75.0" width="1.0" height="1.7" fill="#8c8c8c" opacity="0.45"/>
<rect x="140.0" y="79.1" width="1.0" height="1.7" fill="#8c8c8c" opacity="0.45"/>
<rect x="139.7" y="83.2" width="1.0" height="1.7" fill="#8c8c8c" opacity="0.45"/>
<rect x="139.4" y="87.3" width="1.0" height="1.7" fill="#8c8c8c" opacity="0.45"/>
<rect x="139.1" y="91.4" width="1.0" height="1.7" fill="#8c8c8c" opacity="0.45"/>
<rect x="138.8" y="95.5" width="1.0" height="1.7" fill="#8c8c8c" opacity="0.45"/>
<rect x="138.4" y="99.6" width="1.0" height="1.7" fill="#8c8c8c" opacity="0.45"/>
<rect x="138.1" y="103.7" width="1.0" height="1.7" fill="#8c8c8c" opacity="0.45"/>
<rect x="137.8" y="107.8" width="1.0" height="1.7" fill="#8c8c8c" opacity="0.45"/>
<rect x="137.5" y="111.9" width="1.0" height="1.7" fill="#8c8c8c" opacity="0.45"/>
<rect x="126.2" y="120.0" width="1.0" height="1.7" fill="#8c8c8c" opacity="0.45"/>
<rect x="126.6" y="124.1" width="1.0" height="1.7" fill="#8c8c8c" opacity="0.45"/>
<rect x="126.9" y="128.2" width="1.0" height="1.7" fill="#8c8c8c" opacity="0.45"/>
<rect x="127.2" y="132.3" width="1.0" height="1.7" fill="#8c8c8c" opacity="0.45"/>
<rect x="127.5" y="136.4" width="1.0" height="1.7" fill="#8c8c8c" opacity="0.45"/>
<rect x="127.8" y="140.5" width="1.0" height="1.7" fill="#8c8c8c" opacity="0.45"/>
<rect x="128.1" y="144.6" width="1.0" height="1.7" fill="#8c8c8c" opacity="0.45"/>
<rect x="128.4" y="148.7" width="1.0" height="1.7" fill="#8c8c8c" opacity="0.45"/>
<rect x="128.7" y="152.8" width="1.0" height="1.7" fill="#8c8c8c" opacity="0.45"/>
<rect x="129.0" y="156.9" width="1.0" height="1.7" fill="#8c8c8c" opacity="0.45"/>
<rect x="129.3" y="161.0" width="1.0" height="1.7" fill="#8c8c8c" opacity="0.45"/>
<rect x="129.6" y="165.1" width="1.0" height="1.7" fill="#8c8c8c" opacity="0.45"/>
<rect x="130.0" y="169.2" width="1.0" height="1.7" fill="#8c8c8c" opacity="0.45"/>
<rect x="130.3" y="173.3" width="1.0" height="1.7" fill="#8c8c8c" opacity="0.45"/>
<rect x="130.6" y="177.4" width="1.0" height="1.7" fill="#8c8c8c" opacity="0.45"/>
<rect x="130.9" y="181.5" width="1.0" height="1.7" fill="#8c8c8c" opacity="0.45"/>
<rect x="131.2" y="185.6" width="1.0" height="1.7" fill="#8c8c8c" opacity="0.45"/>
<rect x="131.5" y="189.7" width="1.0" height="1.7" fill="#8c8c8c" opacity="0.45"/>
<rect x="131.8" y="193.8" width="1.0" height="1.7" fill="#8c8c8c" opacity="0.45"/>
<rect x="132.1" y="197.9" width="1.0" height="1.7" fill="#8c8c8c" opacity="0.45"/>
<rect x="143.5" y="120.0" width="1.0" height="1.7" fill="#8c8c8c" opacity="0.45"/>
<rect x="143.1" y="124.1" width="1.0" height="1.7" fill="#8c8c8c" opacity="0.45"/>
<rect x="142.8" y="128.2" width="1.0" height="1.7" fill="#8c8c8c" opacity="0.45"/>
<rect x="142.5" y="132.3" width="1.0" height="1.7" fill="#8c8c8c" opacity="0.45"/>
<rect x="142.2" y="136.4" width="1.0" height="1.7" fill="#8c8c8c" opacity="0.45"/>
<rect x="141.9" y="140.5" width="1.0" height="1.7" fill="#8c8c8c" opacity="0.45"/>
<rect x="141.6" y="144.6" width="1.0" height="1.7" fill="#8c8c8c" opacity="0.45"/>
<rect x="141.3" y="148.7" width="1.0" height="1.7" fill="#8c8c8c" opacity="0.45"/>
<rect x="141.0" y="152.8" width="1.0" height="1.7" fill="#8c8c8c" opacity="0.45"/>
<rect x="140.7" y="156.9" width="1.0" height="1.7" fill="#8c8c8c" opacity="0.45"/>
<rect x="140.4" y="161.0" width="1.0" height="1.7" fill="#8c8c8c" opacity="0.45"/>
<rect x="140.1" y="165.1" width="1.0" height="1.7" fill="#8c8c8c" opacity="0.45"/>
<rect x="139.7" y="169.2" width="1.0" height="1.7" fill="#8c8c8c" opacity="0.45"/>
<rect x="139.4" y="173.3" width="1.0" height="1.7" fill="#8c8c8c" opacity="0.45"/>
<rect x="139.1" y="177.4" width="1.0" height="1.7" fill="#8c8c8c" opacity="0.45"/>
<rect x="138.8" y="181.5" width="1.0" height="1.7" fill="#8c8c8c" opacity="0.45"/>
<rect x="138.5" y="185.6" width="1.0" height="1.7" fill="#8c8c8c" opacity="0.45"/>
<rect x="138.2" y="189.7" width="1.0" height="1.7" fill="#8c8c8c" opacity="0.45"/>
<rect x="137.9" y="193.8" width="1.0" height="1.7" fill="#8c8c8c" opacity="0.45"/>
<rect x="137.6" y="197.9" width="1.0" height="1.7" fill="#8c8c8c" opacity="0.45"/>
<rect x="62.40" y="31.4" width="22.30" height="179.00" fill="none" stroke="#7d7d7d" stroke-width="0.8"/>
<line x1="62.40" y1="117.40" x2="84.70" y2="117.40" stroke="#8a8a8a" stroke-width="0.9" />
<line x1="62.40" y1="203.90" x2="84.70" y2="203.90" stroke="#7d7d7d" stroke-width="0.7" />
<rect x="94.40" y="31.4" width="22.30" height="179.00" fill="none" stroke="#7d7d7d" stroke-width="0.8"/>
<line x1="94.40" y1="117.40" x2="116.70" y2="117.40" stroke="#8a8a8a" stroke-width="0.9" />
<line x1="94.40" y1="203.90" x2="116.70" y2="203.90" stroke="#7d7d7d" stroke-width="0.7" />
<rect x="124.40" y="31.4" width="21.80" height="179.00" fill="none" stroke="#7d7d7d" stroke-width="0.8"/>
<line x1="124.40" y1="117.40" x2="146.20" y2="117.40" stroke="#8a8a8a" stroke-width="0.9" />
<line x1="124.40" y1="203.90" x2="146.20" y2="203.90" stroke="#7d7d7d" stroke-width="0.7" />
<rect x="62.80" y="204.30" width="21.50" height="5.80" fill="url(#cbr)" />
<text x="64.10" y="209.50" font-size="5.4" fill="#333333" stroke="#333333" stroke-width="0.05">0</text>
<text x="83.40" y="209.50" font-size="5.4" fill="#ffffff" stroke="#ffffff" stroke-width="0.05" text-anchor="end">15</text>
<rect x="94.80" y="204.30" width="21.50" height="5.80" fill="url(#cbo)" />
<text x="96.10" y="209.50" font-size="5.4" fill="#333333" stroke="#333333" stroke-width="0.05">0</text>
<text x="115.40" y="209.50" font-size="5.4" fill="#ffffff" stroke="#ffffff" stroke-width="0.05" text-anchor="end">15</text>
<rect x="124.80" y="204.30" width="21.00" height="5.80" fill="url(#cbp)" />
<text x="126.10" y="209.50" font-size="5.4" fill="#333333" stroke="#333333" stroke-width="0.05">0</text>
<text x="144.90" y="209.50" font-size="5.4" fill="#ffffff" stroke="#ffffff" stroke-width="0.05" text-anchor="end">15</text>
<line x1="62.80" y1="212.60" x2="84.50" y2="212.60" stroke="#555555" stroke-width="0.8" />
<line x1="63.20" y1="212.40" x2="63.20" y2="214.80" stroke="#555555" stroke-width="0.8" />
<line x1="73.60" y1="212.40" x2="73.60" y2="214.80" stroke="#555555" stroke-width="0.8" />
<line x1="84.10" y1="212.40" x2="84.10" y2="214.80" stroke="#555555" stroke-width="0.8" />
<text x="57.90" y="220.80" font-size="5.6" stroke="#231f20" stroke-width="0.14" textLength="10.90" lengthAdjust="spacingAndGlyphs">-1kb</text>
<text x="80.00" y="220.80" font-size="5.6" stroke="#231f20" stroke-width="0.14" textLength="8.70" lengthAdjust="spacingAndGlyphs">1kb</text>
<text x="61.80" y="28.00" font-size="5.6" stroke="#231f20" stroke-width="0.14" textLength="21.80" lengthAdjust="spacingAndGlyphs">PML/RARα</text>
<text x="98.20" y="28.00" font-size="5.6" stroke="#231f20" stroke-width="0.14" textLength="18.30" lengthAdjust="spacingAndGlyphs">HDAC1</text>
<text x="127.60" y="28.00" font-size="5.6" stroke="#231f20" stroke-width="0.14" textLength="12.60" lengthAdjust="spacingAndGlyphs">P300</text>
<text x="58.20" y="67.70" font-size="6.1" fill="#3c3c9c" stroke="#3c3c9c" stroke-width="0.06" text-anchor="end" textLength="26.20" lengthAdjust="spacingAndGlyphs">PML/RARα</text>
<text x="58.20" y="73.90" font-size="6.1" fill="#3c3c9c" stroke="#3c3c9c" stroke-width="0.06" text-anchor="end" textLength="24.00" lengthAdjust="spacingAndGlyphs">repressed</text>
<text x="58.20" y="80.20" font-size="6.1" fill="#3c3c9c" stroke="#3c3c9c" stroke-width="0.06" text-anchor="end" textLength="17.00" lengthAdjust="spacingAndGlyphs">targets</text>
<text x="58.20" y="149.90" font-size="6.1" fill="#d4304a" stroke="#d4304a" stroke-width="0.06" text-anchor="end" textLength="26.20" lengthAdjust="spacingAndGlyphs">PML/RARα</text>
<text x="58.20" y="156.10" font-size="6.1" fill="#d4304a" stroke="#d4304a" stroke-width="0.06" text-anchor="end" textLength="22.20" lengthAdjust="spacingAndGlyphs">activated</text>
<text x="58.20" y="162.40" font-size="6.1" fill="#d4304a" stroke="#d4304a" stroke-width="0.06" text-anchor="end" textLength="17.00" lengthAdjust="spacingAndGlyphs">targets</text>
<path d="M223.80,78.10 C224.70,77.93 227.12,77.52 229.20,77.10 C231.28,76.68 234.32,76.40 236.30,75.60 C238.28,74.80 239.52,73.83 241.10,72.30 C242.68,70.77 244.52,68.58 245.80,66.40 C247.08,64.22 248.00,61.48 248.80,59.20 C249.60,56.92 250.10,54.58 250.60,52.70 C251.10,50.82 251.43,48.95 251.80,47.90 C252.17,46.85 252.43,46.40 252.80,46.40 C253.17,46.40 253.57,46.75 254.00,47.90 C254.43,49.05 254.87,51.12 255.40,53.30 C255.93,55.48 256.40,58.62 257.20,61.00 C258.00,63.38 258.92,65.72 260.20,67.60 C261.48,69.48 263.32,71.07 264.90,72.30 C266.48,73.53 267.90,74.32 269.70,74.97 C271.50,75.62 273.72,75.75 275.70,76.20 C277.68,76.66 280.62,77.45 281.60,77.70" fill="none" stroke="#e9a23b" stroke-width="1.25"/>
<path d="M223.80,82.80 C224.70,82.75 227.52,82.70 229.20,82.50 C230.88,82.30 232.12,81.90 233.90,81.60 C235.68,81.30 238.10,81.45 239.90,80.70 C241.70,79.95 243.42,78.68 244.70,77.10 C245.98,75.52 246.72,73.38 247.60,71.20 C248.48,69.02 249.30,66.10 250.00,64.00 C250.70,61.90 251.33,59.70 251.80,58.60 C252.27,57.50 252.43,57.40 252.80,57.40 C253.17,57.40 253.57,57.50 254.00,58.60 C254.43,59.70 254.87,61.90 255.40,64.00 C255.93,66.10 256.40,69.02 257.20,71.20 C258.00,73.38 258.92,75.52 260.20,77.10 C261.48,78.68 262.92,79.95 264.90,80.70 C266.88,81.45 269.32,81.25 272.10,81.60 C274.88,81.95 280.02,82.60 281.60,82.80" fill="none" stroke="#4b4bab" stroke-width="1.25"/>
<line x1="218.60" y1="56.50" x2="283.50" y2="56.50" stroke="#231f20" stroke-width="0.9" stroke-dasharray="1.8 1.0"/>
<rect x="221.50" y="33.50" width="62.00" height="56.00" fill="none" stroke="#231f20" stroke-width="1.05"/>
<line x1="218.70" y1="88.10" x2="221.50" y2="88.10" stroke="#231f20" stroke-width="0.9" />
<text x="215.60" y="89.90" font-size="5.0" fill="#333333" stroke="#333333" stroke-width="0.09" text-anchor="end">0</text>
<line x1="218.70" y1="77.60" x2="221.50" y2="77.60" stroke="#231f20" stroke-width="0.9" />
<text x="215.60" y="79.40" font-size="5.0" fill="#333333" stroke="#333333" stroke-width="0.09" text-anchor="end">2</text>
<line x1="218.70" y1="67.10" x2="221.50" y2="67.10" stroke="#231f20" stroke-width="0.9" />
<text x="215.60" y="68.90" font-size="5.0" fill="#333333" stroke="#333333" stroke-width="0.09" text-anchor="end">4</text>
<line x1="218.70" y1="56.60" x2="221.50" y2="56.60" stroke="#231f20" stroke-width="0.9" />
<text x="215.60" y="58.40" font-size="5.0" fill="#333333" stroke="#333333" stroke-width="0.09" text-anchor="end">6</text>
<line x1="218.70" y1="46.10" x2="221.50" y2="46.10" stroke="#231f20" stroke-width="0.9" />
<text x="215.60" y="47.90" font-size="5.0" fill="#333333" stroke="#333333" stroke-width="0.09" text-anchor="end">8</text>
<line x1="218.70" y1="35.60" x2="221.50" y2="35.60" stroke="#231f20" stroke-width="0.9" />
<text x="215.60" y="37.40" font-size="5.0" fill="#333333" stroke="#333333" stroke-width="0.09" text-anchor="end">10</text>
<line x1="223.80" y1="89.50" x2="223.80" y2="92.10" stroke="#231f20" stroke-width="0.9" />
<line x1="238.30" y1="89.50" x2="238.30" y2="92.10" stroke="#231f20" stroke-width="0.9" />
<line x1="253.00" y1="89.50" x2="253.00" y2="92.10" stroke="#231f20" stroke-width="0.9" />
<line x1="267.40" y1="89.50" x2="267.40" y2="92.10" stroke="#231f20" stroke-width="0.9" />
<line x1="281.70" y1="89.50" x2="281.70" y2="92.10" stroke="#231f20" stroke-width="0.9" />
<text x="216.80" y="101.20" font-size="5.0" fill="#333333" stroke="#333333" stroke-width="0.09" textLength="14.20" lengthAdjust="spacingAndGlyphs">–1000</text>
<text x="252.80" y="101.20" font-size="5.0" fill="#333333" stroke="#333333" stroke-width="0.09" text-anchor="middle">0</text>
<text x="270.80" y="101.20" font-size="5.0" fill="#333333" stroke="#333333" stroke-width="0.09" textLength="12.00" lengthAdjust="spacingAndGlyphs">1000</text>
<text x="284.60" y="101.20" font-size="4.3" fill="#333333" stroke="#333333" stroke-width="0.09" textLength="8.60" lengthAdjust="spacingAndGlyphs">(bp)</text>
<text x="224.30" y="39.20" font-size="5.0" fill="#e9a23b" stroke="#e9a23b" stroke-width="0.09" textLength="17.80" lengthAdjust="spacingAndGlyphs">HDAC1</text>
<text x="224.30" y="46.60" font-size="5.0" fill="#4b4bab" stroke="#4b4bab" stroke-width="0.09" textLength="12.00" lengthAdjust="spacingAndGlyphs">P300</text>
<text transform="translate(203.50,61.80) rotate(-90)" font-size="6.6" stroke="#231f20" stroke-width="0.14" text-anchor="middle" textLength="57.80" lengthAdjust="spacingAndGlyphs">Mean ChIP-seq signal</text>
<text x="212.10" y="112.60" font-size="7.6" stroke="#231f20" stroke-width="0.14" textLength="81.30" lengthAdjust="spacingAndGlyphs">Distance to PML/RARα binding</text>
<text x="206.30" y="121.20" font-size="7.6" stroke="#231f20" stroke-width="0.14" textLength="93.30" lengthAdjust="spacingAndGlyphs">peak summit (for repressed targets)</text>
<path d="M223.80,178.30 C224.70,178.10 227.12,177.60 229.20,177.10 C231.28,176.60 234.12,176.08 236.30,175.30 C238.48,174.52 240.62,173.78 242.30,172.40 C243.98,171.02 245.32,169.10 246.40,167.00 C247.48,164.90 248.10,162.38 248.80,159.80 C249.50,157.22 250.07,153.78 250.60,151.50 C251.13,149.22 251.60,147.13 252.00,146.10 C252.40,145.07 252.63,145.20 253.00,145.30 C253.37,145.40 253.80,145.47 254.20,146.70 C254.60,147.93 254.90,150.32 255.40,152.70 C255.90,155.08 256.40,158.22 257.20,161.00 C258.00,163.78 258.92,167.20 260.20,169.40 C261.48,171.60 262.92,173.02 264.90,174.20 C266.88,175.38 269.32,175.62 272.10,176.50 C274.88,177.38 280.02,179.00 281.60,179.50" fill="none" stroke="#e9a23b" stroke-width="1.25"/>
<path d="M223.80,184.30 C224.70,184.20 227.32,184.00 229.20,183.70 C231.08,183.40 233.12,183.00 235.10,182.50 C237.08,182.00 239.40,181.70 241.10,180.70 C242.80,179.70 244.22,178.18 245.30,176.50 C246.38,174.82 246.87,172.98 247.60,170.60 C248.33,168.22 249.10,165.18 249.70,162.20 C250.30,159.22 250.75,155.32 251.20,152.70 C251.65,150.08 252.07,147.65 252.40,146.50 C252.73,145.35 252.90,145.77 253.20,145.80 C253.50,145.83 253.83,145.35 254.20,146.70 C254.57,148.05 255.00,151.32 255.40,153.90 C255.80,156.48 256.10,159.42 256.60,162.20 C257.10,164.98 257.62,168.02 258.40,170.60 C259.18,173.18 260.02,175.82 261.30,177.70 C262.58,179.58 264.10,181.00 266.10,181.90 C268.10,182.80 270.72,182.70 273.30,183.10 C275.88,183.50 280.22,184.10 281.60,184.30" fill="none" stroke="#4b4bab" stroke-width="1.25"/>
<line x1="218.60" y1="159.30" x2="283.50" y2="159.30" stroke="#231f20" stroke-width="0.9" stroke-dasharray="1.8 1.0"/>
<rect x="221.50" y="136.50" width="62.00" height="56.00" fill="none" stroke="#231f20" stroke-width="1.05"/>
<line x1="218.70" y1="190.90" x2="221.50" y2="190.90" stroke="#231f20" stroke-width="0.9" />
<text x="215.60" y="192.70" font-size="5.0" fill="#333333" stroke="#333333" stroke-width="0.09" text-anchor="end">0</text>
<line x1="218.70" y1="180.40" x2="221.50" y2="180.40" stroke="#231f20" stroke-width="0.9" />
<text x="215.60" y="182.20" font-size="5.0" fill="#333333" stroke="#333333" stroke-width="0.09" text-anchor="end">2</text>
<line x1="218.70" y1="169.90" x2="221.50" y2="169.90" stroke="#231f20" stroke-width="0.9" />
<text x="215.60" y="171.70" font-size="5.0" fill="#333333" stroke="#333333" stroke-width="0.09" text-anchor="end">4</text>
<line x1="218.70" y1="159.40" x2="221.50" y2="159.40" stroke="#231f20" stroke-width="0.9" />
<text x="215.60" y="161.20" font-size="5.0" fill="#333333" stroke="#333333" stroke-width="0.09" text-anchor="end">6</text>
<line x1="218.70" y1="148.90" x2="221.50" y2="148.90" stroke="#231f20" stroke-width="0.9" />
<text x="215.60" y="150.70" font-size="5.0" fill="#333333" stroke="#333333" stroke-width="0.09" text-anchor="end">8</text>
<line x1="218.70" y1="138.40" x2="221.50" y2="138.40" stroke="#231f20" stroke-width="0.9" />
<text x="215.60" y="140.20" font-size="5.0" fill="#333333" stroke="#333333" stroke-width="0.09" text-anchor="end">10</text>
<line x1="223.80" y1="192.50" x2="223.80" y2="195.10" stroke="#231f20" stroke-width="0.9" />
<line x1="238.30" y1="192.50" x2="238.30" y2="195.10" stroke="#231f20" stroke-width="0.9" />
<line x1="253.00" y1="192.50" x2="253.00" y2="195.10" stroke="#231f20" stroke-width="0.9" />
<line x1="267.40" y1="192.50" x2="267.40" y2="195.10" stroke="#231f20" stroke-width="0.9" />
<line x1="281.70" y1="192.50" x2="281.70" y2="195.10" stroke="#231f20" stroke-width="0.9" />
<text x="216.80" y="204.00" font-size="5.0" fill="#333333" stroke="#333333" stroke-width="0.09" textLength="14.20" lengthAdjust="spacingAndGlyphs">–1000</text>
<text x="252.80" y="204.00" font-size="5.0" fill="#333333" stroke="#333333" stroke-width="0.09" text-anchor="middle">0</text>
<text x="270.80" y="204.00" font-size="5.0" fill="#333333" stroke="#333333" stroke-width="0.09" textLength="12.00" lengthAdjust="spacingAndGlyphs">1000</text>
<text x="284.60" y="204.00" font-size="4.3" fill="#333333" stroke="#333333" stroke-width="0.09" textLength="8.60" lengthAdjust="spacingAndGlyphs">(bp)</text>
<text x="224.30" y="142.00" font-size="5.0" fill="#e9a23b" stroke="#e9a23b" stroke-width="0.09" textLength="17.80" lengthAdjust="spacingAndGlyphs">HDAC1</text>
<text x="224.30" y="149.40" font-size="5.0" fill="#4b4bab" stroke="#4b4bab" stroke-width="0.09" textLength="12.00" lengthAdjust="spacingAndGlyphs">P300</text>
<text transform="translate(203.50,164.60) rotate(-90)" font-size="6.6" stroke="#231f20" stroke-width="0.14" text-anchor="middle" textLength="57.80" lengthAdjust="spacingAndGlyphs">Mean ChIP-seq signal</text>
<text x="212.10" y="215.40" font-size="7.6" stroke="#231f20" stroke-width="0.14" textLength="81.30" lengthAdjust="spacingAndGlyphs">Distance to PML/RARα binding</text>
<text x="207.10" y="224.00" font-size="7.6" stroke="#231f20" stroke-width="0.14" textLength="91.70" lengthAdjust="spacingAndGlyphs">peak summit (for activated targets)</text>
<text x="338.10" y="27.80" font-size="5.6" stroke="#231f20" stroke-width="0.14" textLength="67.50" lengthAdjust="spacingAndGlyphs">chr1:92,453,315-92,500,171</text>
<path d="M336.6,46.4 L336.6,46.1 L337.2,45.8 L337.8,46.0 L338.4,46.2 L339.0,46.0 L339.6,46.3 L340.2,46.3 L340.8,45.6 L341.4,45.8 L342.0,46.0 L342.6,46.1 L343.2,46.0 L343.8,46.2 L344.4,46.3 L345.0,46.1 L345.6,46.0 L346.2,46.1 L346.8,46.1 L347.4,45.8 L348.0,45.9 L348.6,46.1 L349.2,46.2 L349.8,45.9 L350.4,45.9 L351.0,45.8 L351.6,46.3 L352.2,45.8 L352.8,45.8 L353.4,46.3 L354.0,45.9 L354.6,46.3 L355.2,45.7 L355.8,45.2 L356.4,42.9 L357.0,41.9 L357.6,44.3 L358.2,45.9 L358.8,46.2 L359.4,46.2 L360.0,46.2 L360.6,45.8 L361.2,46.1 L361.8,46.2 L362.4,45.9 L363.0,46.2 L363.6,46.2 L364.2,45.9 L364.8,46.2 L365.4,46.3 L366.0,46.2 L366.6,46.1 L367.2,45.8 L367.8,46.0 L368.4,46.2 L369.0,45.8 L369.6,46.2 L370.2,45.4 L370.8,44.0 L371.4,44.2 L372.0,45.9 L372.6,46.3 L373.2,46.2 L373.8,46.2 L374.4,46.0 L375.0,46.2 L375.6,46.3 L376.2,46.0 L376.8,46.0 L377.4,45.8 L378.0,46.3 L378.6,46.1 L379.2,46.2 L379.8,46.0 L380.4,46.1 L381.0,45.8 L381.6,46.0 L382.2,46.1 L382.8,46.3 L383.4,45.9 L384.0,46.3 L384.6,46.1 L385.2,46.1 L385.8,46.3 L386.4,45.9 L387.0,45.9 L387.6,45.9 L388.2,46.1 L388.8,45.8 L389.4,46.1 L390.0,45.9 L390.6,46.0 L391.2,46.0 L391.8,46.3 L392.4,45.8 L393.0,45.9 L393.6,45.9 L394.2,46.1 L394.8,46.3 L395.4,46.3 L396.0,46.1 L396.6,46.0 L397.2,46.0 L397.8,46.0 L398.4,46.1 L399.0,46.2 L399.6,45.8 L400.2,46.1 L400.8,46.1 L401.4,46.2 L402.0,45.9 L402.6,45.9 L403.2,46.0 L403.8,46.2 L404.4,45.9 L405.0,45.9 L405.6,46.2 L406.2,45.8 L406.8,35.3 L407.4,40.9 L408.0,46.1 L408.6,45.8 L409.2,46.2 L409.8,45.5 L410.4,45.9 L411.0,46.1 L411.6,46.3 L412.2,45.8 L412.8,45.9 L413.4,46.1 L414.0,46.0 L414.6,45.9 L415.2,45.6 L415.8,45.4 L416.4,45.6 L417.0,46.1 L417.6,45.9 L418.2,46.2 L418.8,46.0 L419.4,46.0 L420.0,46.1 L420.6,45.8 L421.2,45.8 L421.8,46.2 L422.4,46.0 L423.0,46.1 L423.6,45.9 L424.2,45.8 L424.8,46.0 L425.4,45.9 L426.0,46.0 L426.6,46.2 L427.2,45.8 L427.8,46.0 L428.4,46.1 L429.0,45.9 L429.6,45.9 L430.2,44.5 L430.8,44.3 L431.4,45.5 L432.0,45.9 L432.6,46.1 L433.2,46.2 L433.8,46.0 L434.4,45.9 L435.0,45.6 L435.6,43.8 L436.2,38.3 L436.8,37.7 L437.4,42.3 L438.0,43.3 L438.6,43.6 L439.2,41.9 L439.8,36.2 L440.4,38.7 L441.0,44.9 L441.6,45.9 L442.2,45.7 L442.8,45.8 L443.4,46.1 L444.0,46.0 L444.6,45.9 L445.2,45.9 L445.8,45.4 L446.4,45.8 L447.0,46.2 L447.6,45.9 L448.2,46.1 L448.8,46.2 L449.4,45.8 L450.0,45.6 L450.6,46.2 L451.2,46.0 L451.8,46.1 L452.4,46.2 L453.0,46.2 L453.6,46.2 L454.2,46.0 L454.8,46.1 L455.4,46.0 L456.0,46.2 L456.6,46.0 L457.2,45.9 L457.8,45.9 L458.4,45.9 L459.0,45.8 L459.6,46.1 L460.2,46.2 L460.8,45.9 L461.4,46.2 L462.0,46.1 L462.6,45.6 L463.2,45.5 L463.8,46.0 L464.4,46.3 L465.0,46.0 L465.6,45.8 L466.2,46.0 L466.8,46.0 L467.4,46.2 L468.0,46.1 L468.6,46.0 L469.2,46.0 L469.8,46.2 L470.4,45.9 L471.0,45.8 L471.6,46.3 L472.2,46.1 L472.8,46.1 L473.4,46.0 L474.0,45.7 L474.6,45.9 L475.2,46.2 L475.8,45.9 L476.4,46.2 L477.0,45.8 L477.6,45.9 L478.2,45.9 L478.8,46.0 L479.4,46.0 L480.0,45.8 L480.3,46.4Z" fill="#c8102e"/>
<path d="M336.6,65.2 L336.6,64.4 L337.2,64.2 L337.8,64.7 L338.4,64.5 L339.0,64.2 L339.6,64.3 L340.2,64.6 L340.8,64.6 L341.4,64.7 L342.0,64.7 L342.6,64.4 L343.2,63.4 L343.8,64.7 L344.4,63.8 L345.0,63.8 L345.6,64.6 L346.2,64.6 L346.8,64.1 L347.4,63.5 L348.0,64.5 L348.6,64.3 L349.2,64.1 L349.8,63.9 L350.4,64.0 L351.0,63.8 L351.6,64.3 L352.2,64.0 L352.8,64.6 L353.4,64.3 L354.0,63.9 L354.6,64.3 L355.2,63.0 L355.8,60.6 L356.4,57.3 L357.0,62.2 L357.6,63.2 L358.2,63.7 L358.8,62.9 L359.4,63.7 L360.0,63.4 L360.6,62.8 L361.2,62.8 L361.8,63.6 L362.4,63.2 L363.0,62.4 L363.6,64.0 L364.2,62.5 L364.8,62.9 L365.4,64.1 L366.0,62.5 L366.6,62.6 L367.2,63.9 L367.8,63.3 L368.4,64.2 L369.0,64.0 L369.6,64.3 L370.2,63.8 L370.8,64.4 L371.4,64.4 L372.0,64.2 L372.6,64.0 L373.2,64.4 L373.8,64.0 L374.4,64.5 L375.0,64.2 L375.6,64.2 L376.2,64.1 L376.8,63.7 L377.4,63.9 L378.0,64.0 L378.6,63.8 L379.2,64.3 L379.8,63.9 L380.4,64.6 L381.0,63.7 L381.6,63.7 L382.2,64.1 L382.8,63.7 L383.4,64.2 L384.0,63.6 L384.6,64.0 L385.2,64.5 L385.8,63.9 L386.4,64.3 L387.0,64.3 L387.6,64.1 L388.2,64.3 L388.8,63.8 L389.4,63.6 L390.0,64.6 L390.6,64.1 L391.2,63.9 L391.8,64.3 L392.4,62.7 L393.0,64.2 L393.6,64.4 L394.2,64.3 L394.8,64.0 L395.4,64.3 L396.0,63.7 L396.6,64.1 L397.2,63.1 L397.8,64.0 L398.4,63.0 L399.0,63.0 L399.6,62.4 L400.2,62.8 L400.8,62.6 L401.4,63.1 L402.0,63.4 L402.6,63.6 L403.2,62.6 L403.8,62.2 L404.4,61.9 L405.0,63.1 L405.6,61.9 L406.2,63.5 L406.8,60.1 L407.4,59.3 L408.0,61.9 L408.6,62.8 L409.2,62.8 L409.8,61.7 L410.4,63.2 L411.0,61.1 L411.6,63.5 L412.2,61.2 L412.8,62.6 L413.4,62.7 L414.0,61.0 L414.6,62.9 L415.2,63.4 L415.8,63.4 L416.4,62.9 L417.0,62.4 L417.6,62.7 L418.2,60.3 L418.8,62.7 L419.4,60.7 L420.0,60.4 L420.6,58.8 L421.2,59.2 L421.8,58.9 L422.4,59.7 L423.0,56.1 L423.6,53.9 L424.2,56.7 L424.8,56.4 L425.4,59.5 L426.0,58.5 L426.6,57.2 L427.2,59.9 L427.8,59.8 L428.4,62.0 L429.0,61.5 L429.6,58.8 L430.2,56.9 L430.8,52.9 L431.4,60.9 L432.0,59.6 L432.6,58.1 L433.2,59.3 L433.8,58.7 L434.4,59.0 L435.0,56.9 L435.6,57.3 L436.2,60.6 L436.8,59.1 L437.4,62.2 L438.0,59.7 L438.6,58.0 L439.2,60.3 L439.8,55.4 L440.4,58.3 L441.0,59.2 L441.6,60.6 L442.2,60.6 L442.8,62.2 L443.4,59.3 L444.0,62.4 L444.6,63.2 L445.2,62.2 L445.8,63.1 L446.4,63.8 L447.0,64.6 L447.6,64.2 L448.2,64.5 L448.8,64.7 L449.4,64.7 L450.0,64.6 L450.6,64.2 L451.2,64.6 L451.8,64.6 L452.4,64.0 L453.0,64.0 L453.6,64.7 L454.2,64.2 L454.8,64.7 L455.4,64.7 L456.0,64.7 L456.6,64.4 L457.2,64.5 L457.8,64.2 L458.4,64.2 L459.0,64.5 L459.6,64.4 L460.2,64.7 L460.8,64.4 L461.4,64.4 L462.0,64.4 L462.6,64.4 L463.2,64.3 L463.8,64.6 L464.4,64.3 L465.0,64.3 L465.6,64.6 L466.2,64.3 L466.8,64.6 L467.4,64.6 L468.0,64.8 L468.6,64.6 L469.2,64.5 L469.8,64.7 L470.4,64.3 L471.0,64.2 L471.6,64.6 L472.2,64.3 L472.8,64.5 L473.4,64.7 L474.0,63.8 L474.6,64.4 L475.2,64.3 L475.8,64.4 L476.4,64.8 L477.0,64.6 L477.6,64.8 L478.2,64.5 L478.8,64.3 L479.4,64.5 L480.0,64.3 L480.3,65.2Z" fill="#e8a020"/>
<path d="M336.6,83.6 L336.6,83.3 L337.2,83.1 L337.8,83.3 L338.4,83.3 L339.0,83.0 L339.6,83.1 L340.2,83.3 L340.8,83.0 L341.4,83.4 L342.0,83.3 L342.6,83.0 L343.2,83.0 L343.8,82.9 L344.4,83.3 L345.0,83.2 L345.6,83.1 L346.2,83.2 L346.8,83.3 L347.4,83.0 L348.0,82.9 L348.6,83.1 L349.2,83.3 L349.8,83.2 L350.4,83.3 L351.0,83.3 L351.6,83.1 L352.2,83.3 L352.8,83.3 L353.4,83.3 L354.0,83.3 L354.6,81.9 L355.2,79.1 L355.8,71.8 L356.4,65.8 L357.0,68.6 L357.6,69.7 L358.2,79.0 L358.8,82.7 L359.4,82.6 L360.0,83.0 L360.6,82.3 L361.2,82.9 L361.8,82.4 L362.4,82.7 L363.0,82.7 L363.6,83.0 L364.2,83.1 L364.8,83.1 L365.4,82.6 L366.0,83.2 L366.6,82.8 L367.2,83.2 L367.8,83.1 L368.4,83.0 L369.0,83.3 L369.6,83.1 L370.2,83.4 L370.8,83.2 L371.4,83.1 L372.0,83.1 L372.6,83.4 L373.2,82.9 L373.8,83.3 L374.4,83.0 L375.0,83.1 L375.6,83.3 L376.2,83.3 L376.8,83.4 L377.4,83.4 L378.0,82.7 L378.6,83.0 L379.2,83.2 L379.8,83.2 L380.4,83.2 L381.0,83.0 L381.6,83.0 L382.2,83.3 L382.8,83.4 L383.4,83.2 L384.0,82.9 L384.6,83.4 L385.2,83.4 L385.8,83.2 L386.4,83.1 L387.0,83.4 L387.6,83.0 L388.2,83.2 L388.8,83.2 L389.4,83.3 L390.0,83.1 L390.6,83.1 L391.2,83.2 L391.8,83.1 L392.4,82.9 L393.0,83.3 L393.6,83.0 L394.2,83.3 L394.8,83.3 L395.4,83.2 L396.0,83.0 L396.6,83.0 L397.2,82.9 L397.8,83.2 L398.4,83.0 L399.0,83.3 L399.6,83.4 L400.2,82.9 L400.8,83.3 L401.4,82.9 L402.0,83.4 L402.6,83.2 L403.2,83.3 L403.8,83.0 L404.4,82.9 L405.0,83.2 L405.6,83.1 L406.2,82.8 L406.8,80.1 L407.4,75.5 L408.0,82.1 L408.6,82.9 L409.2,82.4 L409.8,82.1 L410.4,82.5 L411.0,82.9 L411.6,82.4 L412.2,80.9 L412.8,82.1 L413.4,82.1 L414.0,83.1 L414.6,82.0 L415.2,82.6 L415.8,82.9 L416.4,83.2 L417.0,82.2 L417.6,82.4 L418.2,82.3 L418.8,82.1 L419.4,83.1 L420.0,82.0 L420.6,82.2 L421.2,82.3 L421.8,82.5 L422.4,83.0 L423.0,81.7 L423.6,82.4 L424.2,82.6 L424.8,82.1 L425.4,82.2 L426.0,82.5 L426.6,82.1 L427.2,82.0 L427.8,82.4 L428.4,82.4 L429.0,83.1 L429.6,82.7 L430.2,82.3 L430.8,82.7 L431.4,82.5 L432.0,82.9 L432.6,82.0 L433.2,81.5 L433.8,82.6 L434.4,82.8 L435.0,82.0 L435.6,83.1 L436.2,83.1 L436.8,81.8 L437.4,79.5 L438.0,81.1 L438.6,82.3 L439.2,82.4 L439.8,82.3 L440.4,81.6 L441.0,81.9 L441.6,82.0 L442.2,82.2 L442.8,82.4 L443.4,82.7 L444.0,82.9 L444.6,82.6 L445.2,82.9 L445.8,83.2 L446.4,83.3 L447.0,83.0 L447.6,83.1 L448.2,83.3 L448.8,83.3 L449.4,83.1 L450.0,83.3 L450.6,83.3 L451.2,83.1 L451.8,83.1 L452.4,83.4 L453.0,83.1 L453.6,83.3 L454.2,83.4 L454.8,83.3 L455.4,82.7 L456.0,83.3 L456.6,83.1 L457.2,83.1 L457.8,83.2 L458.4,83.1 L459.0,83.1 L459.6,83.2 L460.2,83.2 L460.8,83.4 L461.4,83.3 L462.0,83.3 L462.6,83.3 L463.2,83.2 L463.8,83.1 L464.4,83.2 L465.0,83.1 L465.6,83.0 L466.2,83.2 L466.8,83.3 L467.4,83.2 L468.0,83.4 L468.6,83.1 L469.2,83.1 L469.8,83.1 L470.4,82.9 L471.0,83.3 L471.6,83.1 L472.2,83.0 L472.8,83.1 L473.4,83.1 L474.0,83.3 L474.6,83.4 L475.2,83.4 L475.8,83.2 L476.4,83.0 L477.0,83.0 L477.6,83.1 L478.2,83.3 L478.8,83.3 L479.4,83.1 L480.0,83.4 L480.3,83.6Z" fill="#4b1a8a"/>
<path d="M336.6,102.1 L336.6,101.6 L337.4,101.1 L338.2,101.4 L339.0,101.0 L339.8,101.4 L340.6,101.3 L341.4,101.6 L342.2,100.8 L343.0,101.4 L343.8,101.1 L344.6,101.2 L345.4,101.5 L346.2,101.6 L347.0,101.6 L347.8,100.8 L348.6,100.8 L349.4,101.1 L350.2,100.3 L351.0,101.1 L351.8,101.1 L352.6,100.9 L353.4,101.5 L354.2,101.5 L355.0,100.6 L355.8,100.1 L356.6,101.0 L357.4,100.2 L358.2,100.6 L359.0,101.2 L359.8,101.2 L360.6,101.2 L361.4,100.5 L362.2,101.2 L363.0,100.9 L363.8,101.6 L364.6,101.0 L365.4,101.7 L366.2,100.8 L367.0,101.4 L367.8,100.8 L368.6,101.4 L369.4,101.1 L370.2,101.5 L371.0,101.7 L371.8,100.8 L372.6,101.4 L373.4,101.4 L374.2,101.7 L375.0,101.5 L375.8,100.9 L376.6,101.5 L377.4,100.8 L378.2,101.0 L379.0,101.2 L379.8,100.8 L380.6,101.2 L381.4,101.3 L382.2,100.8 L383.0,101.0 L383.8,100.8 L384.6,101.5 L385.4,101.3 L386.2,101.0 L387.0,101.5 L387.8,101.6 L388.6,101.3 L389.4,101.3 L390.2,101.5 L391.0,101.3 L391.8,101.5 L392.6,101.0 L393.4,101.1 L394.2,101.1 L395.0,101.4 L395.8,101.1 L396.6,101.7 L397.4,101.4 L398.2,100.8 L399.0,101.6 L399.8,100.8 L400.6,101.6 L401.4,101.3 L402.2,100.9 L403.0,99.9 L403.8,100.9 L404.6,101.6 L405.4,100.5 L406.2,101.3 L407.0,101.2 L407.8,101.4 L408.6,101.5 L409.4,100.4 L410.2,100.8 L411.0,100.8 L411.8,100.8 L412.6,101.3 L413.4,101.4 L414.2,101.7 L415.0,100.8 L415.8,101.0 L416.6,101.2 L417.4,101.3 L418.2,101.6 L419.0,101.1 L419.8,101.3 L420.6,100.8 L421.4,101.1 L422.2,100.9 L423.0,101.3 L423.8,101.6 L424.6,101.5 L425.4,100.9 L426.2,101.6 L427.0,100.5 L427.8,101.1 L428.6,101.1 L429.4,101.3 L430.2,101.0 L431.0,101.0 L431.8,101.3 L432.6,101.3 L433.4,101.2 L434.2,101.4 L435.0,100.9 L435.8,101.5 L436.6,101.6 L437.4,101.4 L438.2,101.2 L439.0,101.2 L439.8,101.2 L440.6,101.3 L441.4,101.5 L442.2,101.7 L443.0,101.6 L443.8,101.1 L444.6,101.4 L445.4,101.2 L446.2,101.4 L447.0,100.9 L447.8,101.4 L448.6,100.8 L449.4,101.7 L450.2,100.8 L451.0,101.5 L451.8,101.6 L452.6,101.5 L453.4,100.5 L454.2,101.0 L455.0,101.0 L455.8,101.6 L456.6,100.9 L457.4,101.1 L458.2,101.2 L459.0,101.3 L459.8,101.6 L460.6,101.1 L461.4,101.6 L462.2,101.6 L463.0,101.5 L463.8,101.6 L464.6,101.3 L465.4,101.6 L466.2,100.8 L467.0,100.8 L467.8,101.4 L468.6,100.8 L469.4,100.4 L470.2,100.7 L471.0,101.6 L471.8,101.0 L472.6,101.2 L473.4,100.8 L474.2,101.3 L475.0,100.8 L475.8,101.4 L476.6,101.2 L477.4,101.0 L478.2,101.6 L479.0,101.2 L479.8,101.4 L480.3,102.1Z" fill="#231f20"/>
<text x="338.30" y="122.50" font-size="5.6" stroke="#231f20" stroke-width="0.14" textLength="70.80" lengthAdjust="spacingAndGlyphs">chr14:23,114,251-23,125,168</text>
<path d="M336.6,141.3 L336.6,141.1 L337.2,140.8 L337.8,141.0 L338.4,140.7 L339.0,140.8 L339.6,141.1 L340.2,140.3 L340.8,140.4 L341.4,140.4 L342.0,140.0 L342.6,139.9 L343.2,140.2 L343.8,139.9 L344.4,139.6 L345.0,140.2 L345.6,140.4 L346.2,140.4 L346.8,140.6 L347.4,140.7 L348.0,140.5 L348.6,140.6 L349.2,140.5 L349.8,140.5 L350.4,140.3 L351.0,140.1 L351.6,139.4 L352.2,139.2 L352.8,139.8 L353.4,140.2 L354.0,140.2 L354.6,141.0 L355.2,140.7 L355.8,140.9 L356.4,140.8 L357.0,141.0 L357.6,140.8 L358.2,141.1 L358.8,141.0 L359.4,141.0 L360.0,141.0 L360.6,141.1 L361.2,140.7 L361.8,140.8 L362.4,140.6 L363.0,140.9 L363.6,140.6 L364.2,140.6 L364.8,140.9 L365.4,140.5 L366.0,140.9 L366.6,140.4 L367.2,139.8 L367.8,140.5 L368.4,140.4 L369.0,140.7 L369.6,140.4 L370.2,140.6 L370.8,140.9 L371.4,140.8 L372.0,141.1 L372.6,140.7 L373.2,140.6 L373.8,140.9 L374.4,140.7 L375.0,140.9 L375.6,140.3 L376.2,140.8 L376.8,141.2 L377.4,140.8 L378.0,140.8 L378.6,140.9 L379.2,140.6 L379.8,141.1 L380.4,141.2 L381.0,141.1 L381.6,140.8 L382.2,140.9 L382.8,140.9 L383.4,141.1 L384.0,141.0 L384.6,140.5 L385.2,140.8 L385.8,140.7 L386.4,141.2 L387.0,141.1 L387.6,141.1 L388.2,141.0 L388.8,140.8 L389.4,140.9 L390.0,140.6 L390.6,140.9 L391.2,140.6 L391.8,140.8 L392.4,140.7 L393.0,141.0 L393.6,140.8 L394.2,141.0 L394.8,140.4 L395.4,140.7 L396.0,140.4 L396.6,140.2 L397.2,139.4 L397.8,138.6 L398.4,138.2 L399.0,137.2 L399.6,135.3 L400.2,132.6 L400.8,129.0 L401.4,126.4 L402.0,127.1 L402.6,130.2 L403.2,134.2 L403.8,137.8 L404.4,139.5 L405.0,140.1 L405.6,140.6 L406.2,140.7 L406.8,140.7 L407.4,140.8 L408.0,140.6 L408.6,140.0 L409.2,139.0 L409.8,139.5 L410.4,139.1 L411.0,138.3 L411.6,138.4 L412.2,137.5 L412.8,137.1 L413.4,136.3 L414.0,136.5 L414.6,136.9 L415.2,137.8 L415.8,139.2 L416.4,140.1 L417.0,140.6 L417.6,140.8 L418.2,140.6 L418.8,140.9 L419.4,141.0 L420.0,140.9 L420.6,141.1 L421.2,141.2 L421.8,140.6 L422.4,141.2 L423.0,141.2 L423.6,140.8 L424.2,141.2 L424.8,141.1 L425.4,140.9 L426.0,141.0 L426.6,140.7 L427.2,140.6 L427.8,141.1 L428.4,140.8 L429.0,140.7 L429.6,140.6 L430.2,141.2 L430.8,141.1 L431.4,140.7 L432.0,140.9 L432.6,140.7 L433.2,140.8 L433.8,140.7 L434.4,141.0 L435.0,141.0 L435.6,140.2 L436.2,141.1 L436.8,140.8 L437.4,140.8 L438.0,141.2 L438.6,140.8 L439.2,141.1 L439.8,140.6 L440.4,140.9 L441.0,140.7 L441.6,141.1 L442.2,140.9 L442.8,141.0 L443.4,140.8 L444.0,140.8 L444.6,141.1 L445.2,140.7 L445.8,140.8 L446.4,140.7 L447.0,140.9 L447.6,140.6 L448.2,140.6 L448.8,140.3 L449.4,141.0 L450.0,140.8 L450.6,140.8 L451.2,140.6 L451.8,140.7 L452.4,140.6 L453.0,140.7 L453.6,140.7 L454.2,141.1 L454.8,141.1 L455.4,140.7 L456.0,141.0 L456.6,140.9 L457.2,141.2 L457.8,141.1 L458.4,140.6 L459.0,140.6 L459.6,141.1 L460.2,140.9 L460.8,140.7 L461.4,140.8 L462.0,140.9 L462.6,140.9 L463.2,140.9 L463.8,141.2 L464.4,140.8 L465.0,140.7 L465.6,140.6 L466.2,140.7 L466.8,140.8 L467.4,140.8 L468.0,141.1 L468.6,140.7 L469.2,140.6 L469.8,141.0 L470.4,140.9 L471.0,140.9 L471.6,140.8 L472.2,140.7 L472.8,141.0 L473.4,140.7 L474.0,140.6 L474.6,140.7 L475.2,141.1 L475.8,140.8 L476.4,140.7 L477.0,140.8 L477.6,141.0 L478.2,140.9 L478.8,141.0 L479.4,141.0 L480.0,141.0 L480.3,141.3Z" fill="#c8102e"/>
<path d="M336.6,159.8 L336.6,154.8 L337.7,154.8 L337.7,159.2 L338.8,159.2 L338.8,158.0 L339.9,158.0 L339.9,157.4 L341.0,157.4 L341.0,156.7 L342.1,156.7 L342.1,156.4 L343.2,156.4 L343.2,157.4 L344.3,157.4 L344.3,157.1 L345.4,157.1 L345.4,154.9 L346.5,154.9 L346.5,156.3 L347.6,156.3 L347.6,158.1 L348.7,158.1 L348.7,156.2 L349.8,156.2 L349.8,155.8 L350.9,155.8 L350.9,155.7 L352.0,155.7 L352.0,156.6 L353.1,156.6 L353.1,158.2 L354.2,158.2 L354.2,158.0 L355.3,158.0 L355.3,155.7 L356.4,155.7 L356.4,158.6 L357.5,158.6 L357.5,156.7 L358.6,156.7 L358.6,158.9 L359.7,158.9 L359.7,159.0 L360.8,159.0 L360.8,157.2 L361.9,157.2 L361.9,157.6 L363.0,157.6 L363.0,155.7 L364.1,155.7 L364.1,157.7 L365.2,157.7 L365.2,158.0 L366.3,158.0 L366.3,157.0 L367.4,157.0 L367.4,156.5 L368.5,156.5 L368.5,158.7 L369.6,158.7 L369.6,157.6 L370.7,157.6 L370.7,157.3 L371.8,157.3 L371.8,154.8 L372.9,154.8 L372.9,155.2 L374.0,155.2 L374.0,151.2 L375.1,151.2 L375.1,156.2 L376.2,156.2 L376.2,157.2 L377.3,157.2 L377.3,156.4 L378.4,156.4 L378.4,155.9 L379.5,155.9 L379.5,155.2 L380.6,155.2 L380.6,151.4 L381.7,151.4 L381.7,156.4 L382.8,156.4 L382.8,153.5 L383.9,153.5 L383.9,153.8 L385.0,153.8 L385.0,155.6 L386.1,155.6 L386.1,152.9 L387.2,152.9 L387.2,155.9 L388.3,155.9 L388.3,154.8 L389.4,154.8 L389.4,153.9 L390.5,153.9 L390.5,154.9 L391.6,154.9 L391.6,158.5 L392.7,158.5 L392.7,154.7 L393.8,154.7 L393.8,157.5 L394.9,157.5 L394.9,155.8 L396.0,155.8 L396.0,158.3 L397.1,158.3 L397.1,154.0 L398.2,154.0 L398.2,157.2 L399.3,157.2 L399.3,153.3 L400.4,153.3 L400.4,154.9 L401.5,154.9 L401.5,155.6 L402.6,155.6 L402.6,152.7 L403.7,152.7 L403.7,153.0 L404.8,153.0 L404.8,158.4 L405.9,158.4 L405.9,149.3 L407.0,149.3 L407.0,157.4 L408.1,157.4 L408.1,156.4 L409.2,156.4 L409.2,154.4 L410.3,154.4 L410.3,156.9 L411.4,156.9 L411.4,154.6 L412.5,154.6 L412.5,152.5 L413.6,152.5 L413.6,154.3 L414.7,154.3 L414.7,154.9 L415.8,154.9 L415.8,151.4 L416.9,151.4 L416.9,155.5 L418.0,155.5 L418.0,155.9 L419.1,155.9 L419.1,158.0 L420.2,158.0 L420.2,157.8 L421.3,157.8 L421.3,157.9 L422.4,157.9 L422.4,159.2 L423.5,159.2 L423.5,158.4 L424.6,158.4 L424.6,159.4 L425.7,159.4 L425.7,159.6 L426.8,159.6 L426.8,159.1 L427.9,159.1 L427.9,159.5 L429.0,159.5 L429.0,159.4 L430.1,159.4 L430.1,159.3 L431.2,159.3 L431.2,159.2 L432.3,159.2 L432.3,159.2 L433.4,159.2 L433.4,159.1 L434.5,159.1 L434.5,159.4 L435.6,159.4 L435.6,159.2 L436.7,159.2 L436.7,159.3 L437.8,159.3 L437.8,159.4 L438.9,159.4 L438.9,159.4 L440.0,159.4 L440.0,159.4 L441.1,159.4 L441.1,159.6 L442.2,159.6 L442.2,159.2 L443.3,159.2 L443.3,159.4 L444.4,159.4 L444.4,159.7 L445.5,159.7 L445.5,159.3 L446.6,159.3 L446.6,158.8 L447.7,158.8 L447.7,159.5 L448.8,159.5 L448.8,159.4 L449.9,159.4 L449.9,159.1 L451.0,159.1 L451.0,159.3 L452.1,159.3 L452.1,159.5 L453.2,159.5 L453.2,159.1 L454.3,159.1 L454.3,159.1 L455.4,159.1 L455.4,159.3 L456.5,159.3 L456.5,159.5 L457.6,159.5 L457.6,159.6 L458.7,159.6 L458.7,159.3 L459.8,159.3 L459.8,159.3 L460.9,159.3 L460.9,159.4 L462.0,159.4 L462.0,159.6 L463.1,159.6 L463.1,159.4 L464.2,159.4 L464.2,159.2 L465.3,159.2 L465.3,159.4 L466.4,159.4 L466.4,159.1 L467.5,159.1 L467.5,159.7 L468.6,159.7 L468.6,159.4 L469.7,159.4 L469.7,159.6 L470.8,159.6 L470.8,159.3 L471.9,159.3 L471.9,159.7 L473.0,159.7 L473.0,158.8 L474.1,158.8 L474.1,159.4 L475.2,159.4 L475.2,159.1 L476.3,159.1 L476.3,159.5 L477.4,159.5 L477.4,159.2 L478.5,159.2 L478.5,159.4 L479.6,159.4 L479.6,159.7 L480.7,159.7 L480.3,159.8Z" fill="#e8a020"/>
<path d="M336.6,178.2 L336.6,177.6 L337.2,177.6 L337.8,177.7 L338.4,177.8 L339.0,177.9 L339.6,177.9 L340.2,178.0 L340.8,177.7 L341.4,177.8 L342.0,177.6 L342.6,177.6 L343.2,177.7 L343.8,177.6 L344.4,177.7 L345.0,177.7 L345.6,177.9 L346.2,177.8 L346.8,177.7 L347.4,177.5 L348.0,177.4 L348.6,176.9 L349.2,177.2 L349.8,177.4 L350.4,177.4 L351.0,177.8 L351.6,177.9 L352.2,177.6 L352.8,177.9 L353.4,177.6 L354.0,177.6 L354.6,177.8 L355.2,177.7 L355.8,177.9 L356.4,178.0 L357.0,178.0 L357.6,177.7 L358.2,177.6 L358.8,177.8 L359.4,177.7 L360.0,177.6 L360.6,177.7 L361.2,177.8 L361.8,177.6 L362.4,177.9 L363.0,177.8 L363.6,177.8 L364.2,177.9 L364.8,177.6 L365.4,177.9 L366.0,177.6 L366.6,177.7 L367.2,177.7 L367.8,177.7 L368.4,177.9 L369.0,177.6 L369.6,177.5 L370.2,177.5 L370.8,177.3 L371.4,177.1 L372.0,176.8 L372.6,177.6 L373.2,177.9 L373.8,177.8 L374.4,177.3 L375.0,177.8 L375.6,178.0 L376.2,177.9 L376.8,177.9 L377.4,177.8 L378.0,177.7 L378.6,177.7 L379.2,177.8 L379.8,177.9 L380.4,178.0 L381.0,177.6 L381.6,177.6 L382.2,177.7 L382.8,177.9 L383.4,177.9 L384.0,177.9 L384.6,177.8 L385.2,177.8 L385.8,177.9 L386.4,178.0 L387.0,177.8 L387.6,177.6 L388.2,177.4 L388.8,177.3 L389.4,177.1 L390.0,177.3 L390.6,177.4 L391.2,178.0 L391.8,177.9 L392.4,177.9 L393.0,178.0 L393.6,177.8 L394.2,177.7 L394.8,177.6 L395.4,177.9 L396.0,177.6 L396.6,178.0 L397.2,178.0 L397.8,177.8 L398.4,177.7 L399.0,177.6 L399.6,177.7 L400.2,177.9 L400.8,177.6 L401.4,177.6 L402.0,177.4 L402.6,177.1 L403.2,177.3 L403.8,177.2 L404.4,177.6 L405.0,177.5 L405.6,177.9 L406.2,177.6 L406.8,178.0 L407.4,177.7 L408.0,177.8 L408.6,177.6 L409.2,177.9 L409.8,177.6 L410.4,177.8 L411.0,177.8 L411.6,177.7 L412.2,177.4 L412.8,176.9 L413.4,176.5 L414.0,176.0 L414.6,175.5 L415.2,175.8 L415.8,176.4 L416.4,176.9 L417.0,177.7 L417.6,177.5 L418.2,177.6 L418.8,177.6 L419.4,176.7 L420.0,176.8 L420.6,177.1 L421.2,177.7 L421.8,177.9 L422.4,177.9 L423.0,177.7 L423.6,177.8 L424.2,177.9 L424.8,177.9 L425.4,177.8 L426.0,177.6 L426.6,177.1 L427.2,177.6 L427.8,177.6 L428.4,177.7 L429.0,177.7 L429.6,177.6 L430.2,178.0 L430.8,178.0 L431.4,177.6 L432.0,177.6 L432.6,177.8 L433.2,177.7 L433.8,177.7 L434.4,177.9 L435.0,177.3 L435.6,177.6 L436.2,177.7 L436.8,177.7 L437.4,177.1 L438.0,177.6 L438.6,177.7 L439.2,177.6 L439.8,178.0 L440.4,177.9 L441.0,177.8 L441.6,177.8 L442.2,178.0 L442.8,177.7 L443.4,177.6 L444.0,177.6 L444.6,178.0 L445.2,177.7 L445.8,177.7 L446.4,177.8 L447.0,177.8 L447.6,177.7 L448.2,177.6 L448.8,177.9 L449.4,177.6 L450.0,177.6 L450.6,178.0 L451.2,177.8 L451.8,177.8 L452.4,177.7 L453.0,177.9 L453.6,177.6 L454.2,177.9 L454.8,177.7 L455.4,177.7 L456.0,177.6 L456.6,177.9 L457.2,177.7 L457.8,177.5 L458.4,177.6 L459.0,177.7 L459.6,177.6 L460.2,178.0 L460.8,177.8 L461.4,177.8 L462.0,177.8 L462.6,177.9 L463.2,177.1 L463.8,177.6 L464.4,177.7 L465.0,177.7 L465.6,177.7 L466.2,177.6 L466.8,177.6 L467.4,177.9 L468.0,177.8 L468.6,177.7 L469.2,177.7 L469.8,177.8 L470.4,177.7 L471.0,177.9 L471.6,178.0 L472.2,177.9 L472.8,177.8 L473.4,177.6 L474.0,177.7 L474.6,177.9 L475.2,177.7 L475.8,177.5 L476.4,177.6 L477.0,178.0 L477.6,177.7 L478.2,177.6 L478.8,177.7 L479.4,177.5 L480.0,177.7 L480.3,178.2Z" fill="#4b1a8a"/>
<path d="M336.6,196.7 L336.6,195.6 L337.4,196.1 L338.2,196.0 L339.0,196.0 L339.8,195.8 L340.6,195.1 L341.4,195.4 L342.2,195.0 L343.0,195.6 L343.8,195.5 L344.6,196.0 L345.4,196.2 L346.2,195.5 L347.0,196.0 L347.8,195.8 L348.6,195.4 L349.4,196.0 L350.2,196.2 L351.0,195.6 L351.8,195.4 L352.6,195.2 L353.4,195.1 L354.2,195.7 L355.0,195.7 L355.8,195.6 L356.6,195.3 L357.4,195.8 L358.2,195.6 L359.0,196.1 L359.8,196.0 L360.6,195.7 L361.4,195.5 L362.2,195.8 L363.0,196.0 L363.8,195.6 L364.6,195.2 L365.4,195.0 L366.2,195.5 L367.0,195.6 L367.8,196.1 L368.6,195.5 L369.4,195.8 L370.2,195.9 L371.0,196.1 L371.8,196.0 L372.6,195.4 L373.4,195.0 L374.2,196.0 L375.0,195.6 L375.8,195.7 L376.6,196.0 L377.4,195.6 L378.2,195.6 L379.0,196.3 L379.8,196.2 L380.6,195.5 L381.4,195.4 L382.2,195.9 L383.0,196.2 L383.8,196.2 L384.6,195.8 L385.4,196.2 L386.2,195.5 L387.0,196.1 L387.8,195.2 L388.6,195.5 L389.4,195.5 L390.2,195.5 L391.0,195.4 L391.8,195.0 L392.6,195.1 L393.4,195.9 L394.2,196.0 L395.0,196.0 L395.8,196.1 L396.6,196.1 L397.4,195.6 L398.2,195.4 L399.0,195.6 L399.8,196.1 L400.6,195.8 L401.4,196.0 L402.2,195.6 L403.0,196.3 L403.8,195.5 L404.6,196.1 L405.4,196.0 L406.2,195.6 L407.0,196.0 L407.8,195.4 L408.6,195.4 L409.4,195.7 L410.2,195.4 L411.0,196.1 L411.8,195.3 L412.6,195.7 L413.4,195.2 L414.2,195.2 L415.0,195.3 L415.8,196.0 L416.6,195.4 L417.4,196.0 L418.2,195.5 L419.0,196.0 L419.8,195.6 L420.6,196.1 L421.4,196.2 L422.2,195.5 L423.0,195.7 L423.8,196.1 L424.6,195.9 L425.4,196.1 L426.2,196.2 L427.0,194.6 L427.8,195.2 L428.6,195.8 L429.4,195.4 L430.2,195.4 L431.0,195.5 L431.8,196.2 L432.6,196.2 L433.4,196.1 L434.2,195.6 L435.0,196.1 L435.8,195.9 L436.6,196.1 L437.4,195.4 L438.2,195.8 L439.0,195.9 L439.8,195.7 L440.6,195.7 L441.4,194.8 L442.2,196.0 L443.0,195.8 L443.8,195.8 L444.6,195.6 L445.4,195.6 L446.2,195.8 L447.0,195.9 L447.8,195.6 L448.6,196.2 L449.4,195.7 L450.2,196.1 L451.0,196.1 L451.8,195.7 L452.6,195.6 L453.4,196.1 L454.2,195.9 L455.0,195.6 L455.8,195.6 L456.6,196.0 L457.4,196.2 L458.2,195.5 L459.0,196.3 L459.8,196.1 L460.6,196.0 L461.4,195.6 L462.2,195.5 L463.0,195.6 L463.8,196.0 L464.6,195.5 L465.4,195.4 L466.2,195.7 L467.0,195.8 L467.8,195.7 L468.6,195.4 L469.4,195.8 L470.2,196.0 L471.0,195.7 L471.8,195.9 L472.6,196.2 L473.4,195.4 L474.2,196.3 L475.0,196.2 L475.8,195.4 L476.6,195.5 L477.4,195.0 L478.2,196.1 L479.0,195.7 L479.8,196.1 L480.3,196.7Z" fill="#231f20"/>
<line x1="336.20" y1="30.40" x2="336.20" y2="46.40" stroke="#9a9a9a" stroke-width="0.8" />
<line x1="336.60" y1="46.40" x2="480.30" y2="46.40" stroke="#666666" stroke-width="0.45" />
<text x="333.60" y="35.20" font-size="5.8" stroke="#231f20" stroke-width="0.04" text-anchor="end" textLength="5.90" lengthAdjust="spacingAndGlyphs">30</text>
<line x1="336.20" y1="48.90" x2="336.20" y2="65.20" stroke="#9a9a9a" stroke-width="0.8" />
<line x1="336.60" y1="65.20" x2="480.30" y2="65.20" stroke="#666666" stroke-width="0.45" />
<text x="333.60" y="52.40" font-size="5.8" stroke="#231f20" stroke-width="0.04" text-anchor="end" textLength="5.90" lengthAdjust="spacingAndGlyphs">30</text>
<line x1="336.20" y1="67.40" x2="336.20" y2="83.60" stroke="#9a9a9a" stroke-width="0.8" />
<line x1="336.60" y1="83.60" x2="480.30" y2="83.60" stroke="#666666" stroke-width="0.45" />
<text x="333.60" y="71.40" font-size="5.8" stroke="#231f20" stroke-width="0.04" text-anchor="end" textLength="5.90" lengthAdjust="spacingAndGlyphs">30</text>
<line x1="336.20" y1="86.20" x2="336.20" y2="102.10" stroke="#9a9a9a" stroke-width="0.8" />
<line x1="336.60" y1="102.10" x2="480.30" y2="102.10" stroke="#666666" stroke-width="0.45" />
<text x="333.60" y="90.30" font-size="5.8" stroke="#231f20" stroke-width="0.04" text-anchor="end" textLength="5.90" lengthAdjust="spacingAndGlyphs">30</text>
<line x1="336.20" y1="125.20" x2="336.20" y2="141.30" stroke="#9a9a9a" stroke-width="0.8" />
<line x1="336.60" y1="141.30" x2="480.30" y2="141.30" stroke="#666666" stroke-width="0.45" />
<text x="333.60" y="129.70" font-size="5.8" stroke="#231f20" stroke-width="0.04" text-anchor="end" textLength="5.90" lengthAdjust="spacingAndGlyphs">45</text>
<line x1="336.20" y1="143.70" x2="336.20" y2="159.80" stroke="#9a9a9a" stroke-width="0.8" />
<line x1="336.60" y1="159.80" x2="480.30" y2="159.80" stroke="#666666" stroke-width="0.45" />
<text x="333.60" y="147.40" font-size="5.8" stroke="#231f20" stroke-width="0.04" text-anchor="end" textLength="5.90" lengthAdjust="spacingAndGlyphs">30</text>
<line x1="336.20" y1="162.20" x2="336.20" y2="178.20" stroke="#9a9a9a" stroke-width="0.8" />
<line x1="336.60" y1="178.20" x2="480.30" y2="178.20" stroke="#666666" stroke-width="0.45" />
<text x="333.60" y="165.70" font-size="5.8" stroke="#231f20" stroke-width="0.04" text-anchor="end" textLength="5.90" lengthAdjust="spacingAndGlyphs">30</text>
<line x1="336.20" y1="180.60" x2="336.20" y2="196.70" stroke="#9a9a9a" stroke-width="0.8" />
<line x1="336.60" y1="196.70" x2="480.30" y2="196.70" stroke="#666666" stroke-width="0.45" />
<text x="333.60" y="184.70" font-size="5.8" stroke="#231f20" stroke-width="0.04" text-anchor="end" textLength="5.90" lengthAdjust="spacingAndGlyphs">30</text>
<text x="480.20" y="40.50" font-size="6.0" stroke="#231f20" stroke-width="0.14" textLength="26.40" lengthAdjust="spacingAndGlyphs">PML/RARα</text>
<text x="480.20" y="59.50" font-size="6.0" stroke="#231f20" stroke-width="0.14" textLength="32.30" lengthAdjust="spacingAndGlyphs">HDAC1 (C18)</text>
<text x="480.20" y="77.10" font-size="6.0" stroke="#231f20" stroke-width="0.14" textLength="26.70" lengthAdjust="spacingAndGlyphs">P300 (C20)</text>
<text x="480.20" y="94.00" font-size="6.0" stroke="#231f20" stroke-width="0.14" textLength="12.70" lengthAdjust="spacingAndGlyphs">Input</text>
<text x="480.20" y="135.10" font-size="6.0" stroke="#231f20" stroke-width="0.14" textLength="26.40" lengthAdjust="spacingAndGlyphs">PML/RARα</text>
<text x="480.20" y="153.80" font-size="6.0" stroke="#231f20" stroke-width="0.14" textLength="32.30" lengthAdjust="spacingAndGlyphs">HDAC1 (C18)</text>
<text x="480.20" y="171.70" font-size="6.0" stroke="#231f20" stroke-width="0.14" textLength="26.70" lengthAdjust="spacingAndGlyphs">P300 (C20)</text>
<text x="480.20" y="188.30" font-size="6.0" stroke="#231f20" stroke-width="0.14" textLength="12.70" lengthAdjust="spacingAndGlyphs">Input</text>
<text transform="translate(322.60,67.00) rotate(-90)" font-size="7.0" stroke="#231f20" stroke-width="0.14" text-anchor="middle" textLength="20.00" lengthAdjust="spacingAndGlyphs">rpm/bp</text>
<text transform="translate(322.80,162.00) rotate(-90)" font-size="7.0" stroke="#231f20" stroke-width="0.14" text-anchor="middle" textLength="20.00" lengthAdjust="spacingAndGlyphs">rpm/bp</text>
<text x="456.00" y="35.80" font-size="5.8" stroke="#231f20" stroke-width="0.14" textLength="10.80" lengthAdjust="spacingAndGlyphs">2 kb</text>
<line x1="457.60" y1="38.50" x2="464.80" y2="38.50" stroke="#231f20" stroke-width="0.9" />
<line x1="457.60" y1="37.60" x2="457.60" y2="39.40" stroke="#231f20" stroke-width="0.6" />
<line x1="464.80" y1="37.60" x2="464.80" y2="39.40" stroke="#231f20" stroke-width="0.6" />
<text x="438.00" y="132.50" font-size="5.8" stroke="#231f20" stroke-width="0.14" textLength="11.60" lengthAdjust="spacingAndGlyphs">1 kb</text>
<line x1="437.00" y1="134.60" x2="451.00" y2="134.60" stroke="#231f20" stroke-width="0.9" />
<line x1="437.00" y1="133.70" x2="437.00" y2="135.50" stroke="#231f20" stroke-width="0.6" />
<line x1="451.00" y1="133.70" x2="451.00" y2="135.50" stroke="#231f20" stroke-width="0.6" />
<line x1="405.50" y1="112.50" x2="437.00" y2="112.50" stroke="#6c78b4" stroke-width="0.6" />
<rect x="397.00" y="110.90" width="8.90" height="2.80" fill="#1e2a6e" />
<rect x="404.60" y="110.30" width="1.30" height="4.00" fill="#1e2a6e" />
<rect x="414.10" y="110.50" width="0.80" height="4.00" fill="#6c78b4" />
<rect x="420.20" y="110.00" width="1.50" height="5.00" fill="#1e2a6e" />
<rect x="427.40" y="110.30" width="1.80" height="4.40" fill="#7884b8" />
<polyline points="436.9,112.5 436.9,105.6 425.5,105.6" fill="none" stroke="#333333" stroke-width="0.7"/>
<path d="M423.6,105.6 L426.2,104.3 L426.2,106.9 Z" fill="#333333"/>
<text x="441.80" y="115.90" font-size="7.0" fill="#d42a44" stroke="#d42a44" stroke-width="0.14" textLength="11.30" lengthAdjust="spacingAndGlyphs" font-style="italic">GFI1</text>
<line x1="383.00" y1="209.00" x2="393.30" y2="209.00" stroke="#8890c0" stroke-width="0.7" />
<rect x="376.60" y="206.90" width="6.40" height="3.80" fill="#1e2a6e" />
<rect x="393.30" y="206.80" width="7.00" height="3.90" fill="#1e2a6e" />
<rect x="400.30" y="208.20" width="6.40" height="1.90" fill="#1e2a6e" />
<polyline points="406.8,208.4 406.8,201.0 396.5,201.0" fill="none" stroke="#333333" stroke-width="0.7"/>
<path d="M394.5,201.0 L397.1,199.7 L397.1,202.3 Z" fill="#333333"/>
<text x="411.10" y="210.90" font-size="6.5" fill="#3c3ca0" stroke="#3c3ca0" stroke-width="0.14" textLength="16.80" lengthAdjust="spacingAndGlyphs" font-style="italic">CEBPE</text>
<line x1="49.70" y1="291.41" x2="49.70" y2="297.49" stroke="#333333" stroke-width="0.8" />
<line x1="48.60" y1="291.41" x2="50.80" y2="291.41" stroke="#333333" stroke-width="0.8" />
<rect x="46.60" y="297.49" width="6.20" height="34.01" fill="#e8a123" />
<line x1="58.55" y1="317.95" x2="58.55" y2="320.99" stroke="#333333" stroke-width="0.8" />
<line x1="57.45" y1="317.95" x2="59.65" y2="317.95" stroke="#333333" stroke-width="0.8" />
<rect x="55.70" y="320.99" width="5.70" height="10.51" fill="#4e1f86" />
<line x1="73.90" y1="284.22" x2="73.90" y2="295.83" stroke="#333333" stroke-width="0.8" />
<line x1="72.80" y1="284.22" x2="75.00" y2="284.22" stroke="#333333" stroke-width="0.8" />
<rect x="71.00" y="295.83" width="5.80" height="35.67" fill="#e8a123" />
<line x1="82.90" y1="282.56" x2="82.90" y2="285.32" stroke="#333333" stroke-width="0.8" />
<line x1="81.80" y1="282.56" x2="84.00" y2="282.56" stroke="#333333" stroke-width="0.8" />
<rect x="80.00" y="285.32" width="5.80" height="46.18" fill="#4e1f86" />
<line x1="66.00" y1="276.00" x2="66.00" y2="331.50" stroke="#111111" stroke-width="1.2" stroke-dasharray="1.1 1.0"/>
<line x1="42.50" y1="331.90" x2="42.50" y2="275.40" stroke="#231f20" stroke-width="1.0" />
<line x1="42.00" y1="331.50" x2="89.20" y2="331.50" stroke="#231f20" stroke-width="1.0" />
<line x1="39.90" y1="331.50" x2="42.50" y2="331.50" stroke="#231f20" stroke-width="0.9" />
<text x="36.00" y="333.40" font-size="5.3" fill="#333333" stroke="#333333" stroke-width="0.09" text-anchor="end">0</text>
<line x1="39.90" y1="317.68" x2="42.50" y2="317.68" stroke="#231f20" stroke-width="0.9" />
<text x="36.00" y="319.57" font-size="5.3" fill="#333333" stroke="#333333" stroke-width="0.09" text-anchor="end">5</text>
<line x1="39.90" y1="303.85" x2="42.50" y2="303.85" stroke="#231f20" stroke-width="0.9" />
<text x="36.00" y="305.75" font-size="5.3" fill="#333333" stroke="#333333" stroke-width="0.09" text-anchor="end">10</text>
<line x1="39.90" y1="290.02" x2="42.50" y2="290.02" stroke="#231f20" stroke-width="0.9" />
<text x="36.00" y="291.92" font-size="5.3" fill="#333333" stroke="#333333" stroke-width="0.09" text-anchor="end">15</text>
<line x1="39.90" y1="276.20" x2="42.50" y2="276.20" stroke="#231f20" stroke-width="0.9" />
<text x="36.00" y="278.10" font-size="5.3" fill="#333333" stroke="#333333" stroke-width="0.09" text-anchor="end">20</text>
<line x1="49.70" y1="331.50" x2="49.70" y2="334.10" stroke="#231f20" stroke-width="0.9" />
<line x1="58.55" y1="331.50" x2="58.55" y2="334.10" stroke="#231f20" stroke-width="0.9" />
<line x1="73.90" y1="331.50" x2="73.90" y2="334.10" stroke="#231f20" stroke-width="0.9" />
<line x1="82.90" y1="331.50" x2="82.90" y2="334.10" stroke="#231f20" stroke-width="0.9" />
<text transform="translate(26.30,302.20) rotate(-90)" font-size="6.3" stroke="#231f20" stroke-width="0.14" text-anchor="middle" textLength="63.70" lengthAdjust="spacingAndGlyphs">Fold enrichment (vs IgG)</text>
<text x="40.70" y="262.50" font-size="7.4" stroke="#231f20" stroke-width="0.14" textLength="51.30" lengthAdjust="spacingAndGlyphs">Primary APL #5</text>
<text x="45.80" y="272.30" font-size="5.6" fill="#3c3ca0" stroke="#3c3ca0" stroke-width="0.14" textLength="16.70" lengthAdjust="spacingAndGlyphs" font-style="italic">CEBPE</text>
<text x="72.70" y="272.30" font-size="5.6" fill="#d4304a" stroke="#d4304a" stroke-width="0.14" textLength="10.70" lengthAdjust="spacingAndGlyphs" font-style="italic">GFI1</text>
<text transform="translate(50.60,340.50) rotate(-45)" font-size="5.3" stroke="#231f20" stroke-width="0.09" text-anchor="end" textLength="31.00" lengthAdjust="spacingAndGlyphs">HDAC1 (C18)</text>
<text transform="translate(59.45,340.50) rotate(-45)" font-size="5.3" stroke="#231f20" stroke-width="0.09" text-anchor="end" textLength="27.50" lengthAdjust="spacingAndGlyphs">P300 (C20)</text>
<text transform="translate(74.80,340.50) rotate(-45)" font-size="5.3" stroke="#231f20" stroke-width="0.09" text-anchor="end" textLength="31.00" lengthAdjust="spacingAndGlyphs">HDAC1 (C18)</text>
<text transform="translate(83.80,340.50) rotate(-45)" font-size="5.3" stroke="#231f20" stroke-width="0.09" text-anchor="end" textLength="27.50" lengthAdjust="spacingAndGlyphs">P300 (C20)</text>
<line x1="131.65" y1="293.40" x2="131.65" y2="299.19" stroke="#333333" stroke-width="0.8" />
<line x1="130.55" y1="293.40" x2="132.75" y2="293.40" stroke="#333333" stroke-width="0.8" />
<rect x="128.50" y="299.19" width="6.30" height="32.31" fill="#e8a123" />
<line x1="140.90" y1="317.69" x2="140.90" y2="321.92" stroke="#333333" stroke-width="0.8" />
<line x1="139.80" y1="317.69" x2="142.00" y2="317.69" stroke="#333333" stroke-width="0.8" />
<rect x="137.90" y="321.92" width="6.00" height="9.58" fill="#4e1f86" />
<line x1="155.95" y1="299.19" x2="155.95" y2="302.31" stroke="#333333" stroke-width="0.8" />
<line x1="154.85" y1="299.19" x2="157.05" y2="299.19" stroke="#333333" stroke-width="0.8" />
<rect x="152.90" y="302.31" width="6.10" height="29.19" fill="#e8a123" />
<line x1="165.00" y1="279.36" x2="165.00" y2="291.40" stroke="#333333" stroke-width="0.8" />
<line x1="163.90" y1="279.36" x2="166.10" y2="279.36" stroke="#333333" stroke-width="0.8" />
<rect x="162.00" y="291.40" width="6.00" height="40.10" fill="#4e1f86" />
<line x1="148.40" y1="276.00" x2="148.40" y2="331.50" stroke="#111111" stroke-width="1.2" stroke-dasharray="1.1 1.0"/>
<line x1="124.50" y1="331.90" x2="124.50" y2="275.00" stroke="#231f20" stroke-width="1.0" />
<line x1="124.00" y1="331.50" x2="171.50" y2="331.50" stroke="#231f20" stroke-width="1.0" />
<line x1="121.90" y1="331.50" x2="124.50" y2="331.50" stroke="#231f20" stroke-width="0.9" />
<text x="118.00" y="333.40" font-size="5.3" fill="#333333" stroke="#333333" stroke-width="0.09" text-anchor="end">0</text>
<line x1="121.90" y1="320.36" x2="124.50" y2="320.36" stroke="#231f20" stroke-width="0.9" />
<text x="118.00" y="322.26" font-size="5.3" fill="#333333" stroke="#333333" stroke-width="0.09" text-anchor="end">5</text>
<line x1="121.90" y1="309.22" x2="124.50" y2="309.22" stroke="#231f20" stroke-width="0.9" />
<text x="118.00" y="311.12" font-size="5.3" fill="#333333" stroke="#333333" stroke-width="0.09" text-anchor="end">10</text>
<line x1="121.90" y1="298.08" x2="124.50" y2="298.08" stroke="#231f20" stroke-width="0.9" />
<text x="118.00" y="299.98" font-size="5.3" fill="#333333" stroke="#333333" stroke-width="0.09" text-anchor="end">15</text>
<line x1="121.90" y1="286.94" x2="124.50" y2="286.94" stroke="#231f20" stroke-width="0.9" />
<text x="118.00" y="288.84" font-size="5.3" fill="#333333" stroke="#333333" stroke-width="0.09" text-anchor="end">20</text>
<line x1="121.90" y1="275.80" x2="124.50" y2="275.80" stroke="#231f20" stroke-width="0.9" />
<text x="118.00" y="277.70" font-size="5.3" fill="#333333" stroke="#333333" stroke-width="0.09" text-anchor="end">25</text>
<line x1="131.65" y1="331.50" x2="131.65" y2="334.10" stroke="#231f20" stroke-width="0.9" />
<line x1="140.90" y1="331.50" x2="140.90" y2="334.10" stroke="#231f20" stroke-width="0.9" />
<line x1="155.95" y1="331.50" x2="155.95" y2="334.10" stroke="#231f20" stroke-width="0.9" />
<line x1="165.00" y1="331.50" x2="165.00" y2="334.10" stroke="#231f20" stroke-width="0.9" />
<text transform="translate(107.60,302.20) rotate(-90)" font-size="6.3" stroke="#231f20" stroke-width="0.14" text-anchor="middle" textLength="63.70" lengthAdjust="spacingAndGlyphs">Fold enrichment (vs IgG)</text>
<text x="122.50" y="262.50" font-size="7.4" stroke="#231f20" stroke-width="0.14" textLength="51.50" lengthAdjust="spacingAndGlyphs">Primary APL #6</text>
<text x="128.00" y="272.30" font-size="5.6" fill="#3c3ca0" stroke="#3c3ca0" stroke-width="0.14" textLength="16.60" lengthAdjust="spacingAndGlyphs" font-style="italic">CEBPE</text>
<text x="155.00" y="272.30" font-size="5.6" fill="#d4304a" stroke="#d4304a" stroke-width="0.14" textLength="11.00" lengthAdjust="spacingAndGlyphs" font-style="italic">GFI1</text>
<text transform="translate(132.55,340.50) rotate(-45)" font-size="5.3" stroke="#231f20" stroke-width="0.09" text-anchor="end" textLength="31.00" lengthAdjust="spacingAndGlyphs">HDAC1 (C18)</text>
<text transform="translate(141.80,340.50) rotate(-45)" font-size="5.3" stroke="#231f20" stroke-width="0.09" text-anchor="end" textLength="27.50" lengthAdjust="spacingAndGlyphs">P300 (C20)</text>
<text transform="translate(156.85,340.50) rotate(-45)" font-size="5.3" stroke="#231f20" stroke-width="0.09" text-anchor="end" textLength="31.00" lengthAdjust="spacingAndGlyphs">HDAC1 (C18)</text>
<text transform="translate(165.90,340.50) rotate(-45)" font-size="5.3" stroke="#231f20" stroke-width="0.09" text-anchor="end" textLength="27.50" lengthAdjust="spacingAndGlyphs">P300 (C20)</text>
<text x="217.80" y="267.00" font-size="5.0" stroke="#231f20" stroke-width="0.09" textLength="4.00" lengthAdjust="spacingAndGlyphs">IP</text>
<line x1="198.50" y1="270.20" x2="241.40" y2="270.20" stroke="#555555" stroke-width="0.8" />
<text x="204.00" y="277.10" font-size="5.6" stroke="#231f20" stroke-width="0.14" textLength="8.70" lengthAdjust="spacingAndGlyphs">IgG</text>
<text x="221.00" y="277.10" font-size="5.6" stroke="#231f20" stroke-width="0.14" textLength="18.30" lengthAdjust="spacingAndGlyphs">α-P300</text>
<text x="246.30" y="277.10" font-size="5.6" stroke="#231f20" stroke-width="0.14" textLength="12.70" lengthAdjust="spacingAndGlyphs">Input</text>
<text x="204.00" y="303.60" font-size="5.6" stroke="#231f20" stroke-width="0.14" textLength="8.70" lengthAdjust="spacingAndGlyphs">IgG</text>
<text x="217.80" y="303.60" font-size="5.6" stroke="#231f20" stroke-width="0.14" textLength="23.60" lengthAdjust="spacingAndGlyphs">α-HDAC1</text>
<text x="246.30" y="303.60" font-size="5.6" stroke="#231f20" stroke-width="0.14" textLength="12.70" lengthAdjust="spacingAndGlyphs">Input</text>
<rect x="198.3" y="281.9" width="64.6" height="11.7" fill="url(#bl1)" stroke="#4a4a4a" stroke-width="0.8"/>
<rect x="223.5" y="282.4" width="15" height="10.8" fill="#000" filter="url(#bn)" opacity="0.65"/>
<path d="M244.4,287.4 C250,287.2 256,287.5 261,287.3 L261,288.6 C256,288.8 250,288.6 244.4,288.7 Z" fill="#505050"/>
<rect x="198.3" y="305.9" width="64.6" height="11.7" fill="url(#bl2)" stroke="#4a4a4a" stroke-width="0.8"/>
<path d="M222.5,310.6 L237,310.7 L237,312.0 L222.5,311.9 Z" fill="#999999"/>
<path d="M243.3,310.0 C250,310.5 255,310.7 261,310.8 L261,312.2 C255,312.2 250,312.5 243.3,312.6 Z" fill="#3a3a3a"/>
<text x="265.50" y="288.80" font-size="5.8" stroke="#231f20" stroke-width="0.14" textLength="26.50" lengthAdjust="spacingAndGlyphs">PML/RARα</text>
<text x="265.50" y="312.90" font-size="5.8" stroke="#231f20" stroke-width="0.14" textLength="26.50" lengthAdjust="spacingAndGlyphs">PML/RARα</text>
<text x="206.30" y="325.40" font-size="5.6" stroke="#231f20" stroke-width="0.14" textLength="50.70" lengthAdjust="spacingAndGlyphs">WB: anti-RARα (C20)</text>
<line x1="344.50" y1="275.75" x2="344.50" y2="279.95" stroke="#333333" stroke-width="0.8" />
<line x1="343.40" y1="275.75" x2="345.60" y2="275.75" stroke="#333333" stroke-width="0.8" />
<rect x="342.10" y="279.95" width="4.80" height="51.55" fill="#c8102e" />
<path d="M350.60,331.50 L350.60,330.03 Q351.08,329.24 353.00,329.24 Q354.92,329.24 355.40,330.03 L355.40,331.50 Z" fill="#5cb533"/>
<line x1="362.25" y1="304.73" x2="362.25" y2="307.63" stroke="#333333" stroke-width="0.8" />
<line x1="361.15" y1="304.73" x2="363.35" y2="304.73" stroke="#333333" stroke-width="0.8" />
<rect x="359.80" y="307.63" width="4.90" height="23.87" fill="#e8921c" />
<text x="362.25" y="304.13" font-size="4.5" fill="#333333" stroke="#333333" stroke-width="0.09" text-anchor="middle">*</text>
<line x1="370.85" y1="313.44" x2="370.85" y2="316.02" stroke="#333333" stroke-width="0.8" />
<line x1="369.75" y1="313.44" x2="371.95" y2="313.44" stroke="#333333" stroke-width="0.8" />
<rect x="368.30" y="316.02" width="5.10" height="15.48" fill="#4e1f86" />
<text x="370.85" y="312.84" font-size="4.5" fill="#333333" stroke="#333333" stroke-width="0.09" text-anchor="middle">*</text>
<line x1="349.00" y1="272.30" x2="349.00" y2="331.50" stroke="#000000" stroke-width="1.15" stroke-dasharray="1.0 0.9"/>
<line x1="339.50" y1="270.20" x2="339.50" y2="295.00" stroke="#231f20" stroke-width="1.0" />
<line x1="339.50" y1="298.40" x2="339.50" y2="331.90" stroke="#231f20" stroke-width="1.0" />
<line x1="339.00" y1="331.50" x2="375.70" y2="331.50" stroke="#231f20" stroke-width="1.0" />
<line x1="336.20" y1="272.30" x2="339.50" y2="272.30" stroke="#231f20" stroke-width="0.9" />
<text x="332.60" y="274.30" font-size="5.6" fill="#333333" stroke="#333333" stroke-width="0.14" text-anchor="end">30</text>
<line x1="337.50" y1="279.80" x2="339.50" y2="279.80" stroke="#231f20" stroke-width="0.9" />
<line x1="337.50" y1="287.30" x2="339.50" y2="287.30" stroke="#231f20" stroke-width="0.9" />
<line x1="336.20" y1="294.80" x2="339.50" y2="294.80" stroke="#231f20" stroke-width="0.9" />
<text x="332.60" y="296.80" font-size="5.6" fill="#333333" stroke="#333333" stroke-width="0.14" text-anchor="end">15</text>
<line x1="336.20" y1="331.50" x2="339.50" y2="331.50" stroke="#231f20" stroke-width="0.9" />
<text x="332.60" y="333.50" font-size="5.6" fill="#333333" stroke="#333333" stroke-width="0.14" text-anchor="end">0</text>
<line x1="337.50" y1="325.05" x2="339.50" y2="325.05" stroke="#231f20" stroke-width="0.9" />
<line x1="336.20" y1="318.60" x2="339.50" y2="318.60" stroke="#231f20" stroke-width="0.9" />
<text x="332.60" y="320.60" font-size="5.6" fill="#333333" stroke="#333333" stroke-width="0.14" text-anchor="end">4</text>
<line x1="337.50" y1="312.15" x2="339.50" y2="312.15" stroke="#231f20" stroke-width="0.9" />
<line x1="336.20" y1="305.70" x2="339.50" y2="305.70" stroke="#231f20" stroke-width="0.9" />
<text x="332.60" y="307.70" font-size="5.6" fill="#333333" stroke="#333333" stroke-width="0.14" text-anchor="end">8</text>
<line x1="337.50" y1="299.25" x2="339.50" y2="299.25" stroke="#231f20" stroke-width="0.9" />
<line x1="344.50" y1="331.50" x2="344.50" y2="334.20" stroke="#231f20" stroke-width="0.9" />
<text transform="translate(346.10,339.80) rotate(-45)" font-size="5.0" stroke="#231f20" stroke-width="0.09" text-anchor="end" textLength="26.00" lengthAdjust="spacingAndGlyphs">PML/RARα</text>
<line x1="353.00" y1="331.50" x2="353.00" y2="334.20" stroke="#231f20" stroke-width="0.9" />
<text transform="translate(354.60,339.80) rotate(-45)" font-size="5.0" stroke="#231f20" stroke-width="0.09" text-anchor="end" textLength="8.00" lengthAdjust="spacingAndGlyphs">IgG</text>
<line x1="362.25" y1="331.50" x2="362.25" y2="334.20" stroke="#231f20" stroke-width="0.9" />
<text transform="translate(363.85,339.80) rotate(-45)" font-size="5.0" stroke="#231f20" stroke-width="0.09" text-anchor="end" textLength="17.50" lengthAdjust="spacingAndGlyphs">HDAC1</text>
<line x1="370.85" y1="331.50" x2="370.85" y2="334.20" stroke="#231f20" stroke-width="0.9" />
<text transform="translate(372.45,339.80) rotate(-45)" font-size="5.0" stroke="#231f20" stroke-width="0.09" text-anchor="end" textLength="13.00" lengthAdjust="spacingAndGlyphs">P300</text>
<text x="330.80" y="265.20" font-size="5.2" stroke="#231f20" stroke-width="0.09" textLength="1.70" lengthAdjust="spacingAndGlyphs">1</text>
<text x="332.60" y="263.00" font-size="3.3" stroke="#231f20" stroke-width="0.09" textLength="2.60" lengthAdjust="spacingAndGlyphs">st</text>
<text x="337.30" y="265.20" font-size="5.2" stroke="#231f20" stroke-width="0.09" textLength="10.90" lengthAdjust="spacingAndGlyphs">ChIP</text>
<text x="350.20" y="265.20" font-size="5.2" stroke="#231f20" stroke-width="0.09" textLength="2.30" lengthAdjust="spacingAndGlyphs">2</text>
<text x="352.60" y="263.00" font-size="3.3" stroke="#231f20" stroke-width="0.09" textLength="3.60" lengthAdjust="spacingAndGlyphs">nd</text>
<text x="358.90" y="265.20" font-size="5.2" stroke="#231f20" stroke-width="0.09" textLength="10.60" lengthAdjust="spacingAndGlyphs">ChIP</text>
<text transform="translate(322.80,302.00) rotate(-90)" font-size="7.2" stroke="#231f20" stroke-width="0.14" text-anchor="middle" textLength="43.40" lengthAdjust="spacingAndGlyphs">Fold enrichment</text>
<line x1="405.25" y1="276.12" x2="405.25" y2="287.82" stroke="#333333" stroke-width="0.8" />
<line x1="404.15" y1="276.12" x2="406.35" y2="276.12" stroke="#333333" stroke-width="0.8" />
<rect x="402.60" y="287.82" width="5.30" height="43.68" fill="#e8921c" />
<path d="M411.60,331.50 L411.60,328.77 Q412.15,327.30 414.35,327.30 Q416.55,327.30 417.10,328.77 L417.10,331.50 Z" fill="#5cb533"/>
<line x1="423.20" y1="303.50" x2="423.20" y2="307.90" stroke="#333333" stroke-width="0.8" />
<line x1="422.10" y1="303.50" x2="424.30" y2="303.50" stroke="#333333" stroke-width="0.8" />
<rect x="420.50" y="307.90" width="5.40" height="23.60" fill="#c8102e" />
<text x="423.20" y="302.90" font-size="4.5" fill="#333333" stroke="#333333" stroke-width="0.09" text-anchor="middle">*</text>
<line x1="431.75" y1="313.50" x2="431.75" y2="315.90" stroke="#333333" stroke-width="0.8" />
<line x1="430.65" y1="313.50" x2="432.85" y2="313.50" stroke="#333333" stroke-width="0.8" />
<rect x="429.10" y="315.90" width="5.30" height="15.60" fill="#4e1f86" />
<text x="431.75" y="312.90" font-size="4.5" fill="#333333" stroke="#333333" stroke-width="0.09" text-anchor="middle">*</text>
<line x1="409.30" y1="272.30" x2="409.30" y2="331.50" stroke="#000000" stroke-width="1.15" stroke-dasharray="1.0 0.9"/>
<line x1="400.50" y1="270.20" x2="400.50" y2="295.00" stroke="#231f20" stroke-width="1.0" />
<line x1="400.50" y1="298.40" x2="400.50" y2="331.90" stroke="#231f20" stroke-width="1.0" />
<line x1="400.00" y1="331.50" x2="436.50" y2="331.50" stroke="#231f20" stroke-width="1.0" />
<line x1="397.20" y1="272.30" x2="400.50" y2="272.30" stroke="#231f20" stroke-width="0.9" />
<text x="393.60" y="274.30" font-size="5.6" fill="#333333" stroke="#333333" stroke-width="0.14" text-anchor="end">40</text>
<line x1="398.50" y1="283.55" x2="400.50" y2="283.55" stroke="#231f20" stroke-width="0.9" />
<line x1="397.20" y1="294.80" x2="400.50" y2="294.80" stroke="#231f20" stroke-width="0.9" />
<text x="393.60" y="296.80" font-size="5.6" fill="#333333" stroke="#333333" stroke-width="0.14" text-anchor="end">30</text>
<line x1="397.20" y1="331.50" x2="400.50" y2="331.50" stroke="#231f20" stroke-width="0.9" />
<text x="393.60" y="333.50" font-size="5.6" fill="#333333" stroke="#333333" stroke-width="0.14" text-anchor="end">0</text>
<line x1="398.50" y1="323.50" x2="400.50" y2="323.50" stroke="#231f20" stroke-width="0.9" />
<line x1="397.20" y1="315.50" x2="400.50" y2="315.50" stroke="#231f20" stroke-width="0.9" />
<text x="393.60" y="317.50" font-size="5.6" fill="#333333" stroke="#333333" stroke-width="0.14" text-anchor="end">4</text>
<line x1="398.50" y1="307.50" x2="400.50" y2="307.50" stroke="#231f20" stroke-width="0.9" />
<line x1="398.50" y1="299.50" x2="400.50" y2="299.50" stroke="#231f20" stroke-width="0.9" />
<line x1="405.25" y1="331.50" x2="405.25" y2="334.20" stroke="#231f20" stroke-width="0.9" />
<text transform="translate(406.85,339.80) rotate(-45)" font-size="5.0" stroke="#231f20" stroke-width="0.09" text-anchor="end" textLength="17.50" lengthAdjust="spacingAndGlyphs">HDAC1</text>
<line x1="414.35" y1="331.50" x2="414.35" y2="334.20" stroke="#231f20" stroke-width="0.9" />
<text transform="translate(415.95,339.80) rotate(-45)" font-size="5.0" stroke="#231f20" stroke-width="0.09" text-anchor="end" textLength="8.00" lengthAdjust="spacingAndGlyphs">IgG</text>
<line x1="423.20" y1="331.50" x2="423.20" y2="334.20" stroke="#231f20" stroke-width="0.9" />
<text transform="translate(424.80,339.80) rotate(-45)" font-size="5.0" stroke="#231f20" stroke-width="0.09" text-anchor="end" textLength="26.00" lengthAdjust="spacingAndGlyphs">PML/RARα</text>
<line x1="431.75" y1="331.50" x2="431.75" y2="334.20" stroke="#231f20" stroke-width="0.9" />
<text transform="translate(433.35,339.80) rotate(-45)" font-size="5.0" stroke="#231f20" stroke-width="0.09" text-anchor="end" textLength="13.00" lengthAdjust="spacingAndGlyphs">P300</text>
<text x="391.90" y="265.20" font-size="5.2" stroke="#231f20" stroke-width="0.09" textLength="1.70" lengthAdjust="spacingAndGlyphs">1</text>
<text x="393.70" y="263.00" font-size="3.3" stroke="#231f20" stroke-width="0.09" textLength="2.60" lengthAdjust="spacingAndGlyphs">st</text>
<text x="398.40" y="265.20" font-size="5.2" stroke="#231f20" stroke-width="0.09" textLength="10.90" lengthAdjust="spacingAndGlyphs">ChIP</text>
<text x="411.30" y="265.20" font-size="5.2" stroke="#231f20" stroke-width="0.09" textLength="2.30" lengthAdjust="spacingAndGlyphs">2</text>
<text x="413.70" y="263.00" font-size="3.3" stroke="#231f20" stroke-width="0.09" textLength="3.60" lengthAdjust="spacingAndGlyphs">nd</text>
<text x="420.00" y="265.20" font-size="5.2" stroke="#231f20" stroke-width="0.09" textLength="10.60" lengthAdjust="spacingAndGlyphs">ChIP</text>
<line x1="462.90" y1="278.38" x2="462.90" y2="286.03" stroke="#333333" stroke-width="0.8" />
<line x1="461.80" y1="278.38" x2="464.00" y2="278.38" stroke="#333333" stroke-width="0.8" />
<rect x="460.10" y="286.03" width="5.60" height="45.47" fill="#4e1f86" />
<path d="M469.20,331.50 L469.20,329.04 Q469.70,327.72 471.70,327.72 Q473.70,327.72 474.20,329.04 L474.20,331.50 Z" fill="#5cb533"/>
<line x1="480.40" y1="300.18" x2="480.40" y2="305.04" stroke="#333333" stroke-width="0.8" />
<line x1="479.30" y1="300.18" x2="481.50" y2="300.18" stroke="#333333" stroke-width="0.8" />
<rect x="477.80" y="305.04" width="5.20" height="26.46" fill="#c8102e" />
<text x="480.40" y="299.58" font-size="4.5" fill="#333333" stroke="#333333" stroke-width="0.09" text-anchor="middle">*</text>
<line x1="489.15" y1="306.66" x2="489.15" y2="309.36" stroke="#333333" stroke-width="0.8" />
<line x1="488.05" y1="306.66" x2="490.25" y2="306.66" stroke="#333333" stroke-width="0.8" />
<rect x="486.60" y="309.36" width="5.10" height="22.14" fill="#e8921c" />
<text x="489.15" y="306.06" font-size="4.5" fill="#333333" stroke="#333333" stroke-width="0.09" text-anchor="middle">*</text>
<line x1="467.60" y1="272.30" x2="467.60" y2="331.50" stroke="#000000" stroke-width="1.15" stroke-dasharray="1.0 0.9"/>
<line x1="457.50" y1="270.20" x2="457.50" y2="295.00" stroke="#231f20" stroke-width="1.0" />
<line x1="457.50" y1="298.40" x2="457.50" y2="331.90" stroke="#231f20" stroke-width="1.0" />
<line x1="457.00" y1="331.50" x2="493.50" y2="331.50" stroke="#231f20" stroke-width="1.0" />
<line x1="454.20" y1="272.30" x2="457.50" y2="272.30" stroke="#231f20" stroke-width="0.9" />
<text x="450.60" y="274.30" font-size="5.6" fill="#333333" stroke="#333333" stroke-width="0.14" text-anchor="end">30</text>
<line x1="455.50" y1="283.55" x2="457.50" y2="283.55" stroke="#231f20" stroke-width="0.9" />
<line x1="454.20" y1="294.80" x2="457.50" y2="294.80" stroke="#231f20" stroke-width="0.9" />
<text x="450.60" y="296.80" font-size="5.6" fill="#333333" stroke="#333333" stroke-width="0.14" text-anchor="end">20</text>
<line x1="454.20" y1="331.50" x2="457.50" y2="331.50" stroke="#231f20" stroke-width="0.9" />
<text x="450.60" y="333.50" font-size="5.6" fill="#333333" stroke="#333333" stroke-width="0.14" text-anchor="end">0</text>
<line x1="455.50" y1="320.70" x2="457.50" y2="320.70" stroke="#231f20" stroke-width="0.9" />
<line x1="454.20" y1="309.90" x2="457.50" y2="309.90" stroke="#231f20" stroke-width="0.9" />
<text x="450.60" y="311.90" font-size="5.6" fill="#333333" stroke="#333333" stroke-width="0.14" text-anchor="end">4</text>
<line x1="455.50" y1="299.10" x2="457.50" y2="299.10" stroke="#231f20" stroke-width="0.9" />
<line x1="462.90" y1="331.50" x2="462.90" y2="334.20" stroke="#231f20" stroke-width="0.9" />
<text transform="translate(464.50,339.80) rotate(-45)" font-size="5.0" stroke="#231f20" stroke-width="0.09" text-anchor="end" textLength="13.00" lengthAdjust="spacingAndGlyphs">P300</text>
<line x1="471.70" y1="331.50" x2="471.70" y2="334.20" stroke="#231f20" stroke-width="0.9" />
<text transform="translate(473.30,339.80) rotate(-45)" font-size="5.0" stroke="#231f20" stroke-width="0.09" text-anchor="end" textLength="8.00" lengthAdjust="spacingAndGlyphs">IgG</text>
<line x1="480.40" y1="331.50" x2="480.40" y2="334.20" stroke="#231f20" stroke-width="0.9" />
<text transform="translate(482.00,339.80) rotate(-45)" font-size="5.0" stroke="#231f20" stroke-width="0.09" text-anchor="end" textLength="26.00" lengthAdjust="spacingAndGlyphs">PML/RARα</text>
<line x1="489.15" y1="331.50" x2="489.15" y2="334.20" stroke="#231f20" stroke-width="0.9" />
<text transform="translate(490.75,339.80) rotate(-45)" font-size="5.0" stroke="#231f20" stroke-width="0.09" text-anchor="end" textLength="17.50" lengthAdjust="spacingAndGlyphs">HDAC1</text>
<text x="448.80" y="265.20" font-size="5.2" stroke="#231f20" stroke-width="0.09" textLength="1.70" lengthAdjust="spacingAndGlyphs">1</text>
<text x="450.60" y="263.00" font-size="3.3" stroke="#231f20" stroke-width="0.09" textLength="2.60" lengthAdjust="spacingAndGlyphs">st</text>
<text x="455.30" y="265.20" font-size="5.2" stroke="#231f20" stroke-width="0.09" textLength="10.90" lengthAdjust="spacingAndGlyphs">ChIP</text>
<text x="468.20" y="265.20" font-size="5.2" stroke="#231f20" stroke-width="0.09" textLength="2.30" lengthAdjust="spacingAndGlyphs">2</text>
<text x="470.60" y="263.00" font-size="3.3" stroke="#231f20" stroke-width="0.09" textLength="3.60" lengthAdjust="spacingAndGlyphs">nd</text>
<text x="476.90" y="265.20" font-size="5.2" stroke="#231f20" stroke-width="0.09" textLength="10.60" lengthAdjust="spacingAndGlyphs">ChIP</text>
<path d="M53.60,437.70 C54.45,437.33 56.90,436.58 58.70,435.50 C60.50,434.42 62.48,433.12 64.40,431.20 C66.32,429.28 68.52,426.52 70.20,424.00 C71.88,421.48 73.18,418.87 74.50,416.10 C75.82,413.33 77.13,409.62 78.10,407.40 C79.07,405.18 79.75,403.63 80.30,402.80 C80.85,401.97 80.97,401.87 81.40,402.40 C81.83,402.93 82.37,403.72 82.90,406.00 C83.43,408.28 84.07,413.33 84.60,416.10 C85.13,418.87 85.72,421.28 86.10,422.60 C86.48,423.92 86.62,424.13 86.90,424.00 C87.18,423.87 87.42,423.83 87.80,421.80 C88.18,419.77 88.65,414.55 89.20,411.80 C89.75,409.05 90.55,406.55 91.10,405.30 C91.65,404.05 91.90,404.23 92.50,404.30 C93.10,404.37 93.85,404.70 94.70,405.70 C95.55,406.70 96.52,408.22 97.60,410.30 C98.68,412.38 100.12,415.67 101.20,418.20 C102.28,420.73 103.02,423.57 104.10,425.50 C105.18,427.43 106.38,428.48 107.70,429.80 C109.02,431.12 110.57,432.32 112.00,433.40 C113.43,434.48 114.97,435.53 116.30,436.30 C117.63,437.07 119.38,437.72 120.00,438.00" fill="none" stroke="#d7273a" stroke-width="1.2"/>
<path d="M53.60,449.30 C54.45,449.00 56.90,447.98 58.70,447.50 C60.50,447.02 62.72,446.95 64.40,446.40 C66.08,445.85 67.35,445.40 68.80,444.20 C70.25,443.00 71.67,441.00 73.10,439.20 C74.53,437.40 76.20,434.97 77.40,433.40 C78.60,431.83 79.53,430.40 80.30,429.80 C81.07,429.20 81.28,429.08 82.00,429.80 C82.72,430.52 83.73,432.73 84.60,434.10 C85.47,435.47 86.52,437.63 87.20,438.00 C87.88,438.37 88.17,437.30 88.70,436.30 C89.23,435.30 89.83,432.97 90.40,432.00 C90.97,431.03 91.50,430.55 92.10,430.50 C92.70,430.45 93.20,430.98 94.00,431.70 C94.80,432.42 95.82,433.55 96.90,434.80 C97.98,436.05 99.30,437.75 100.50,439.20 C101.70,440.65 103.02,442.50 104.10,443.50 C105.18,444.50 105.68,444.67 107.00,445.20 C108.32,445.73 110.45,446.32 112.00,446.70 C113.55,447.08 114.97,447.20 116.30,447.50 C117.63,447.80 119.38,448.33 120.00,448.50" fill="none" stroke="#4848a8" stroke-width="1.2"/>
<rect x="51.5" y="394.5" width="70.0" height="63.0" fill="none" stroke="#231f20" stroke-width="1.05"/>
<line x1="48.40" y1="456.20" x2="51.20" y2="456.20" stroke="#231f20" stroke-width="0.9" />
<text x="46.00" y="458.10" font-size="5.3" fill="#333333" stroke="#333333" stroke-width="0.09" text-anchor="end">0</text>
<line x1="48.40" y1="437.50" x2="51.20" y2="437.50" stroke="#231f20" stroke-width="0.9" />
<text x="46.00" y="439.40" font-size="5.3" fill="#333333" stroke="#333333" stroke-width="0.09" text-anchor="end">5</text>
<line x1="48.40" y1="418.80" x2="51.20" y2="418.80" stroke="#231f20" stroke-width="0.9" />
<text x="46.00" y="420.70" font-size="5.3" fill="#333333" stroke="#333333" stroke-width="0.09" text-anchor="end">10</text>
<line x1="48.40" y1="400.30" x2="51.20" y2="400.30" stroke="#231f20" stroke-width="0.9" />
<text x="46.00" y="402.20" font-size="5.3" fill="#333333" stroke="#333333" stroke-width="0.09" text-anchor="end">15</text>
<line x1="53.60" y1="457.60" x2="53.60" y2="460.30" stroke="#231f20" stroke-width="0.9" />
<text x="50.30" y="468.50" font-size="5.3" fill="#333333" stroke="#333333" stroke-width="0.09" textLength="7.80" lengthAdjust="spacingAndGlyphs">–2k</text>
<line x1="70.10" y1="457.60" x2="70.10" y2="460.30" stroke="#231f20" stroke-width="0.9" />
<text x="66.80" y="468.50" font-size="5.3" fill="#333333" stroke="#333333" stroke-width="0.09" textLength="7.80" lengthAdjust="spacingAndGlyphs">–1k</text>
<line x1="86.70" y1="457.60" x2="86.70" y2="460.30" stroke="#231f20" stroke-width="0.9" />
<text x="85.60" y="468.50" font-size="5.3" fill="#333333" stroke="#333333" stroke-width="0.09" textLength="2.40" lengthAdjust="spacingAndGlyphs">0</text>
<line x1="103.20" y1="457.60" x2="103.20" y2="460.30" stroke="#231f20" stroke-width="0.9" />
<text x="101.00" y="468.50" font-size="5.3" fill="#333333" stroke="#333333" stroke-width="0.09" textLength="5.00" lengthAdjust="spacingAndGlyphs">1k</text>
<line x1="120.10" y1="457.60" x2="120.10" y2="460.30" stroke="#231f20" stroke-width="0.9" />
<text x="117.60" y="468.50" font-size="5.3" fill="#333333" stroke="#333333" stroke-width="0.09" textLength="5.40" lengthAdjust="spacingAndGlyphs">2k</text>
<text x="55.50" y="403.70" font-size="5.6" fill="#d7273a" stroke="#d7273a" stroke-width="0.14" textLength="22.20" lengthAdjust="spacingAndGlyphs">Activated</text>
<line x1="64.40" y1="405.80" x2="73.10" y2="417.50" stroke="#d7273a" stroke-width="0.5" />
<text x="86.80" y="452.90" font-size="5.6" fill="#4848a8" stroke="#4848a8" stroke-width="0.14" textLength="24.90" lengthAdjust="spacingAndGlyphs">Repressed</text>
<line x1="99.80" y1="449.00" x2="103.40" y2="445.00" stroke="#4848a8" stroke-width="0.5" />
<text transform="translate(25.60,430.00) rotate(-90)" font-size="6.3" stroke="#231f20" stroke-width="0.14" text-anchor="middle" textLength="57.30" lengthAdjust="spacingAndGlyphs">Mean ChIP-seq signal</text>
<text transform="translate(33.60,431.60) rotate(-90)" font-size="6.3" stroke="#231f20" stroke-width="0.14" text-anchor="middle" textLength="22.00" lengthAdjust="spacingAndGlyphs">(H3K27ac)</text>
<text x="58.00" y="480.10" font-size="7.5" stroke="#231f20" stroke-width="0.14" textLength="58.80" lengthAdjust="spacingAndGlyphs">Distance to PML/RARα</text>
<text x="59.20" y="488.40" font-size="7.5" stroke="#231f20" stroke-width="0.14" textLength="56.20" lengthAdjust="spacingAndGlyphs">binding peak summit</text>
<path d="M176.90,455.60 C178.85,455.55 185.43,455.47 188.60,455.30 C191.77,455.13 193.70,455.03 195.90,454.60 C198.10,454.17 200.08,453.75 201.80,452.70 C203.52,451.65 204.87,450.25 206.20,448.30 C207.53,446.35 208.72,443.43 209.80,441.00 C210.88,438.57 211.72,436.02 212.70,433.70 C213.68,431.38 214.60,429.42 215.70,427.10 C216.80,424.78 217.97,422.23 219.30,419.80 C220.63,417.37 222.23,414.82 223.70,412.50 C225.17,410.18 226.63,407.85 228.10,405.90 C229.57,403.95 231.05,402.15 232.50,400.80 C233.95,399.45 235.35,398.48 236.80,397.80 C238.25,397.12 239.48,396.93 241.20,396.70 C242.92,396.47 246.12,396.45 247.10,396.40" fill="none" stroke="#d7273a" stroke-width="1.2"/>
<path d="M176.90,455.60 C178.37,455.52 183.27,455.35 185.70,455.10 C188.13,454.85 189.55,454.62 191.50,454.10 C193.45,453.58 195.68,452.97 197.40,452.00 C199.12,451.03 200.47,450.02 201.80,448.30 C203.13,446.58 204.32,444.02 205.40,441.70 C206.48,439.38 207.32,437.20 208.30,434.40 C209.28,431.60 210.20,427.58 211.30,424.90 C212.40,422.22 213.57,420.62 214.90,418.30 C216.23,415.98 217.83,413.32 219.30,411.00 C220.77,408.68 222.23,406.23 223.70,404.40 C225.17,402.57 226.63,401.10 228.10,400.00 C229.57,398.90 230.80,398.35 232.50,397.80 C234.20,397.25 235.87,396.93 238.30,396.70 C240.73,396.47 245.63,396.45 247.10,396.40" fill="none" stroke="#4848a8" stroke-width="1.2"/>
<rect x="176.5" y="394.5" width="71.0" height="62.0" fill="none" stroke="#231f20" stroke-width="1.05"/>
<line x1="173.60" y1="454.80" x2="176.30" y2="454.80" stroke="#231f20" stroke-width="0.9" />
<text x="171.80" y="456.70" font-size="5.5" fill="#333333" stroke="#333333" stroke-width="0.14" text-anchor="end">0</text>
<line x1="173.60" y1="443.04" x2="176.30" y2="443.04" stroke="#231f20" stroke-width="0.9" />
<text x="171.80" y="444.94" font-size="5.5" fill="#333333" stroke="#333333" stroke-width="0.14" text-anchor="end">20</text>
<line x1="173.60" y1="431.28" x2="176.30" y2="431.28" stroke="#231f20" stroke-width="0.9" />
<text x="171.80" y="433.18" font-size="5.5" fill="#333333" stroke="#333333" stroke-width="0.14" text-anchor="end">40</text>
<line x1="173.60" y1="419.52" x2="176.30" y2="419.52" stroke="#231f20" stroke-width="0.9" />
<text x="171.80" y="421.42" font-size="5.5" fill="#333333" stroke="#333333" stroke-width="0.14" text-anchor="end">60</text>
<line x1="173.60" y1="407.76" x2="176.30" y2="407.76" stroke="#231f20" stroke-width="0.9" />
<text x="171.80" y="409.66" font-size="5.5" fill="#333333" stroke="#333333" stroke-width="0.14" text-anchor="end">80</text>
<line x1="173.60" y1="396.00" x2="176.30" y2="396.00" stroke="#231f20" stroke-width="0.9" />
<text x="171.80" y="397.90" font-size="5.5" fill="#333333" stroke="#333333" stroke-width="0.14" text-anchor="end">100</text>
<line x1="176.70" y1="456.30" x2="176.70" y2="459.00" stroke="#231f20" stroke-width="0.9" />
<text x="176.70" y="467.60" font-size="5.3" fill="#333333" stroke="#333333" stroke-width="0.09" text-anchor="middle">–4</text>
<line x1="194.05" y1="456.30" x2="194.05" y2="459.00" stroke="#231f20" stroke-width="0.9" />
<text x="194.05" y="467.60" font-size="5.3" fill="#333333" stroke="#333333" stroke-width="0.09" text-anchor="middle">–2</text>
<line x1="211.40" y1="456.30" x2="211.40" y2="459.00" stroke="#231f20" stroke-width="0.9" />
<text x="211.40" y="467.60" font-size="5.3" fill="#333333" stroke="#333333" stroke-width="0.09" text-anchor="middle">0</text>
<line x1="228.75" y1="456.30" x2="228.75" y2="459.00" stroke="#231f20" stroke-width="0.9" />
<text x="228.75" y="467.60" font-size="5.3" fill="#333333" stroke="#333333" stroke-width="0.09" text-anchor="middle">2</text>
<line x1="246.10" y1="456.30" x2="246.10" y2="459.00" stroke="#231f20" stroke-width="0.9" />
<text x="246.10" y="467.60" font-size="5.3" fill="#333333" stroke="#333333" stroke-width="0.09" text-anchor="middle">4</text>
<text x="185.70" y="408.60" font-size="5.6" fill="#4848a8" stroke="#4848a8" stroke-width="0.14" textLength="24.10" lengthAdjust="spacingAndGlyphs">Repressed</text>
<line x1="196.70" y1="410.80" x2="210.50" y2="424.20" stroke="#4848a8" stroke-width="0.5" />
<text x="217.10" y="443.40" font-size="5.6" fill="#d7273a" stroke="#d7273a" stroke-width="0.14" textLength="22.70" lengthAdjust="spacingAndGlyphs">Activated</text>
<line x1="217.80" y1="426.30" x2="225.20" y2="437.30" stroke="#d7273a" stroke-width="0.5" />
<text transform="translate(155.90,425.90) rotate(-90)" font-size="6.6" stroke="#231f20" stroke-width="0.14" text-anchor="middle" textLength="62.30" lengthAdjust="spacingAndGlyphs">% of Pol II-bound genes</text>
<text x="186.20" y="479.20" font-size="7.4" stroke="#231f20" stroke-width="0.14" textLength="8.60" lengthAdjust="spacingAndGlyphs">Log</text>
<text x="194.90" y="480.60" font-size="4.6" stroke="#231f20" stroke-width="0.09" textLength="1.90" lengthAdjust="spacingAndGlyphs">2</text>
<text x="197.30" y="479.20" font-size="7.4" stroke="#231f20" stroke-width="0.14" textLength="41.30" lengthAdjust="spacingAndGlyphs">(traveling ratio)</text>
<text x="7.00" y="17.00" font-size="12.2" fill="#000000" font-weight="bold">A</text>
<text x="187.70" y="17.00" font-size="12.2" fill="#000000" font-weight="bold">B</text>
<text x="304.70" y="17.00" font-size="12.2" fill="#000000" font-weight="bold">C</text>
<text x="7.20" y="251.00" font-size="12.2" fill="#000000" font-weight="bold">D</text>
<text x="187.90" y="251.00" font-size="12.2" fill="#000000" font-weight="bold">E</text>
<text x="306.30" y="250.60" font-size="12.2" fill="#000000" font-weight="bold">F</text>
<text x="6.80" y="388.50" font-size="12.2" fill="#000000" font-weight="bold">G</text>
<text x="138.60" y="388.20" font-size="12.2" fill="#000000" font-weight="bold">H</text>
<rect x="0" y="0" width="520" height="1.1" fill="#000"/>
<rect x="0" y="0" width="1.1" height="498" fill="#000"/>
<rect x="518.6" y="0" width="1.4" height="498" fill="#000"/>
<rect x="0" y="496.6" width="520" height="1.4" fill="#000"/></svg></body></html>
